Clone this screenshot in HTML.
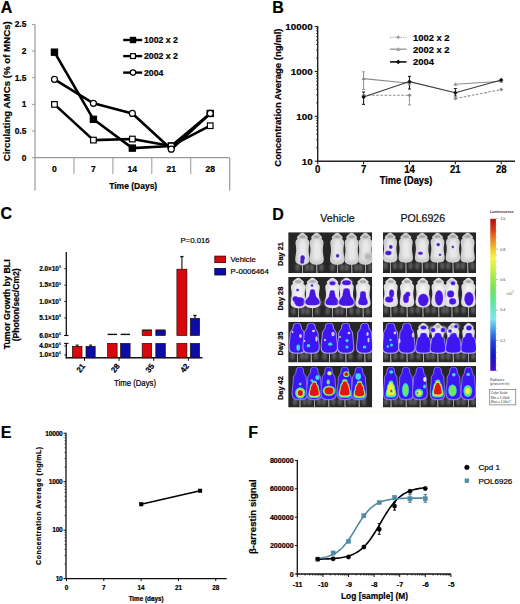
<!DOCTYPE html>
<html><head><meta charset="utf-8"><title>Figure</title>
<style>html,body{margin:0;padding:0;background:#fff;} svg{display:block;} text{font-family:"Liberation Sans", sans-serif;}</style>
</head><body>
<svg width="520" height="604" viewBox="0 0 520 604">
<defs>
<filter id="bl05" x="-50%" y="-50%" width="200%" height="200%"><feGaussianBlur stdDeviation="0.5"/></filter>
<filter id="bl07" x="-50%" y="-50%" width="200%" height="200%"><feGaussianBlur stdDeviation="0.7"/></filter>
<filter id="bl1" x="-50%" y="-50%" width="200%" height="200%"><feGaussianBlur stdDeviation="1.0"/></filter>
<filter id="bl15" x="-50%" y="-50%" width="200%" height="200%"><feGaussianBlur stdDeviation="1.5"/></filter>
</defs>
<rect width="520" height="604" fill="#fff"/>
<text x="0.80" y="12.80" font-size="16" font-weight="700" text-anchor="start" fill="#000"  stroke="#000" stroke-width="0.2">A</text>
<line x1="35.00" y1="24.40" x2="35.00" y2="190.50" stroke="#9a9a9a" stroke-width="1.2" />
<line x1="35.00" y1="157.70" x2="229.70" y2="157.70" stroke="#9a9a9a" stroke-width="1.2" />
<line x1="32.00" y1="157.70" x2="35.00" y2="157.70" stroke="#9a9a9a" stroke-width="1" />
<text x="26.30" y="160.70" font-size="8.4" font-weight="700" text-anchor="end" fill="#000"  stroke="#000" stroke-width="0.2">0</text>
<line x1="32.00" y1="131.05" x2="35.00" y2="131.05" stroke="#9a9a9a" stroke-width="1" />
<text x="26.30" y="134.05" font-size="8.4" font-weight="700" text-anchor="end" fill="#000"  stroke="#000" stroke-width="0.2">0.5</text>
<line x1="32.00" y1="104.40" x2="35.00" y2="104.40" stroke="#9a9a9a" stroke-width="1" />
<text x="26.30" y="107.40" font-size="8.4" font-weight="700" text-anchor="end" fill="#000"  stroke="#000" stroke-width="0.2">1</text>
<line x1="32.00" y1="77.75" x2="35.00" y2="77.75" stroke="#9a9a9a" stroke-width="1" />
<text x="26.30" y="80.75" font-size="8.4" font-weight="700" text-anchor="end" fill="#000"  stroke="#000" stroke-width="0.2">1.5</text>
<line x1="32.00" y1="51.10" x2="35.00" y2="51.10" stroke="#9a9a9a" stroke-width="1" />
<text x="26.30" y="54.10" font-size="8.4" font-weight="700" text-anchor="end" fill="#000"  stroke="#000" stroke-width="0.2">2</text>
<line x1="32.00" y1="24.45" x2="35.00" y2="24.45" stroke="#9a9a9a" stroke-width="1" />
<text x="26.30" y="27.45" font-size="8.4" font-weight="700" text-anchor="end" fill="#000"  stroke="#000" stroke-width="0.2">2.5</text>
<line x1="73.94" y1="157.70" x2="73.94" y2="174.00" stroke="#9a9a9a" stroke-width="1" />
<line x1="112.88" y1="157.70" x2="112.88" y2="174.00" stroke="#9a9a9a" stroke-width="1" />
<line x1="151.82" y1="157.70" x2="151.82" y2="174.00" stroke="#9a9a9a" stroke-width="1" />
<line x1="190.76" y1="157.70" x2="190.76" y2="174.00" stroke="#9a9a9a" stroke-width="1" />
<line x1="229.70" y1="157.70" x2="229.70" y2="190.50" stroke="#9a9a9a" stroke-width="1.2" />
<text x="54.47" y="172.30" font-size="8.6" font-weight="700" text-anchor="middle" fill="#000"  stroke="#000" stroke-width="0.2">0</text>
<text x="93.41" y="172.30" font-size="8.6" font-weight="700" text-anchor="middle" fill="#000"  stroke="#000" stroke-width="0.2">7</text>
<text x="132.35" y="172.30" font-size="8.6" font-weight="700" text-anchor="middle" fill="#000"  stroke="#000" stroke-width="0.2">14</text>
<text x="171.29" y="172.30" font-size="8.6" font-weight="700" text-anchor="middle" fill="#000"  stroke="#000" stroke-width="0.2">21</text>
<text x="210.23" y="172.30" font-size="8.6" font-weight="700" text-anchor="middle" fill="#000"  stroke="#000" stroke-width="0.2">28</text>
<text x="133.20" y="189.20" font-size="8.5" font-weight="700" text-anchor="middle" fill="#000"  stroke="#000" stroke-width="0.2">Time (Days)</text>
<text transform="translate(7.00,91.30) rotate(-90)" x="0" y="3.39" font-size="9.7" font-weight="700" text-anchor="middle" fill="#000"  stroke="#000" stroke-width="0.2">Circulating AMCs (% of MNCs)</text>
<polyline points="54.47,104.40 93.41,140.11 132.35,139.04 171.29,145.97 210.23,125.72" fill="none" stroke="#000" stroke-width="2.6" stroke-linejoin="round" />
<polyline points="54.47,52.17 93.41,119.32 132.35,148.11 171.29,145.97 210.23,113.46" fill="none" stroke="#000" stroke-width="2.6" stroke-linejoin="round" />
<polyline points="54.47,79.35 93.41,103.33 132.35,113.46 171.29,149.17 210.23,113.46" fill="none" stroke="#000" stroke-width="2.6" stroke-linejoin="round" />
<rect x="51.37" y="49.07" width="6.2" height="6.2" fill="#000" stroke="#000" stroke-width="1.2"/>
<rect x="90.31" y="116.22" width="6.2" height="6.2" fill="#000" stroke="#000" stroke-width="1.2"/>
<rect x="129.25" y="145.01" width="6.2" height="6.2" fill="#000" stroke="#000" stroke-width="1.2"/>
<rect x="168.19" y="142.87" width="6.2" height="6.2" fill="#000" stroke="#000" stroke-width="1.2"/>
<rect x="207.13" y="110.36" width="6.2" height="6.2" fill="#000" stroke="#000" stroke-width="1.2"/>
<rect x="51.67" y="101.60" width="5.6" height="5.6" fill="#fff" stroke="#000" stroke-width="1.2"/>
<rect x="90.61" y="137.31" width="5.6" height="5.6" fill="#fff" stroke="#000" stroke-width="1.2"/>
<rect x="129.55" y="136.24" width="5.6" height="5.6" fill="#fff" stroke="#000" stroke-width="1.2"/>
<rect x="168.49" y="143.17" width="5.6" height="5.6" fill="#fff" stroke="#000" stroke-width="1.2"/>
<rect x="207.43" y="122.92" width="5.6" height="5.6" fill="#fff" stroke="#000" stroke-width="1.2"/>
<circle cx="54.47" cy="79.35" r="3.0" fill="#fff" stroke="#000" stroke-width="1.2"/>
<circle cx="93.41" cy="103.33" r="3.0" fill="#fff" stroke="#000" stroke-width="1.2"/>
<circle cx="132.35" cy="113.46" r="3.0" fill="#fff" stroke="#000" stroke-width="1.2"/>
<circle cx="171.29" cy="149.17" r="3.0" fill="#fff" stroke="#000" stroke-width="1.2"/>
<circle cx="210.23" cy="113.46" r="3.0" fill="#fff" stroke="#000" stroke-width="1.2"/>
<line x1="123.20" y1="40.00" x2="142.20" y2="40.00" stroke="#000" stroke-width="2.4" />
<rect x="130.40" y="37.40" width="5.2" height="5.2" fill="#000" stroke="#000" stroke-width="1.2"/>
<text x="144.00" y="43.00" font-size="8.7" font-weight="700" text-anchor="start" fill="#000"  stroke="#000" stroke-width="0.2">1002 x 2</text>
<line x1="123.20" y1="56.10" x2="142.20" y2="56.10" stroke="#000" stroke-width="2.4" />
<rect x="130.60" y="53.70" width="4.8" height="4.8" fill="#fff" stroke="#000" stroke-width="1.2"/>
<text x="144.00" y="59.10" font-size="8.7" font-weight="700" text-anchor="start" fill="#000"  stroke="#000" stroke-width="0.2">2002 x 2</text>
<line x1="123.20" y1="72.60" x2="142.20" y2="72.60" stroke="#000" stroke-width="2.4" />
<circle cx="133.00" cy="72.60" r="2.7" fill="#fff" stroke="#000" stroke-width="1.2"/>
<text x="144.00" y="75.60" font-size="8.7" font-weight="700" text-anchor="start" fill="#000"  stroke="#000" stroke-width="0.2">2004</text>
<text x="272.30" y="12.80" font-size="16" font-weight="700" text-anchor="start" fill="#000"  stroke="#000" stroke-width="0.2">B</text>
<line x1="317.70" y1="26.09" x2="317.70" y2="162.00" stroke="#222" stroke-width="1.4" />
<line x1="317.00" y1="161.20" x2="515.00" y2="161.20" stroke="#222" stroke-width="1.6" />
<line x1="314.70" y1="161.20" x2="317.70" y2="161.20" stroke="#222" stroke-width="1.1" />
<text x="312.60" y="164.70" font-size="9.8" font-weight="700" text-anchor="end" fill="#000"  stroke="#000" stroke-width="0.2">10</text>
<line x1="316.00" y1="147.69" x2="317.70" y2="147.69" stroke="#222" stroke-width="0.8" />
<line x1="316.00" y1="139.79" x2="317.70" y2="139.79" stroke="#222" stroke-width="0.8" />
<line x1="316.00" y1="134.19" x2="317.70" y2="134.19" stroke="#222" stroke-width="0.8" />
<line x1="316.00" y1="129.84" x2="317.70" y2="129.84" stroke="#222" stroke-width="0.8" />
<line x1="316.00" y1="126.28" x2="317.70" y2="126.28" stroke="#222" stroke-width="0.8" />
<line x1="316.00" y1="123.28" x2="317.70" y2="123.28" stroke="#222" stroke-width="0.8" />
<line x1="316.00" y1="120.68" x2="317.70" y2="120.68" stroke="#222" stroke-width="0.8" />
<line x1="316.00" y1="118.38" x2="317.70" y2="118.38" stroke="#222" stroke-width="0.8" />
<line x1="314.70" y1="116.33" x2="317.70" y2="116.33" stroke="#222" stroke-width="1.1" />
<text x="312.60" y="119.83" font-size="9.8" font-weight="700" text-anchor="end" fill="#000"  stroke="#000" stroke-width="0.2">100</text>
<line x1="316.00" y1="102.82" x2="317.70" y2="102.82" stroke="#222" stroke-width="0.8" />
<line x1="316.00" y1="94.92" x2="317.70" y2="94.92" stroke="#222" stroke-width="0.8" />
<line x1="316.00" y1="89.32" x2="317.70" y2="89.32" stroke="#222" stroke-width="0.8" />
<line x1="316.00" y1="84.97" x2="317.70" y2="84.97" stroke="#222" stroke-width="0.8" />
<line x1="316.00" y1="81.41" x2="317.70" y2="81.41" stroke="#222" stroke-width="0.8" />
<line x1="316.00" y1="78.41" x2="317.70" y2="78.41" stroke="#222" stroke-width="0.8" />
<line x1="316.00" y1="75.81" x2="317.70" y2="75.81" stroke="#222" stroke-width="0.8" />
<line x1="316.00" y1="73.51" x2="317.70" y2="73.51" stroke="#222" stroke-width="0.8" />
<line x1="314.70" y1="71.46" x2="317.70" y2="71.46" stroke="#222" stroke-width="1.1" />
<text x="312.60" y="74.96" font-size="9.8" font-weight="700" text-anchor="end" fill="#000"  stroke="#000" stroke-width="0.2">1000</text>
<line x1="316.00" y1="57.95" x2="317.70" y2="57.95" stroke="#222" stroke-width="0.8" />
<line x1="316.00" y1="50.05" x2="317.70" y2="50.05" stroke="#222" stroke-width="0.8" />
<line x1="316.00" y1="44.45" x2="317.70" y2="44.45" stroke="#222" stroke-width="0.8" />
<line x1="316.00" y1="40.10" x2="317.70" y2="40.10" stroke="#222" stroke-width="0.8" />
<line x1="316.00" y1="36.54" x2="317.70" y2="36.54" stroke="#222" stroke-width="0.8" />
<line x1="316.00" y1="33.54" x2="317.70" y2="33.54" stroke="#222" stroke-width="0.8" />
<line x1="316.00" y1="30.94" x2="317.70" y2="30.94" stroke="#222" stroke-width="0.8" />
<line x1="316.00" y1="28.64" x2="317.70" y2="28.64" stroke="#222" stroke-width="0.8" />
<line x1="314.70" y1="26.59" x2="317.70" y2="26.59" stroke="#222" stroke-width="1.1" />
<text x="312.60" y="30.09" font-size="9.8" font-weight="700" text-anchor="end" fill="#000"  stroke="#000" stroke-width="0.2">10000</text>
<line x1="317.70" y1="161.20" x2="317.70" y2="164.20" stroke="#222" stroke-width="1.1" />
<text transform="translate(317.70,173.00) scale(1,1.15)" x="0" y="0" font-size="9.6" font-weight="700" text-anchor="middle" fill="#000"  stroke="#000" stroke-width="0.2">0</text>
<line x1="363.58" y1="161.20" x2="363.58" y2="164.20" stroke="#222" stroke-width="1.1" />
<text transform="translate(363.58,173.00) scale(1,1.15)" x="0" y="0" font-size="9.6" font-weight="700" text-anchor="middle" fill="#000"  stroke="#000" stroke-width="0.2">7</text>
<line x1="409.47" y1="161.20" x2="409.47" y2="164.20" stroke="#222" stroke-width="1.1" />
<text transform="translate(409.47,173.00) scale(1,1.15)" x="0" y="0" font-size="9.6" font-weight="700" text-anchor="middle" fill="#000"  stroke="#000" stroke-width="0.2">14</text>
<line x1="455.36" y1="161.20" x2="455.36" y2="164.20" stroke="#222" stroke-width="1.1" />
<text transform="translate(455.36,173.00) scale(1,1.15)" x="0" y="0" font-size="9.6" font-weight="700" text-anchor="middle" fill="#000"  stroke="#000" stroke-width="0.2">21</text>
<line x1="501.24" y1="161.20" x2="501.24" y2="164.20" stroke="#222" stroke-width="1.1" />
<text transform="translate(501.24,173.00) scale(1,1.15)" x="0" y="0" font-size="9.6" font-weight="700" text-anchor="middle" fill="#000"  stroke="#000" stroke-width="0.2">28</text>
<text transform="translate(406.00,184.30) scale(1,1.12)" x="0" y="0" font-size="9.3" font-weight="700" text-anchor="middle" fill="#000"  stroke="#000" stroke-width="0.2">Time (Days)</text>
<text transform="translate(278.00,97.60) rotate(-90)" x="0" y="3.32" font-size="9.5" font-weight="700" text-anchor="middle" fill="#000"  stroke="#000" stroke-width="0.2">Concentration Average (ng/ml)</text>
<line x1="363.58" y1="71.80" x2="363.58" y2="89.50" stroke="#9a9a9a" stroke-width="1.1" />
<line x1="362.08" y1="71.80" x2="365.08" y2="71.80" stroke="#9a9a9a" stroke-width="1.1" />
<line x1="362.08" y1="89.50" x2="365.08" y2="89.50" stroke="#9a9a9a" stroke-width="1.1" />
<line x1="409.47" y1="95.30" x2="409.47" y2="104.80" stroke="#9a9a9a" stroke-width="1.1" />
<line x1="407.97" y1="95.30" x2="410.97" y2="95.30" stroke="#9a9a9a" stroke-width="1.1" />
<line x1="407.97" y1="104.80" x2="410.97" y2="104.80" stroke="#9a9a9a" stroke-width="1.1" />
<line x1="363.58" y1="92.00" x2="363.58" y2="104.40" stroke="#222" stroke-width="1.1" />
<line x1="362.08" y1="92.00" x2="365.08" y2="92.00" stroke="#222" stroke-width="1.1" />
<line x1="362.08" y1="104.40" x2="365.08" y2="104.40" stroke="#222" stroke-width="1.1" />
<line x1="409.47" y1="76.40" x2="409.47" y2="89.00" stroke="#222" stroke-width="1.1" />
<line x1="407.97" y1="76.40" x2="410.97" y2="76.40" stroke="#222" stroke-width="1.1" />
<line x1="407.97" y1="89.00" x2="410.97" y2="89.00" stroke="#222" stroke-width="1.1" />
<line x1="455.36" y1="88.50" x2="455.36" y2="96.00" stroke="#222" stroke-width="1.0" />
<line x1="453.86" y1="88.50" x2="456.86" y2="88.50" stroke="#222" stroke-width="1.0" />
<line x1="453.86" y1="96.00" x2="456.86" y2="96.00" stroke="#222" stroke-width="1.0" />
<polyline points="363.58,95.30 409.47,95.30" fill="none" stroke="#8c8c8c" stroke-width="1.1" stroke-linejoin="round" stroke-dasharray="2.6,1.6"/>
<polyline points="455.36,98.60 501.24,89.50" fill="none" stroke="#8c8c8c" stroke-width="1.1" stroke-linejoin="round" stroke-dasharray="2.6,1.6"/>
<polyline points="363.58,78.60 409.47,83.30" fill="none" stroke="#8c8c8c" stroke-width="1.1" stroke-linejoin="round" />
<polyline points="455.36,84.30 501.24,81.20" fill="none" stroke="#8c8c8c" stroke-width="1.1" stroke-linejoin="round" />
<polyline points="363.58,97.00 409.47,81.60 455.36,92.70 501.24,80.00" fill="none" stroke="#3a3a3a" stroke-width="1.1" stroke-linejoin="round" />
<path d="M363.58,93.30 L365.58,95.30 L363.58,97.30 L361.58,95.30Z" fill="#8c8c8c"/>
<path d="M409.47,93.30 L411.47,95.30 L409.47,97.30 L407.47,95.30Z" fill="#8c8c8c"/>
<path d="M455.36,96.60 L457.36,98.60 L455.36,100.60 L453.36,98.60Z" fill="#8c8c8c"/>
<path d="M501.24,87.50 L503.24,89.50 L501.24,91.50 L499.24,89.50Z" fill="#8c8c8c"/>
<path d="M363.58,76.60 L365.58,80.10 L361.58,80.10Z" fill="#8c8c8c"/>
<path d="M409.47,81.30 L411.47,84.80 L407.47,84.80Z" fill="#8c8c8c"/>
<path d="M455.36,82.30 L457.36,85.80 L453.36,85.80Z" fill="#8c8c8c"/>
<path d="M501.24,79.20 L503.24,82.70 L499.24,82.70Z" fill="#8c8c8c"/>
<path d="M363.58,94.80 L365.78,97.00 L363.58,99.20 L361.38,97.00Z" fill="#111"/>
<path d="M409.47,79.40 L411.67,81.60 L409.47,83.80 L407.27,81.60Z" fill="#111"/>
<path d="M455.36,90.50 L457.56,92.70 L455.36,94.90 L453.16,92.70Z" fill="#111"/>
<path d="M501.24,77.80 L503.44,80.00 L501.24,82.20 L499.04,80.00Z" fill="#111"/>
<line x1="390.00" y1="37.30" x2="406.50" y2="37.30" stroke="#aaaaaa" stroke-width="1.2" stroke-dasharray="1.3,1.3"/>
<path d="M398.20,35.30 L400.20,37.30 L398.20,39.30 L396.20,37.30Z" fill="#9a9a9a"/>
<line x1="390.00" y1="49.20" x2="406.50" y2="49.20" stroke="#9a9a9a" stroke-width="1.4" />
<path d="M398.20,47.10 L400.30,50.78 L396.10,50.78Z" fill="#9a9a9a"/>
<line x1="390.00" y1="61.90" x2="406.50" y2="61.90" stroke="#111" stroke-width="1.6" />
<path d="M398.20,59.60 L400.50,61.90 L398.20,64.20 L395.90,61.90Z" fill="#111"/>
<text x="413.00" y="40.60" font-size="9.4" font-weight="700" text-anchor="start" fill="#000"  stroke="#000" stroke-width="0.2">1002 x 2</text>
<text x="413.00" y="52.50" font-size="9.4" font-weight="700" text-anchor="start" fill="#000"  stroke="#000" stroke-width="0.2">2002 x 2</text>
<text x="413.00" y="65.20" font-size="9.4" font-weight="700" text-anchor="start" fill="#000"  stroke="#000" stroke-width="0.2">2004</text>
<text x="0.50" y="219.00" font-size="16" font-weight="700" text-anchor="start" fill="#000"  stroke="#000" stroke-width="0.2">C</text>
<line x1="66.30" y1="252.00" x2="66.30" y2="335.50" stroke="#111" stroke-width="1.3" />
<line x1="64.10" y1="335.50" x2="68.50" y2="335.50" stroke="#111" stroke-width="1.1" />
<line x1="64.10" y1="343.40" x2="68.50" y2="343.40" stroke="#111" stroke-width="1.1" />
<line x1="66.30" y1="343.40" x2="66.30" y2="358.40" stroke="#111" stroke-width="1.3" />
<line x1="65.70" y1="357.80" x2="202.50" y2="357.80" stroke="#111" stroke-width="1.4" />
<line x1="64.30" y1="268.70" x2="66.30" y2="268.70" stroke="#111" stroke-width="0.9" />
<text x="58.9" y="270.90" font-size="6.4" font-weight="700" text-anchor="end" stroke="#000" stroke-width="0.2">2.0×10</text>
<text x="59.0" y="268.10" font-size="3.6" font-weight="700">9</text>
<line x1="64.30" y1="285.10" x2="66.30" y2="285.10" stroke="#111" stroke-width="0.9" />
<text x="58.9" y="287.30" font-size="6.4" font-weight="700" text-anchor="end" stroke="#000" stroke-width="0.2">1.5×10</text>
<text x="59.0" y="284.50" font-size="3.6" font-weight="700">9</text>
<line x1="64.30" y1="301.50" x2="66.30" y2="301.50" stroke="#111" stroke-width="0.9" />
<text x="58.9" y="303.70" font-size="6.4" font-weight="700" text-anchor="end" stroke="#000" stroke-width="0.2">1.0×10</text>
<text x="59.0" y="300.90" font-size="3.6" font-weight="700">9</text>
<line x1="64.30" y1="317.90" x2="66.30" y2="317.90" stroke="#111" stroke-width="0.9" />
<text x="58.9" y="320.10" font-size="6.4" font-weight="700" text-anchor="end" stroke="#000" stroke-width="0.2">5.1×10</text>
<text x="59.0" y="317.30" font-size="3.6" font-weight="700">8</text>
<line x1="64.30" y1="335.50" x2="66.30" y2="335.50" stroke="#111" stroke-width="0.9" />
<text x="58.9" y="337.70" font-size="6.4" font-weight="700" text-anchor="end" stroke="#000" stroke-width="0.2">6.0×10</text>
<text x="59.0" y="334.90" font-size="3.6" font-weight="700">6</text>
<line x1="64.30" y1="346.00" x2="66.30" y2="346.00" stroke="#111" stroke-width="0.9" />
<text x="58.9" y="348.20" font-size="6.4" font-weight="700" text-anchor="end" stroke="#000" stroke-width="0.2">4.0×10</text>
<text x="59.0" y="345.40" font-size="3.6" font-weight="700">6</text>
<line x1="64.30" y1="355.00" x2="66.30" y2="355.00" stroke="#111" stroke-width="0.9" />
<text x="58.9" y="357.20" font-size="6.4" font-weight="700" text-anchor="end" stroke="#000" stroke-width="0.2">1.0×10</text>
<text x="59.0" y="354.40" font-size="3.6" font-weight="700">6</text>
<rect x="72.40" y="346.30" width="9.60" height="11.50" fill="#d9070b" stroke="#2a0a0a" stroke-width="0.7"/>
<rect x="86.00" y="346.30" width="9.20" height="11.50" fill="#0c0ca6" stroke="#2a0a0a" stroke-width="0.7"/>
<line x1="77.20" y1="345.00" x2="77.20" y2="346.30" stroke="#111" stroke-width="0.9" />
<line x1="75.70" y1="345.00" x2="78.70" y2="345.00" stroke="#111" stroke-width="0.9" />
<line x1="75.70" y1="346.30" x2="78.70" y2="346.30" stroke="#111" stroke-width="0.9" />
<line x1="90.60" y1="345.00" x2="90.60" y2="346.30" stroke="#111" stroke-width="0.9" />
<line x1="89.10" y1="345.00" x2="92.10" y2="345.00" stroke="#111" stroke-width="0.9" />
<line x1="89.10" y1="346.30" x2="92.10" y2="346.30" stroke="#111" stroke-width="0.9" />
<rect x="107.60" y="343.40" width="9.50" height="14.40" fill="#d9070b" stroke="#2a0a0a" stroke-width="0.7"/>
<rect x="120.60" y="343.40" width="9.50" height="14.40" fill="#0c0ca6" stroke="#2a0a0a" stroke-width="0.7"/>
<rect x="142.20" y="343.40" width="9.50" height="14.40" fill="#d9070b" stroke="#2a0a0a" stroke-width="0.7"/>
<rect x="155.80" y="343.40" width="9.50" height="14.40" fill="#0c0ca6" stroke="#2a0a0a" stroke-width="0.7"/>
<rect x="176.90" y="343.40" width="10.00" height="14.40" fill="#d9070b" stroke="#2a0a0a" stroke-width="0.7"/>
<rect x="190.30" y="343.40" width="9.30" height="14.40" fill="#0c0ca6" stroke="#2a0a0a" stroke-width="0.7"/>
<line x1="107.60" y1="334.40" x2="117.10" y2="334.40" stroke="#111" stroke-width="1.4" />
<line x1="120.60" y1="334.40" x2="130.10" y2="334.40" stroke="#111" stroke-width="1.4" />
<rect x="142.20" y="330.30" width="9.50" height="5.20" fill="#d9070b" stroke="#2a0a0a" stroke-width="0.7"/>
<rect x="155.80" y="330.30" width="9.50" height="5.20" fill="#0c0ca6" stroke="#2a0a0a" stroke-width="0.7"/>
<line x1="142.20" y1="330.00" x2="151.70" y2="330.00" stroke="#111" stroke-width="1.0" />
<line x1="155.80" y1="330.00" x2="165.30" y2="330.00" stroke="#111" stroke-width="1.0" />
<line x1="181.90" y1="256.60" x2="181.90" y2="269.20" stroke="#222" stroke-width="1.2" />
<line x1="180.30" y1="256.60" x2="183.50" y2="256.60" stroke="#111" stroke-width="1.4" />
<rect x="176.90" y="269.20" width="10.00" height="66.30" fill="#d9070b" stroke="#2a0a0a" stroke-width="0.7"/>
<line x1="194.90" y1="315.50" x2="194.90" y2="318.30" stroke="#222" stroke-width="1.2" />
<line x1="193.30" y1="315.50" x2="196.50" y2="315.50" stroke="#111" stroke-width="1.4" />
<rect x="190.30" y="318.30" width="9.30" height="17.20" fill="#0c0ca6" stroke="#2a0a0a" stroke-width="0.7"/>
<line x1="84.50" y1="357.80" x2="84.50" y2="360.80" stroke="#111" stroke-width="1.0" />
<text transform="translate(83.40,364.40) rotate(-52)" x="0" y="2.8" font-size="8" font-weight="700" text-anchor="end" stroke="#000" stroke-width="0.2">21</text>
<line x1="119.10" y1="357.80" x2="119.10" y2="360.80" stroke="#111" stroke-width="1.0" />
<text transform="translate(118.00,364.40) rotate(-52)" x="0" y="2.8" font-size="8" font-weight="700" text-anchor="end" stroke="#000" stroke-width="0.2">28</text>
<line x1="153.70" y1="357.80" x2="153.70" y2="360.80" stroke="#111" stroke-width="1.0" />
<text transform="translate(152.60,364.40) rotate(-52)" x="0" y="2.8" font-size="8" font-weight="700" text-anchor="end" stroke="#000" stroke-width="0.2">35</text>
<line x1="188.40" y1="357.80" x2="188.40" y2="360.80" stroke="#111" stroke-width="1.0" />
<text transform="translate(187.30,364.40) rotate(-52)" x="0" y="2.8" font-size="8" font-weight="700" text-anchor="end" stroke="#000" stroke-width="0.2">42</text>
<text transform="translate(135.00,386.40) scale(1,1.12)" x="0" y="0" font-size="7.8" font-weight="400" text-anchor="middle" fill="#000"  stroke="#000" stroke-width="0.2">Time (Days)</text>
<text x="180.40" y="242.70" font-size="7.8" font-weight="400" text-anchor="start" fill="#000"  stroke="#000" stroke-width="0.2">P=0.016</text>
<rect x="214.8" y="256.1" width="10.8" height="6.5" fill="#d9070b" stroke="#300" stroke-width="0.8"/>
<rect x="214.8" y="268.5" width="10.8" height="6.5" fill="#0c0ca6" stroke="#003" stroke-width="0.8"/>
<text x="230.60" y="262.30" font-size="7.8" font-weight="400" text-anchor="start" fill="#000"  stroke="#000" stroke-width="0.2">Vehicle</text>
<text x="230.60" y="274.40" font-size="7.8" font-weight="400" text-anchor="start" fill="#000"  stroke="#000" stroke-width="0.2">P-0006464</text>
<text transform="translate(7.00,304.30) rotate(-90)" x="0" y="3.11" font-size="8.9" font-weight="700" text-anchor="middle" fill="#000"  stroke="#000" stroke-width="0.2">Tumor Growth by BLI</text>
<text transform="translate(15.60,304.80) rotate(-90)" x="0" y="3.01" font-size="8.6" font-weight="700" text-anchor="middle" fill="#000"  stroke="#000" stroke-width="0.2">(Photon/sec/Cm2)</text>
<text x="0.80" y="438.00" font-size="16" font-weight="700" text-anchor="start" fill="#000"  stroke="#000" stroke-width="0.2">E</text>
<line x1="66.00" y1="432.75" x2="66.00" y2="579.30" stroke="#111" stroke-width="1.3" />
<line x1="65.40" y1="578.60" x2="226.80" y2="578.60" stroke="#111" stroke-width="1.4" />
<line x1="63.50" y1="578.60" x2="66.00" y2="578.60" stroke="#111" stroke-width="1.0" />
<text x="62.6" y="580.90" font-size="6.6" font-weight="700" text-anchor="end" letter-spacing="-0.2" stroke="#000" stroke-width="0.2">10</text>
<line x1="64.50" y1="564.02" x2="66.00" y2="564.02" stroke="#111" stroke-width="0.7" />
<line x1="64.50" y1="555.48" x2="66.00" y2="555.48" stroke="#111" stroke-width="0.7" />
<line x1="64.50" y1="549.43" x2="66.00" y2="549.43" stroke="#111" stroke-width="0.7" />
<line x1="64.50" y1="544.73" x2="66.00" y2="544.73" stroke="#111" stroke-width="0.7" />
<line x1="64.50" y1="540.90" x2="66.00" y2="540.90" stroke="#111" stroke-width="0.7" />
<line x1="64.50" y1="537.65" x2="66.00" y2="537.65" stroke="#111" stroke-width="0.7" />
<line x1="64.50" y1="534.85" x2="66.00" y2="534.85" stroke="#111" stroke-width="0.7" />
<line x1="64.50" y1="532.37" x2="66.00" y2="532.37" stroke="#111" stroke-width="0.7" />
<line x1="63.50" y1="530.15" x2="66.00" y2="530.15" stroke="#111" stroke-width="1.0" />
<text x="62.6" y="532.45" font-size="6.6" font-weight="700" text-anchor="end" letter-spacing="-0.2" stroke="#000" stroke-width="0.2">100</text>
<line x1="64.50" y1="515.57" x2="66.00" y2="515.57" stroke="#111" stroke-width="0.7" />
<line x1="64.50" y1="507.03" x2="66.00" y2="507.03" stroke="#111" stroke-width="0.7" />
<line x1="64.50" y1="500.98" x2="66.00" y2="500.98" stroke="#111" stroke-width="0.7" />
<line x1="64.50" y1="496.28" x2="66.00" y2="496.28" stroke="#111" stroke-width="0.7" />
<line x1="64.50" y1="492.45" x2="66.00" y2="492.45" stroke="#111" stroke-width="0.7" />
<line x1="64.50" y1="489.20" x2="66.00" y2="489.20" stroke="#111" stroke-width="0.7" />
<line x1="64.50" y1="486.40" x2="66.00" y2="486.40" stroke="#111" stroke-width="0.7" />
<line x1="64.50" y1="483.92" x2="66.00" y2="483.92" stroke="#111" stroke-width="0.7" />
<line x1="63.50" y1="481.70" x2="66.00" y2="481.70" stroke="#111" stroke-width="1.0" />
<text x="62.6" y="484.00" font-size="6.6" font-weight="700" text-anchor="end" letter-spacing="-0.2" stroke="#000" stroke-width="0.2">1000</text>
<line x1="64.50" y1="467.12" x2="66.00" y2="467.12" stroke="#111" stroke-width="0.7" />
<line x1="64.50" y1="458.58" x2="66.00" y2="458.58" stroke="#111" stroke-width="0.7" />
<line x1="64.50" y1="452.53" x2="66.00" y2="452.53" stroke="#111" stroke-width="0.7" />
<line x1="64.50" y1="447.83" x2="66.00" y2="447.83" stroke="#111" stroke-width="0.7" />
<line x1="64.50" y1="444.00" x2="66.00" y2="444.00" stroke="#111" stroke-width="0.7" />
<line x1="64.50" y1="440.75" x2="66.00" y2="440.75" stroke="#111" stroke-width="0.7" />
<line x1="64.50" y1="437.95" x2="66.00" y2="437.95" stroke="#111" stroke-width="0.7" />
<line x1="64.50" y1="435.47" x2="66.00" y2="435.47" stroke="#111" stroke-width="0.7" />
<line x1="63.50" y1="433.25" x2="66.00" y2="433.25" stroke="#111" stroke-width="1.0" />
<text x="62.6" y="435.55" font-size="6.6" font-weight="700" text-anchor="end" letter-spacing="-0.2" stroke="#000" stroke-width="0.2">10000</text>
<line x1="66.50" y1="578.60" x2="66.50" y2="581.10" stroke="#111" stroke-width="1.0" />
<text x="66.50" y="589.60" font-size="6.4" font-weight="700" text-anchor="middle" fill="#000"  stroke="#000" stroke-width="0.2">0</text>
<line x1="103.81" y1="578.60" x2="103.81" y2="581.10" stroke="#111" stroke-width="1.0" />
<text x="103.81" y="589.60" font-size="6.4" font-weight="700" text-anchor="middle" fill="#000"  stroke="#000" stroke-width="0.2">7</text>
<line x1="141.12" y1="578.60" x2="141.12" y2="581.10" stroke="#111" stroke-width="1.0" />
<text x="141.12" y="589.60" font-size="6.4" font-weight="700" text-anchor="middle" fill="#000"  stroke="#000" stroke-width="0.2">14</text>
<line x1="178.43" y1="578.60" x2="178.43" y2="581.10" stroke="#111" stroke-width="1.0" />
<text x="178.43" y="589.60" font-size="6.4" font-weight="700" text-anchor="middle" fill="#000"  stroke="#000" stroke-width="0.2">21</text>
<line x1="215.74" y1="578.60" x2="215.74" y2="581.10" stroke="#111" stroke-width="1.0" />
<text x="215.74" y="589.60" font-size="6.4" font-weight="700" text-anchor="middle" fill="#000"  stroke="#000" stroke-width="0.2">28</text>
<text x="146.10" y="600.50" font-size="6.3" font-weight="700" text-anchor="middle" fill="#000"  stroke="#000" stroke-width="0.2">Time (days)</text>
<text transform="translate(38.80,505.60) rotate(-90)" x="0" y="2.45" font-size="7" font-weight="700" text-anchor="middle" fill="#000" letter-spacing="0.5" stroke="#000" stroke-width="0.2">Concentration Average (ng/mL)</text>
<polyline points="141.20,504.20 200.10,490.80" fill="none" stroke="#000" stroke-width="1.6" stroke-linejoin="round" />
<rect x="139.40" y="502.40" width="3.6" height="3.6" fill="#000" stroke="#000" stroke-width="0.5"/>
<rect x="198.30" y="489.00" width="3.6" height="3.6" fill="#000" stroke="#000" stroke-width="0.5"/>
<text x="248.20" y="438.00" font-size="16" font-weight="700" text-anchor="start" fill="#000"  stroke="#000" stroke-width="0.2">F</text>
<line x1="297.30" y1="459.90" x2="297.30" y2="574.70" stroke="#111" stroke-width="1.3" />
<line x1="296.70" y1="574.00" x2="450.90" y2="574.00" stroke="#111" stroke-width="1.4" />
<line x1="294.80" y1="574.00" x2="297.30" y2="574.00" stroke="#111" stroke-width="1.0" />
<text x="293.60" y="576.50" font-size="7.1" font-weight="700" text-anchor="end" fill="#000"  stroke="#000" stroke-width="0.2">0</text>
<line x1="294.80" y1="545.60" x2="297.30" y2="545.60" stroke="#111" stroke-width="1.0" />
<text x="293.60" y="548.10" font-size="7.1" font-weight="700" text-anchor="end" fill="#000"  stroke="#000" stroke-width="0.2">200000</text>
<line x1="294.80" y1="517.20" x2="297.30" y2="517.20" stroke="#111" stroke-width="1.0" />
<text x="293.60" y="519.70" font-size="7.1" font-weight="700" text-anchor="end" fill="#000"  stroke="#000" stroke-width="0.2">400000</text>
<line x1="294.80" y1="488.80" x2="297.30" y2="488.80" stroke="#111" stroke-width="1.0" />
<text x="293.60" y="491.30" font-size="7.1" font-weight="700" text-anchor="end" fill="#000"  stroke="#000" stroke-width="0.2">600000</text>
<line x1="294.80" y1="460.40" x2="297.30" y2="460.40" stroke="#111" stroke-width="1.0" />
<text x="293.60" y="462.90" font-size="7.1" font-weight="700" text-anchor="end" fill="#000"  stroke="#000" stroke-width="0.2">800000</text>
<line x1="297.30" y1="574.00" x2="297.30" y2="577.00" stroke="#111" stroke-width="1.0" />
<text x="297.60" y="586.60" font-size="7.1" font-weight="700" text-anchor="middle" fill="#000"  stroke="#000" stroke-width="0.2">-11</text>
<line x1="305.01" y1="574.00" x2="305.01" y2="575.60" stroke="#111" stroke-width="0.7" />
<line x1="309.51" y1="574.00" x2="309.51" y2="575.60" stroke="#111" stroke-width="0.7" />
<line x1="312.71" y1="574.00" x2="312.71" y2="575.60" stroke="#111" stroke-width="0.7" />
<line x1="315.19" y1="574.00" x2="315.19" y2="575.60" stroke="#111" stroke-width="0.7" />
<line x1="317.22" y1="574.00" x2="317.22" y2="575.60" stroke="#111" stroke-width="0.7" />
<line x1="318.93" y1="574.00" x2="318.93" y2="575.60" stroke="#111" stroke-width="0.7" />
<line x1="320.42" y1="574.00" x2="320.42" y2="575.60" stroke="#111" stroke-width="0.7" />
<line x1="321.73" y1="574.00" x2="321.73" y2="575.60" stroke="#111" stroke-width="0.7" />
<line x1="322.90" y1="574.00" x2="322.90" y2="577.00" stroke="#111" stroke-width="1.0" />
<text x="323.20" y="586.60" font-size="7.1" font-weight="700" text-anchor="middle" fill="#000"  stroke="#000" stroke-width="0.2">-10</text>
<line x1="330.61" y1="574.00" x2="330.61" y2="575.60" stroke="#111" stroke-width="0.7" />
<line x1="335.11" y1="574.00" x2="335.11" y2="575.60" stroke="#111" stroke-width="0.7" />
<line x1="338.31" y1="574.00" x2="338.31" y2="575.60" stroke="#111" stroke-width="0.7" />
<line x1="340.79" y1="574.00" x2="340.79" y2="575.60" stroke="#111" stroke-width="0.7" />
<line x1="342.82" y1="574.00" x2="342.82" y2="575.60" stroke="#111" stroke-width="0.7" />
<line x1="344.53" y1="574.00" x2="344.53" y2="575.60" stroke="#111" stroke-width="0.7" />
<line x1="346.02" y1="574.00" x2="346.02" y2="575.60" stroke="#111" stroke-width="0.7" />
<line x1="347.33" y1="574.00" x2="347.33" y2="575.60" stroke="#111" stroke-width="0.7" />
<line x1="348.50" y1="574.00" x2="348.50" y2="577.00" stroke="#111" stroke-width="1.0" />
<text x="348.80" y="586.60" font-size="7.1" font-weight="700" text-anchor="middle" fill="#000"  stroke="#000" stroke-width="0.2">-9</text>
<line x1="356.21" y1="574.00" x2="356.21" y2="575.60" stroke="#111" stroke-width="0.7" />
<line x1="360.71" y1="574.00" x2="360.71" y2="575.60" stroke="#111" stroke-width="0.7" />
<line x1="363.91" y1="574.00" x2="363.91" y2="575.60" stroke="#111" stroke-width="0.7" />
<line x1="366.39" y1="574.00" x2="366.39" y2="575.60" stroke="#111" stroke-width="0.7" />
<line x1="368.42" y1="574.00" x2="368.42" y2="575.60" stroke="#111" stroke-width="0.7" />
<line x1="370.13" y1="574.00" x2="370.13" y2="575.60" stroke="#111" stroke-width="0.7" />
<line x1="371.62" y1="574.00" x2="371.62" y2="575.60" stroke="#111" stroke-width="0.7" />
<line x1="372.93" y1="574.00" x2="372.93" y2="575.60" stroke="#111" stroke-width="0.7" />
<line x1="374.10" y1="574.00" x2="374.10" y2="577.00" stroke="#111" stroke-width="1.0" />
<text x="374.40" y="586.60" font-size="7.1" font-weight="700" text-anchor="middle" fill="#000"  stroke="#000" stroke-width="0.2">-8</text>
<line x1="381.81" y1="574.00" x2="381.81" y2="575.60" stroke="#111" stroke-width="0.7" />
<line x1="386.31" y1="574.00" x2="386.31" y2="575.60" stroke="#111" stroke-width="0.7" />
<line x1="389.51" y1="574.00" x2="389.51" y2="575.60" stroke="#111" stroke-width="0.7" />
<line x1="391.99" y1="574.00" x2="391.99" y2="575.60" stroke="#111" stroke-width="0.7" />
<line x1="394.02" y1="574.00" x2="394.02" y2="575.60" stroke="#111" stroke-width="0.7" />
<line x1="395.73" y1="574.00" x2="395.73" y2="575.60" stroke="#111" stroke-width="0.7" />
<line x1="397.22" y1="574.00" x2="397.22" y2="575.60" stroke="#111" stroke-width="0.7" />
<line x1="398.53" y1="574.00" x2="398.53" y2="575.60" stroke="#111" stroke-width="0.7" />
<line x1="399.70" y1="574.00" x2="399.70" y2="577.00" stroke="#111" stroke-width="1.0" />
<text x="400.00" y="586.60" font-size="7.1" font-weight="700" text-anchor="middle" fill="#000"  stroke="#000" stroke-width="0.2">-7</text>
<line x1="407.41" y1="574.00" x2="407.41" y2="575.60" stroke="#111" stroke-width="0.7" />
<line x1="411.91" y1="574.00" x2="411.91" y2="575.60" stroke="#111" stroke-width="0.7" />
<line x1="415.11" y1="574.00" x2="415.11" y2="575.60" stroke="#111" stroke-width="0.7" />
<line x1="417.59" y1="574.00" x2="417.59" y2="575.60" stroke="#111" stroke-width="0.7" />
<line x1="419.62" y1="574.00" x2="419.62" y2="575.60" stroke="#111" stroke-width="0.7" />
<line x1="421.33" y1="574.00" x2="421.33" y2="575.60" stroke="#111" stroke-width="0.7" />
<line x1="422.82" y1="574.00" x2="422.82" y2="575.60" stroke="#111" stroke-width="0.7" />
<line x1="424.13" y1="574.00" x2="424.13" y2="575.60" stroke="#111" stroke-width="0.7" />
<line x1="425.30" y1="574.00" x2="425.30" y2="577.00" stroke="#111" stroke-width="1.0" />
<text x="425.60" y="586.60" font-size="7.1" font-weight="700" text-anchor="middle" fill="#000"  stroke="#000" stroke-width="0.2">-6</text>
<line x1="433.01" y1="574.00" x2="433.01" y2="575.60" stroke="#111" stroke-width="0.7" />
<line x1="437.51" y1="574.00" x2="437.51" y2="575.60" stroke="#111" stroke-width="0.7" />
<line x1="440.71" y1="574.00" x2="440.71" y2="575.60" stroke="#111" stroke-width="0.7" />
<line x1="443.19" y1="574.00" x2="443.19" y2="575.60" stroke="#111" stroke-width="0.7" />
<line x1="445.22" y1="574.00" x2="445.22" y2="575.60" stroke="#111" stroke-width="0.7" />
<line x1="446.93" y1="574.00" x2="446.93" y2="575.60" stroke="#111" stroke-width="0.7" />
<line x1="448.42" y1="574.00" x2="448.42" y2="575.60" stroke="#111" stroke-width="0.7" />
<line x1="449.73" y1="574.00" x2="449.73" y2="575.60" stroke="#111" stroke-width="0.7" />
<line x1="450.90" y1="574.00" x2="450.90" y2="577.00" stroke="#111" stroke-width="1.0" />
<text x="451.20" y="586.60" font-size="7.1" font-weight="700" text-anchor="middle" fill="#000"  stroke="#000" stroke-width="0.2">-5</text>
<text x="374.50" y="599.30" font-size="8.4" font-weight="700" text-anchor="middle" fill="#000"  stroke="#000" stroke-width="0.2">Log [sample] (M)</text>
<text transform="translate(252.30,516.70) rotate(-90)" x="0" y="3.36" font-size="9.6" font-weight="700" text-anchor="middle" fill="#000"  stroke="#000" stroke-width="0.2">β-arrestin signal</text>
<polyline points="317.78,559.18 319.12,559.15 320.47,559.12 321.81,559.09 323.16,559.05 324.50,559.01 325.84,558.96 327.19,558.90 328.53,558.84 329.88,558.77 331.22,558.69 332.56,558.60 333.91,558.49 335.25,558.37 336.60,558.24 337.94,558.09 339.28,557.92 340.63,557.73 341.97,557.51 343.32,557.27 344.66,556.99 346.00,556.68 347.35,556.33 348.69,555.94 350.04,555.50 351.38,555.01 352.72,554.45 354.07,553.84 355.41,553.15 356.76,552.39 358.10,551.55 359.44,550.62 360.79,549.59 362.13,548.47 363.48,547.24 364.82,545.90 366.16,544.45 367.51,542.89 368.85,541.22 370.20,539.43 371.54,537.55 372.88,535.56 374.23,533.48 375.57,531.33 376.92,529.12 378.26,526.85 379.60,524.56 380.95,522.25 382.29,519.95 383.64,517.68 384.98,515.44 386.32,513.27 387.67,511.17 389.01,509.15 390.36,507.23 391.70,505.41 393.04,503.70 394.39,502.10 395.73,500.61 397.08,499.24 398.42,497.97 399.76,496.81 401.11,495.76 402.45,494.79 403.80,493.92 405.14,493.13 406.48,492.42 407.83,491.79 409.17,491.21 410.52,490.70 411.86,490.25 413.20,489.84 414.55,489.48 415.89,489.15 417.24,488.87 418.58,488.61 419.92,488.38 421.27,488.18 422.61,488.01 423.96,487.85 425.30,487.71" fill="none" stroke="#000" stroke-width="1.6" stroke-linejoin="round" />
<polyline points="317.78,558.36 319.12,558.21 320.47,558.03 321.81,557.83 323.16,557.59 324.50,557.32 325.84,557.01 327.19,556.66 328.53,556.26 329.88,555.80 331.22,555.28 332.56,554.69 333.91,554.03 335.25,553.27 336.60,552.43 337.94,551.49 339.28,550.43 340.63,549.27 341.97,547.98 343.32,546.58 344.66,545.04 346.00,543.39 347.35,541.62 348.69,539.73 350.04,537.75 351.38,535.68 352.72,533.53 354.07,531.34 355.41,529.13 356.76,526.90 358.10,524.70 359.44,522.54 360.79,520.44 362.13,518.42 363.48,516.49 364.82,514.68 366.16,512.98 367.51,511.40 368.85,509.94 370.20,508.61 371.54,507.40 372.88,506.31 374.23,505.32 375.57,504.44 376.92,503.65 378.26,502.96 379.60,502.34 380.95,501.79 382.29,501.31 383.64,500.89 384.98,500.52 386.32,500.19 387.67,499.91 389.01,499.66 390.36,499.45 391.70,499.26 393.04,499.10 394.39,498.96 395.73,498.83 397.08,498.72 398.42,498.63 399.76,498.55 401.11,498.48 402.45,498.42 403.80,498.37 405.14,498.32 406.48,498.28 407.83,498.25 409.17,498.22 410.52,498.19 411.86,498.17 413.20,498.15 414.55,498.14 415.89,498.12 417.24,498.11 418.58,498.10 419.92,498.09 421.27,498.08 422.61,498.07 423.96,498.07 425.30,498.06" fill="none" stroke="#4f8aa6" stroke-width="1.6" stroke-linejoin="round" />
<rect x="315.68" y="557.13" width="4.2" height="4.2" fill="#4f8aa6" stroke="#4f8aa6" stroke-width="0.4"/>
<rect x="331.04" y="550.88" width="4.2" height="4.2" fill="#4f8aa6" stroke="#4f8aa6" stroke-width="0.4"/>
<rect x="346.40" y="539.24" width="4.2" height="4.2" fill="#4f8aa6" stroke="#4f8aa6" stroke-width="0.4"/>
<rect x="361.76" y="513.68" width="4.2" height="4.2" fill="#4f8aa6" stroke="#4f8aa6" stroke-width="0.4"/>
<rect x="377.12" y="500.47" width="4.2" height="4.2" fill="#4f8aa6" stroke="#4f8aa6" stroke-width="0.4"/>
<rect x="392.48" y="495.22" width="4.2" height="4.2" fill="#4f8aa6" stroke="#4f8aa6" stroke-width="0.4"/>
<rect x="407.84" y="496.64" width="4.2" height="4.2" fill="#4f8aa6" stroke="#4f8aa6" stroke-width="0.4"/>
<rect x="423.20" y="496.64" width="4.2" height="4.2" fill="#4f8aa6" stroke="#4f8aa6" stroke-width="0.4"/>
<line x1="409.94" y1="494.48" x2="409.94" y2="502.29" stroke="#4f8aa6" stroke-width="1.2" />
<line x1="408.24" y1="494.48" x2="411.64" y2="494.48" stroke="#4f8aa6" stroke-width="1.2" />
<line x1="408.24" y1="502.29" x2="411.64" y2="502.29" stroke="#4f8aa6" stroke-width="1.2" />
<line x1="425.30" y1="494.48" x2="425.30" y2="502.29" stroke="#4f8aa6" stroke-width="1.2" />
<line x1="423.60" y1="494.48" x2="427.00" y2="494.48" stroke="#4f8aa6" stroke-width="1.2" />
<line x1="423.60" y1="502.29" x2="427.00" y2="502.29" stroke="#4f8aa6" stroke-width="1.2" />
<circle cx="317.78" cy="559.09" r="2.2" fill="#000" stroke="#000" stroke-width="0.3"/>
<circle cx="333.14" cy="558.81" r="2.2" fill="#000" stroke="#000" stroke-width="0.3"/>
<circle cx="348.50" cy="556.96" r="2.2" fill="#000" stroke="#000" stroke-width="0.3"/>
<circle cx="363.86" cy="547.02" r="2.2" fill="#000" stroke="#000" stroke-width="0.3"/>
<circle cx="379.22" cy="529.27" r="2.2" fill="#000" stroke="#000" stroke-width="0.3"/>
<circle cx="394.58" cy="506.12" r="2.2" fill="#000" stroke="#000" stroke-width="0.3"/>
<circle cx="409.94" cy="491.21" r="2.2" fill="#000" stroke="#000" stroke-width="0.3"/>
<circle cx="425.30" cy="488.52" r="2.2" fill="#000" stroke="#000" stroke-width="0.3"/>
<line x1="379.22" y1="523.59" x2="379.22" y2="534.24" stroke="#000" stroke-width="1.0" />
<line x1="377.72" y1="523.59" x2="380.72" y2="523.59" stroke="#000" stroke-width="1.0" />
<line x1="377.72" y1="534.24" x2="380.72" y2="534.24" stroke="#000" stroke-width="1.0" />
<line x1="394.58" y1="502.29" x2="394.58" y2="510.10" stroke="#000" stroke-width="1.0" />
<line x1="393.08" y1="502.29" x2="396.08" y2="502.29" stroke="#000" stroke-width="1.0" />
<line x1="393.08" y1="510.10" x2="396.08" y2="510.10" stroke="#000" stroke-width="1.0" />
<circle cx="466.90" cy="467.40" r="2.4" fill="#000" stroke="#000" stroke-width="0.3"/>
<rect x="464.90" y="478.80" width="4.0" height="4.0" fill="#4f8aa6" stroke="#4f8aa6" stroke-width="0.3"/>
<text x="478.50" y="470.20" font-size="8" font-weight="400" text-anchor="start" fill="#000"  stroke="#000" stroke-width="0.2">Cpd 1</text>
<text x="478.50" y="483.60" font-size="8" font-weight="400" text-anchor="start" fill="#000"  stroke="#000" stroke-width="0.2">POL6926</text>
<text x="272.30" y="219.80" font-size="16" font-weight="700" text-anchor="start" fill="#000"  stroke="#000" stroke-width="0.2">D</text>
<text x="320.30" y="221.60" font-size="10.7" font-weight="400" text-anchor="start" fill="#111"  stroke="#111" stroke-width="0.2">Vehicle</text>
<text x="400.40" y="221.60" font-size="10.6" font-weight="400" text-anchor="start" fill="#111"  stroke="#111" stroke-width="0.2">POL6926</text>
<text transform="translate(280.60,254.00) rotate(-90)" x="0" y="2.59" font-size="7.4" font-weight="700" text-anchor="middle" fill="#000"  stroke="#000" stroke-width="0.2">Day 21</text>
<text transform="translate(280.60,298.65) rotate(-90)" x="0" y="2.59" font-size="7.4" font-weight="700" text-anchor="middle" fill="#000"  stroke="#000" stroke-width="0.2">Day 28</text>
<text transform="translate(280.60,343.50) rotate(-90)" x="0" y="2.59" font-size="7.4" font-weight="700" text-anchor="middle" fill="#000"  stroke="#000" stroke-width="0.2">Day 35</text>
<text transform="translate(280.60,388.15) rotate(-90)" x="0" y="2.59" font-size="7.4" font-weight="700" text-anchor="middle" fill="#000"  stroke="#000" stroke-width="0.2">Day 42</text>
<clipPath id="c288_232"><rect x="288.2" y="232.2" width="84.00" height="40.80"/></clipPath>
<g clip-path="url(#c288_232)">
<rect x="288.2" y="232.2" width="84.00" height="40.80" fill="#262626"/>
<ellipse cx="297.60" cy="267.50" rx="2.20" ry="3.80" fill="#5c5c5c" filter="url(#bl1)" opacity="1.0"/>
<ellipse cx="307.20" cy="267.50" rx="2.20" ry="3.80" fill="#5c5c5c" filter="url(#bl1)" opacity="1.0"/>
<line x1="302.40" y1="262.50" x2="302.70" y2="273.00" stroke="#b0b0b0" stroke-width="1.1" filter="url(#bl05)"/>
<ellipse cx="311.80" cy="267.50" rx="2.20" ry="3.80" fill="#5c5c5c" filter="url(#bl1)" opacity="1.0"/>
<ellipse cx="321.40" cy="267.50" rx="2.20" ry="3.80" fill="#5c5c5c" filter="url(#bl1)" opacity="1.0"/>
<line x1="316.60" y1="262.50" x2="316.90" y2="273.00" stroke="#b0b0b0" stroke-width="1.1" filter="url(#bl05)"/>
<ellipse cx="332.40" cy="267.50" rx="2.20" ry="3.80" fill="#5c5c5c" filter="url(#bl1)" opacity="1.0"/>
<ellipse cx="342.00" cy="267.50" rx="2.20" ry="3.80" fill="#5c5c5c" filter="url(#bl1)" opacity="1.0"/>
<line x1="337.20" y1="262.50" x2="337.50" y2="273.00" stroke="#b0b0b0" stroke-width="1.1" filter="url(#bl05)"/>
<ellipse cx="346.80" cy="267.50" rx="2.20" ry="3.80" fill="#5c5c5c" filter="url(#bl1)" opacity="1.0"/>
<ellipse cx="356.40" cy="267.50" rx="2.20" ry="3.80" fill="#5c5c5c" filter="url(#bl1)" opacity="1.0"/>
<line x1="351.60" y1="262.50" x2="351.90" y2="273.00" stroke="#b0b0b0" stroke-width="1.1" filter="url(#bl05)"/>
<ellipse cx="360.60" cy="267.50" rx="2.20" ry="3.80" fill="#5c5c5c" filter="url(#bl1)" opacity="1.0"/>
<ellipse cx="370.20" cy="267.50" rx="2.20" ry="3.80" fill="#5c5c5c" filter="url(#bl1)" opacity="1.0"/>
<line x1="365.40" y1="262.50" x2="365.70" y2="273.00" stroke="#b0b0b0" stroke-width="1.1" filter="url(#bl05)"/>
<path d="M302.40,232.60 C302.95,232.60 303.50,232.87 304.06,233.24 C304.61,233.62 305.16,234.32 305.71,234.85 C306.26,235.39 307.00,236.03 307.37,236.46 C307.74,236.89 307.92,237.05 307.92,237.43 C307.92,237.81 307.21,238.18 307.37,238.72 C307.53,239.25 308.56,239.90 308.89,240.65 C309.21,241.40 309.32,242.15 309.30,243.23 C309.28,244.30 308.86,245.75 308.75,247.09 C308.63,248.43 308.54,249.83 308.61,251.28 C308.68,252.73 309.00,254.39 309.16,255.78 C309.32,257.18 309.64,258.52 309.58,259.65 C309.51,260.78 309.37,261.77 308.75,262.55 C308.13,263.32 306.91,263.94 305.85,264.32 C304.79,264.69 303.55,264.80 302.40,264.80 C301.25,264.80 300.01,264.69 298.95,264.32 C297.89,263.94 296.67,263.32 296.05,262.55 C295.43,261.77 295.29,260.78 295.22,259.65 C295.15,258.52 295.48,257.18 295.64,255.78 C295.80,254.39 296.12,252.73 296.19,251.28 C296.26,249.83 296.17,248.43 296.05,247.09 C295.94,245.75 295.52,244.30 295.50,243.23 C295.48,242.15 295.59,241.40 295.91,240.65 C296.24,239.90 297.27,239.25 297.43,238.72 C297.59,238.18 296.88,237.81 296.88,237.43 C296.88,237.05 297.06,236.89 297.43,236.46 C297.80,236.03 298.54,235.39 299.09,234.85 C299.64,234.32 300.19,233.62 300.74,233.24 C301.30,232.87 301.85,232.60 302.40,232.60 Z" fill="#cdcdcd" filter="url(#bl07)"/>
<path d="M302.70,238.60 C303.04,238.60 303.38,238.78 303.73,239.04 C304.07,239.30 304.41,239.78 304.75,240.15 C305.10,240.52 305.55,240.97 305.78,241.26 C306.01,241.56 306.12,241.67 306.12,241.93 C306.12,242.19 305.68,242.45 305.78,242.82 C305.88,243.19 306.52,243.63 306.72,244.15 C306.92,244.67 306.99,245.19 306.98,245.93 C306.96,246.67 306.71,247.66 306.64,248.59 C306.56,249.52 306.51,250.48 306.55,251.48 C306.59,252.47 306.79,253.62 306.89,254.58 C306.99,255.55 307.19,256.47 307.15,257.25 C307.11,258.02 307.02,258.71 306.64,259.25 C306.25,259.78 305.49,260.21 304.84,260.47 C304.18,260.73 303.41,260.80 302.70,260.80 C301.99,260.80 301.22,260.73 300.56,260.47 C299.91,260.21 299.15,259.78 298.76,259.25 C298.38,258.71 298.29,258.02 298.25,257.25 C298.21,256.47 298.41,255.55 298.51,254.58 C298.61,253.62 298.81,252.47 298.85,251.48 C298.89,250.48 298.84,249.52 298.76,248.59 C298.69,247.66 298.44,246.67 298.42,245.93 C298.41,245.19 298.48,244.67 298.68,244.15 C298.88,243.63 299.52,243.19 299.62,242.82 C299.72,242.45 299.28,242.19 299.28,241.93 C299.28,241.67 299.39,241.56 299.62,241.26 C299.85,240.97 300.30,240.52 300.65,240.15 C300.99,239.78 301.33,239.30 301.67,239.04 C302.02,238.78 302.36,238.60 302.70,238.60 Z" fill="#ececec" filter="url(#bl15)" opacity="0.9"/>
<ellipse cx="302.40" cy="236.79" rx="3.04" ry="1.60" fill="#8a8a8a" filter="url(#bl07)" opacity="0.55"/>
<path d="M316.60,232.60 C317.15,232.60 317.70,232.87 318.26,233.24 C318.81,233.62 319.36,234.32 319.91,234.85 C320.46,235.39 321.20,236.03 321.57,236.46 C321.94,236.89 322.12,237.05 322.12,237.43 C322.12,237.81 321.41,238.18 321.57,238.72 C321.73,239.25 322.76,239.90 323.09,240.65 C323.41,241.40 323.52,242.15 323.50,243.23 C323.48,244.30 323.06,245.75 322.95,247.09 C322.83,248.43 322.74,249.83 322.81,251.28 C322.88,252.73 323.20,254.39 323.36,255.78 C323.52,257.18 323.85,258.52 323.78,259.65 C323.71,260.78 323.57,261.77 322.95,262.55 C322.33,263.32 321.11,263.94 320.05,264.32 C318.99,264.69 317.75,264.80 316.60,264.80 C315.45,264.80 314.21,264.69 313.15,264.32 C312.09,263.94 310.87,263.32 310.25,262.55 C309.63,261.77 309.49,260.78 309.42,259.65 C309.36,258.52 309.68,257.18 309.84,255.78 C310.00,254.39 310.32,252.73 310.39,251.28 C310.46,249.83 310.37,248.43 310.25,247.09 C310.14,245.75 309.72,244.30 309.70,243.23 C309.68,242.15 309.79,241.40 310.11,240.65 C310.44,239.90 311.47,239.25 311.63,238.72 C311.79,238.18 311.08,237.81 311.08,237.43 C311.08,237.05 311.26,236.89 311.63,236.46 C312.00,236.03 312.74,235.39 313.29,234.85 C313.84,234.32 314.39,233.62 314.94,233.24 C315.50,232.87 316.05,232.60 316.60,232.60 Z" fill="#cdcdcd" filter="url(#bl07)"/>
<path d="M316.90,238.60 C317.24,238.60 317.58,238.78 317.93,239.04 C318.27,239.30 318.61,239.78 318.95,240.15 C319.30,240.52 319.75,240.97 319.98,241.26 C320.21,241.56 320.32,241.67 320.32,241.93 C320.32,242.19 319.88,242.45 319.98,242.82 C320.08,243.19 320.72,243.63 320.92,244.15 C321.12,244.67 321.19,245.19 321.18,245.93 C321.16,246.67 320.91,247.66 320.84,248.59 C320.76,249.52 320.71,250.48 320.75,251.48 C320.79,252.47 320.99,253.62 321.09,254.58 C321.19,255.55 321.39,256.47 321.35,257.25 C321.31,258.02 321.22,258.71 320.84,259.25 C320.45,259.78 319.69,260.21 319.04,260.47 C318.38,260.73 317.61,260.80 316.90,260.80 C316.19,260.80 315.42,260.73 314.76,260.47 C314.11,260.21 313.35,259.78 312.96,259.25 C312.58,258.71 312.49,258.02 312.45,257.25 C312.41,256.47 312.61,255.55 312.71,254.58 C312.81,253.62 313.01,252.47 313.05,251.48 C313.09,250.48 313.04,249.52 312.96,248.59 C312.89,247.66 312.64,246.67 312.62,245.93 C312.61,245.19 312.68,244.67 312.88,244.15 C313.08,243.63 313.72,243.19 313.82,242.82 C313.92,242.45 313.48,242.19 313.48,241.93 C313.48,241.67 313.59,241.56 313.82,241.26 C314.05,240.97 314.50,240.52 314.85,240.15 C315.19,239.78 315.53,239.30 315.87,239.04 C316.22,238.78 316.56,238.60 316.90,238.60 Z" fill="#ececec" filter="url(#bl15)" opacity="0.9"/>
<ellipse cx="316.60" cy="236.79" rx="3.04" ry="1.60" fill="#8a8a8a" filter="url(#bl07)" opacity="0.55"/>
<path d="M337.20,232.60 C337.75,232.60 338.30,232.87 338.86,233.24 C339.41,233.62 339.96,234.32 340.51,234.85 C341.06,235.39 341.80,236.03 342.17,236.46 C342.54,236.89 342.72,237.05 342.72,237.43 C342.72,237.81 342.01,238.18 342.17,238.72 C342.33,239.25 343.36,239.90 343.69,240.65 C344.01,241.40 344.12,242.15 344.10,243.23 C344.08,244.30 343.66,245.75 343.55,247.09 C343.43,248.43 343.34,249.83 343.41,251.28 C343.48,252.73 343.80,254.39 343.96,255.78 C344.12,257.18 344.44,258.52 344.38,259.65 C344.31,260.78 344.17,261.77 343.55,262.55 C342.93,263.32 341.71,263.94 340.65,264.32 C339.59,264.69 338.35,264.80 337.20,264.80 C336.05,264.80 334.81,264.69 333.75,264.32 C332.69,263.94 331.47,263.32 330.85,262.55 C330.23,261.77 330.09,260.78 330.02,259.65 C329.95,258.52 330.28,257.18 330.44,255.78 C330.60,254.39 330.92,252.73 330.99,251.28 C331.06,249.83 330.97,248.43 330.85,247.09 C330.74,245.75 330.32,244.30 330.30,243.23 C330.28,242.15 330.39,241.40 330.71,240.65 C331.04,239.90 332.07,239.25 332.23,238.72 C332.39,238.18 331.68,237.81 331.68,237.43 C331.68,237.05 331.86,236.89 332.23,236.46 C332.60,236.03 333.34,235.39 333.89,234.85 C334.44,234.32 334.99,233.62 335.54,233.24 C336.10,232.87 336.65,232.60 337.20,232.60 Z" fill="#cdcdcd" filter="url(#bl07)"/>
<path d="M337.50,238.60 C337.84,238.60 338.18,238.78 338.53,239.04 C338.87,239.30 339.21,239.78 339.55,240.15 C339.90,240.52 340.35,240.97 340.58,241.26 C340.81,241.56 340.92,241.67 340.92,241.93 C340.92,242.19 340.48,242.45 340.58,242.82 C340.68,243.19 341.32,243.63 341.52,244.15 C341.72,244.67 341.79,245.19 341.78,245.93 C341.76,246.67 341.51,247.66 341.44,248.59 C341.36,249.52 341.31,250.48 341.35,251.48 C341.39,252.47 341.59,253.62 341.69,254.58 C341.79,255.55 341.99,256.47 341.95,257.25 C341.91,258.02 341.82,258.71 341.44,259.25 C341.05,259.78 340.29,260.21 339.64,260.47 C338.98,260.73 338.21,260.80 337.50,260.80 C336.79,260.80 336.02,260.73 335.36,260.47 C334.71,260.21 333.95,259.78 333.56,259.25 C333.18,258.71 333.09,258.02 333.05,257.25 C333.01,256.47 333.21,255.55 333.31,254.58 C333.41,253.62 333.61,252.47 333.65,251.48 C333.69,250.48 333.64,249.52 333.56,248.59 C333.49,247.66 333.24,246.67 333.22,245.93 C333.21,245.19 333.28,244.67 333.48,244.15 C333.68,243.63 334.32,243.19 334.42,242.82 C334.52,242.45 334.08,242.19 334.08,241.93 C334.08,241.67 334.19,241.56 334.42,241.26 C334.65,240.97 335.10,240.52 335.45,240.15 C335.79,239.78 336.13,239.30 336.47,239.04 C336.82,238.78 337.16,238.60 337.50,238.60 Z" fill="#ececec" filter="url(#bl15)" opacity="0.9"/>
<ellipse cx="337.20" cy="236.79" rx="3.04" ry="1.60" fill="#8a8a8a" filter="url(#bl07)" opacity="0.55"/>
<path d="M351.60,232.60 C352.15,232.60 352.70,232.87 353.26,233.24 C353.81,233.62 354.36,234.32 354.91,234.85 C355.46,235.39 356.20,236.03 356.57,236.46 C356.94,236.89 357.12,237.05 357.12,237.43 C357.12,237.81 356.41,238.18 356.57,238.72 C356.73,239.25 357.76,239.90 358.09,240.65 C358.41,241.40 358.52,242.15 358.50,243.23 C358.48,244.30 358.06,245.75 357.95,247.09 C357.83,248.43 357.74,249.83 357.81,251.28 C357.88,252.73 358.20,254.39 358.36,255.78 C358.52,257.18 358.85,258.52 358.78,259.65 C358.71,260.78 358.57,261.77 357.95,262.55 C357.33,263.32 356.11,263.94 355.05,264.32 C353.99,264.69 352.75,264.80 351.60,264.80 C350.45,264.80 349.21,264.69 348.15,264.32 C347.09,263.94 345.87,263.32 345.25,262.55 C344.63,261.77 344.49,260.78 344.42,259.65 C344.36,258.52 344.68,257.18 344.84,255.78 C345.00,254.39 345.32,252.73 345.39,251.28 C345.46,249.83 345.37,248.43 345.25,247.09 C345.14,245.75 344.72,244.30 344.70,243.23 C344.68,242.15 344.79,241.40 345.11,240.65 C345.44,239.90 346.47,239.25 346.63,238.72 C346.79,238.18 346.08,237.81 346.08,237.43 C346.08,237.05 346.26,236.89 346.63,236.46 C347.00,236.03 347.74,235.39 348.29,234.85 C348.84,234.32 349.39,233.62 349.94,233.24 C350.50,232.87 351.05,232.60 351.60,232.60 Z" fill="#cdcdcd" filter="url(#bl07)"/>
<path d="M351.90,238.60 C352.24,238.60 352.58,238.78 352.93,239.04 C353.27,239.30 353.61,239.78 353.95,240.15 C354.30,240.52 354.75,240.97 354.98,241.26 C355.21,241.56 355.32,241.67 355.32,241.93 C355.32,242.19 354.88,242.45 354.98,242.82 C355.08,243.19 355.72,243.63 355.92,244.15 C356.12,244.67 356.19,245.19 356.18,245.93 C356.16,246.67 355.91,247.66 355.84,248.59 C355.76,249.52 355.71,250.48 355.75,251.48 C355.79,252.47 355.99,253.62 356.09,254.58 C356.19,255.55 356.39,256.47 356.35,257.25 C356.31,258.02 356.22,258.71 355.84,259.25 C355.45,259.78 354.69,260.21 354.04,260.47 C353.38,260.73 352.61,260.80 351.90,260.80 C351.19,260.80 350.42,260.73 349.76,260.47 C349.11,260.21 348.35,259.78 347.96,259.25 C347.58,258.71 347.49,258.02 347.45,257.25 C347.41,256.47 347.61,255.55 347.71,254.58 C347.81,253.62 348.01,252.47 348.05,251.48 C348.09,250.48 348.04,249.52 347.96,248.59 C347.89,247.66 347.64,246.67 347.62,245.93 C347.61,245.19 347.68,244.67 347.88,244.15 C348.08,243.63 348.72,243.19 348.82,242.82 C348.92,242.45 348.48,242.19 348.48,241.93 C348.48,241.67 348.59,241.56 348.82,241.26 C349.05,240.97 349.50,240.52 349.85,240.15 C350.19,239.78 350.53,239.30 350.87,239.04 C351.22,238.78 351.56,238.60 351.90,238.60 Z" fill="#ececec" filter="url(#bl15)" opacity="0.9"/>
<ellipse cx="351.60" cy="236.79" rx="3.04" ry="1.60" fill="#8a8a8a" filter="url(#bl07)" opacity="0.55"/>
<path d="M365.40,232.60 C365.95,232.60 366.50,232.87 367.06,233.24 C367.61,233.62 368.16,234.32 368.71,234.85 C369.26,235.39 370.00,236.03 370.37,236.46 C370.74,236.89 370.92,237.05 370.92,237.43 C370.92,237.81 370.21,238.18 370.37,238.72 C370.53,239.25 371.56,239.90 371.89,240.65 C372.21,241.40 372.32,242.15 372.30,243.23 C372.28,244.30 371.86,245.75 371.75,247.09 C371.63,248.43 371.54,249.83 371.61,251.28 C371.68,252.73 372.00,254.39 372.16,255.78 C372.32,257.18 372.64,258.52 372.58,259.65 C372.51,260.78 372.37,261.77 371.75,262.55 C371.13,263.32 369.91,263.94 368.85,264.32 C367.79,264.69 366.55,264.80 365.40,264.80 C364.25,264.80 363.01,264.69 361.95,264.32 C360.89,263.94 359.67,263.32 359.05,262.55 C358.43,261.77 358.29,260.78 358.22,259.65 C358.15,258.52 358.48,257.18 358.64,255.78 C358.80,254.39 359.12,252.73 359.19,251.28 C359.26,249.83 359.17,248.43 359.05,247.09 C358.94,245.75 358.52,244.30 358.50,243.23 C358.48,242.15 358.59,241.40 358.91,240.65 C359.24,239.90 360.27,239.25 360.43,238.72 C360.59,238.18 359.88,237.81 359.88,237.43 C359.88,237.05 360.06,236.89 360.43,236.46 C360.80,236.03 361.54,235.39 362.09,234.85 C362.64,234.32 363.19,233.62 363.74,233.24 C364.30,232.87 364.85,232.60 365.40,232.60 Z" fill="#cdcdcd" filter="url(#bl07)"/>
<path d="M365.70,238.60 C366.04,238.60 366.38,238.78 366.73,239.04 C367.07,239.30 367.41,239.78 367.75,240.15 C368.10,240.52 368.55,240.97 368.78,241.26 C369.01,241.56 369.12,241.67 369.12,241.93 C369.12,242.19 368.68,242.45 368.78,242.82 C368.88,243.19 369.52,243.63 369.72,244.15 C369.92,244.67 369.99,245.19 369.98,245.93 C369.96,246.67 369.71,247.66 369.64,248.59 C369.56,249.52 369.51,250.48 369.55,251.48 C369.59,252.47 369.79,253.62 369.89,254.58 C369.99,255.55 370.19,256.47 370.15,257.25 C370.11,258.02 370.02,258.71 369.64,259.25 C369.25,259.78 368.49,260.21 367.84,260.47 C367.18,260.73 366.41,260.80 365.70,260.80 C364.99,260.80 364.22,260.73 363.56,260.47 C362.91,260.21 362.15,259.78 361.76,259.25 C361.38,258.71 361.29,258.02 361.25,257.25 C361.21,256.47 361.41,255.55 361.51,254.58 C361.61,253.62 361.81,252.47 361.85,251.48 C361.89,250.48 361.84,249.52 361.76,248.59 C361.69,247.66 361.44,246.67 361.42,245.93 C361.41,245.19 361.48,244.67 361.68,244.15 C361.88,243.63 362.52,243.19 362.62,242.82 C362.72,242.45 362.28,242.19 362.28,241.93 C362.28,241.67 362.39,241.56 362.62,241.26 C362.85,240.97 363.30,240.52 363.65,240.15 C363.99,239.78 364.33,239.30 364.67,239.04 C365.02,238.78 365.36,238.60 365.70,238.60 Z" fill="#ececec" filter="url(#bl15)" opacity="0.9"/>
<ellipse cx="365.40" cy="236.79" rx="3.04" ry="1.60" fill="#8a8a8a" filter="url(#bl07)" opacity="0.55"/>
<ellipse cx="302.60" cy="258.00" rx="3.40" ry="4.00" fill="#ece4ff" filter="url(#bl1)" opacity="0.95"/>
<ellipse cx="302.20" cy="261.40" rx="3.20" ry="3.40" fill="#ece4ff" filter="url(#bl1)" opacity="0.95"/>
<ellipse cx="302.60" cy="258.00" rx="2.50" ry="3.10" fill="#8a70e0" filter="url(#bl07)" opacity="0.9"/>
<ellipse cx="302.20" cy="261.40" rx="2.30" ry="2.50" fill="#8a70e0" filter="url(#bl07)" opacity="0.9"/>
<ellipse cx="302.60" cy="258.00" rx="2.00" ry="2.60" fill="#4c1ec4" filter="url(#bl05)" opacity="1.0"/>
<ellipse cx="302.20" cy="261.40" rx="1.80" ry="2.00" fill="#4c1ec4" filter="url(#bl05)" opacity="1.0"/>
<ellipse cx="337.60" cy="255.70" rx="2.80" ry="2.90" fill="#ece4ff" filter="url(#bl1)" opacity="0.95"/>
<ellipse cx="337.60" cy="255.70" rx="1.90" ry="2.00" fill="#8a70e0" filter="url(#bl07)" opacity="0.9"/>
<ellipse cx="337.60" cy="255.70" rx="1.40" ry="1.50" fill="#4c1ec4" filter="url(#bl05)" opacity="1.0"/>
<ellipse cx="368.00" cy="256.50" rx="3.50" ry="3.50" fill="#a8a8a8" filter="url(#bl1)" opacity="0.8"/>
</g>
<clipPath id="c383_232"><rect x="383.0" y="232.2" width="93.00" height="40.80"/></clipPath>
<g clip-path="url(#c383_232)">
<rect x="383.0" y="232.2" width="93.00" height="40.80" fill="#262626"/>
<ellipse cx="385.40" cy="265.80" rx="2.20" ry="3.80" fill="#5c5c5c" filter="url(#bl1)" opacity="1.0"/>
<ellipse cx="395.00" cy="265.80" rx="2.20" ry="3.80" fill="#5c5c5c" filter="url(#bl1)" opacity="1.0"/>
<line x1="390.20" y1="260.80" x2="390.50" y2="273.00" stroke="#b0b0b0" stroke-width="1.1" filter="url(#bl05)"/>
<ellipse cx="401.00" cy="265.80" rx="2.20" ry="3.80" fill="#5c5c5c" filter="url(#bl1)" opacity="1.0"/>
<ellipse cx="410.60" cy="265.80" rx="2.20" ry="3.80" fill="#5c5c5c" filter="url(#bl1)" opacity="1.0"/>
<line x1="405.80" y1="260.80" x2="406.10" y2="273.00" stroke="#b0b0b0" stroke-width="1.1" filter="url(#bl05)"/>
<ellipse cx="417.30" cy="265.80" rx="2.20" ry="3.80" fill="#5c5c5c" filter="url(#bl1)" opacity="1.0"/>
<ellipse cx="426.90" cy="265.80" rx="2.20" ry="3.80" fill="#5c5c5c" filter="url(#bl1)" opacity="1.0"/>
<line x1="422.10" y1="260.80" x2="422.40" y2="273.00" stroke="#b0b0b0" stroke-width="1.1" filter="url(#bl05)"/>
<ellipse cx="432.70" cy="265.80" rx="2.20" ry="3.80" fill="#5c5c5c" filter="url(#bl1)" opacity="1.0"/>
<ellipse cx="442.30" cy="265.80" rx="2.20" ry="3.80" fill="#5c5c5c" filter="url(#bl1)" opacity="1.0"/>
<line x1="437.50" y1="260.80" x2="437.80" y2="273.00" stroke="#b0b0b0" stroke-width="1.1" filter="url(#bl05)"/>
<ellipse cx="448.10" cy="265.80" rx="2.20" ry="3.80" fill="#5c5c5c" filter="url(#bl1)" opacity="1.0"/>
<ellipse cx="457.70" cy="265.80" rx="2.20" ry="3.80" fill="#5c5c5c" filter="url(#bl1)" opacity="1.0"/>
<line x1="452.90" y1="260.80" x2="453.20" y2="273.00" stroke="#b0b0b0" stroke-width="1.1" filter="url(#bl05)"/>
<ellipse cx="462.80" cy="265.80" rx="2.20" ry="3.80" fill="#5c5c5c" filter="url(#bl1)" opacity="1.0"/>
<ellipse cx="472.40" cy="265.80" rx="2.20" ry="3.80" fill="#5c5c5c" filter="url(#bl1)" opacity="1.0"/>
<line x1="467.60" y1="260.80" x2="467.90" y2="273.00" stroke="#b0b0b0" stroke-width="1.1" filter="url(#bl05)"/>
<path d="M390.20,232.60 C390.75,232.60 391.30,232.85 391.86,233.20 C392.41,233.56 392.96,234.21 393.51,234.71 C394.06,235.22 394.80,235.82 395.17,236.22 C395.54,236.63 395.72,236.78 395.72,237.13 C395.72,237.48 395.01,237.83 395.17,238.34 C395.33,238.84 396.36,239.45 396.69,240.15 C397.01,240.85 397.12,241.56 397.10,242.57 C397.08,243.57 396.66,244.93 396.55,246.19 C396.43,247.45 396.34,248.76 396.41,250.12 C396.48,251.48 396.80,253.04 396.96,254.34 C397.12,255.65 397.44,256.91 397.38,257.97 C397.31,259.03 397.17,259.96 396.55,260.69 C395.93,261.42 394.71,261.99 393.65,262.35 C392.59,262.70 391.35,262.80 390.20,262.80 C389.05,262.80 387.81,262.70 386.75,262.35 C385.69,261.99 384.47,261.42 383.85,260.69 C383.23,259.96 383.09,259.03 383.02,257.97 C382.95,256.91 383.28,255.65 383.44,254.34 C383.60,253.04 383.92,251.48 383.99,250.12 C384.06,248.76 383.97,247.45 383.85,246.19 C383.74,244.93 383.32,243.57 383.30,242.57 C383.28,241.56 383.39,240.85 383.71,240.15 C384.04,239.45 385.07,238.84 385.23,238.34 C385.39,237.83 384.68,237.48 384.68,237.13 C384.68,236.78 384.86,236.63 385.23,236.22 C385.60,235.82 386.34,235.22 386.89,234.71 C387.44,234.21 387.99,233.56 388.54,233.20 C389.10,232.85 389.65,232.60 390.20,232.60 Z" fill="#cdcdcd" filter="url(#bl07)"/>
<path d="M390.50,238.60 C390.84,238.60 391.18,238.77 391.53,239.00 C391.87,239.24 392.21,239.68 392.55,240.01 C392.90,240.35 393.35,240.75 393.58,241.02 C393.81,241.29 393.92,241.39 393.92,241.63 C393.92,241.87 393.48,242.10 393.58,242.44 C393.68,242.77 394.32,243.18 394.52,243.65 C394.72,244.12 394.79,244.59 394.78,245.27 C394.76,245.94 394.51,246.85 394.44,247.69 C394.36,248.53 394.31,249.41 394.35,250.32 C394.39,251.22 394.59,252.27 394.69,253.14 C394.79,254.02 394.99,254.86 394.95,255.57 C394.91,256.28 394.82,256.90 394.44,257.39 C394.05,257.87 393.29,258.26 392.64,258.50 C391.98,258.73 391.21,258.80 390.50,258.80 C389.79,258.80 389.02,258.73 388.36,258.50 C387.71,258.26 386.95,257.87 386.56,257.39 C386.18,256.90 386.09,256.28 386.05,255.57 C386.01,254.86 386.21,254.02 386.31,253.14 C386.41,252.27 386.61,251.22 386.65,250.32 C386.69,249.41 386.64,248.53 386.56,247.69 C386.49,246.85 386.24,245.94 386.22,245.27 C386.21,244.59 386.28,244.12 386.48,243.65 C386.68,243.18 387.32,242.77 387.42,242.44 C387.52,242.10 387.08,241.87 387.08,241.63 C387.08,241.39 387.19,241.29 387.42,241.02 C387.65,240.75 388.10,240.35 388.45,240.01 C388.79,239.68 389.13,239.24 389.47,239.00 C389.82,238.77 390.16,238.60 390.50,238.60 Z" fill="#ececec" filter="url(#bl15)" opacity="0.9"/>
<ellipse cx="390.20" cy="236.53" rx="3.04" ry="1.60" fill="#8a8a8a" filter="url(#bl07)" opacity="0.55"/>
<path d="M405.80,232.60 C406.35,232.60 406.90,232.85 407.46,233.20 C408.01,233.56 408.56,234.21 409.11,234.71 C409.66,235.22 410.40,235.82 410.77,236.22 C411.14,236.63 411.32,236.78 411.32,237.13 C411.32,237.48 410.61,237.83 410.77,238.34 C410.93,238.84 411.96,239.45 412.29,240.15 C412.61,240.85 412.72,241.56 412.70,242.57 C412.68,243.57 412.26,244.93 412.15,246.19 C412.03,247.45 411.94,248.76 412.01,250.12 C412.08,251.48 412.40,253.04 412.56,254.34 C412.72,255.65 413.05,256.91 412.98,257.97 C412.91,259.03 412.77,259.96 412.15,260.69 C411.53,261.42 410.31,261.99 409.25,262.35 C408.19,262.70 406.95,262.80 405.80,262.80 C404.65,262.80 403.41,262.70 402.35,262.35 C401.29,261.99 400.07,261.42 399.45,260.69 C398.83,259.96 398.69,259.03 398.62,257.97 C398.56,256.91 398.88,255.65 399.04,254.34 C399.20,253.04 399.52,251.48 399.59,250.12 C399.66,248.76 399.57,247.45 399.45,246.19 C399.34,244.93 398.92,243.57 398.90,242.57 C398.88,241.56 398.99,240.85 399.31,240.15 C399.64,239.45 400.67,238.84 400.83,238.34 C400.99,237.83 400.28,237.48 400.28,237.13 C400.28,236.78 400.46,236.63 400.83,236.22 C401.20,235.82 401.94,235.22 402.49,234.71 C403.04,234.21 403.59,233.56 404.14,233.20 C404.70,232.85 405.25,232.60 405.80,232.60 Z" fill="#cdcdcd" filter="url(#bl07)"/>
<path d="M406.10,238.60 C406.44,238.60 406.78,238.77 407.13,239.00 C407.47,239.24 407.81,239.68 408.15,240.01 C408.50,240.35 408.95,240.75 409.18,241.02 C409.41,241.29 409.52,241.39 409.52,241.63 C409.52,241.87 409.08,242.10 409.18,242.44 C409.28,242.77 409.92,243.18 410.12,243.65 C410.32,244.12 410.39,244.59 410.38,245.27 C410.36,245.94 410.11,246.85 410.04,247.69 C409.96,248.53 409.91,249.41 409.95,250.32 C409.99,251.22 410.19,252.27 410.29,253.14 C410.39,254.02 410.59,254.86 410.55,255.57 C410.51,256.28 410.42,256.90 410.04,257.39 C409.65,257.87 408.89,258.26 408.24,258.50 C407.58,258.73 406.81,258.80 406.10,258.80 C405.39,258.80 404.62,258.73 403.96,258.50 C403.31,258.26 402.55,257.87 402.16,257.39 C401.78,256.90 401.69,256.28 401.65,255.57 C401.61,254.86 401.81,254.02 401.91,253.14 C402.01,252.27 402.21,251.22 402.25,250.32 C402.29,249.41 402.24,248.53 402.16,247.69 C402.09,246.85 401.84,245.94 401.82,245.27 C401.81,244.59 401.88,244.12 402.08,243.65 C402.28,243.18 402.92,242.77 403.02,242.44 C403.12,242.10 402.68,241.87 402.68,241.63 C402.68,241.39 402.79,241.29 403.02,241.02 C403.25,240.75 403.70,240.35 404.05,240.01 C404.39,239.68 404.73,239.24 405.07,239.00 C405.42,238.77 405.76,238.60 406.10,238.60 Z" fill="#ececec" filter="url(#bl15)" opacity="0.9"/>
<ellipse cx="405.80" cy="236.53" rx="3.04" ry="1.60" fill="#8a8a8a" filter="url(#bl07)" opacity="0.55"/>
<path d="M422.10,232.60 C422.65,232.60 423.20,232.85 423.76,233.20 C424.31,233.56 424.86,234.21 425.41,234.71 C425.96,235.22 426.70,235.82 427.07,236.22 C427.44,236.63 427.62,236.78 427.62,237.13 C427.62,237.48 426.91,237.83 427.07,238.34 C427.23,238.84 428.26,239.45 428.59,240.15 C428.91,240.85 429.02,241.56 429.00,242.57 C428.98,243.57 428.56,244.93 428.45,246.19 C428.33,247.45 428.24,248.76 428.31,250.12 C428.38,251.48 428.70,253.04 428.86,254.34 C429.02,255.65 429.35,256.91 429.28,257.97 C429.21,259.03 429.07,259.96 428.45,260.69 C427.83,261.42 426.61,261.99 425.55,262.35 C424.49,262.70 423.25,262.80 422.10,262.80 C420.95,262.80 419.71,262.70 418.65,262.35 C417.59,261.99 416.37,261.42 415.75,260.69 C415.13,259.96 414.99,259.03 414.92,257.97 C414.86,256.91 415.18,255.65 415.34,254.34 C415.50,253.04 415.82,251.48 415.89,250.12 C415.96,248.76 415.87,247.45 415.75,246.19 C415.64,244.93 415.22,243.57 415.20,242.57 C415.18,241.56 415.29,240.85 415.61,240.15 C415.94,239.45 416.97,238.84 417.13,238.34 C417.29,237.83 416.58,237.48 416.58,237.13 C416.58,236.78 416.76,236.63 417.13,236.22 C417.50,235.82 418.24,235.22 418.79,234.71 C419.34,234.21 419.89,233.56 420.44,233.20 C421.00,232.85 421.55,232.60 422.10,232.60 Z" fill="#cdcdcd" filter="url(#bl07)"/>
<path d="M422.40,238.60 C422.74,238.60 423.08,238.77 423.43,239.00 C423.77,239.24 424.11,239.68 424.45,240.01 C424.80,240.35 425.25,240.75 425.48,241.02 C425.71,241.29 425.82,241.39 425.82,241.63 C425.82,241.87 425.38,242.10 425.48,242.44 C425.58,242.77 426.22,243.18 426.42,243.65 C426.62,244.12 426.69,244.59 426.68,245.27 C426.66,245.94 426.41,246.85 426.34,247.69 C426.26,248.53 426.21,249.41 426.25,250.32 C426.29,251.22 426.49,252.27 426.59,253.14 C426.69,254.02 426.89,254.86 426.85,255.57 C426.81,256.28 426.72,256.90 426.34,257.39 C425.95,257.87 425.19,258.26 424.54,258.50 C423.88,258.73 423.11,258.80 422.40,258.80 C421.69,258.80 420.92,258.73 420.26,258.50 C419.61,258.26 418.85,257.87 418.46,257.39 C418.08,256.90 417.99,256.28 417.95,255.57 C417.91,254.86 418.11,254.02 418.21,253.14 C418.31,252.27 418.51,251.22 418.55,250.32 C418.59,249.41 418.54,248.53 418.46,247.69 C418.39,246.85 418.14,245.94 418.12,245.27 C418.11,244.59 418.18,244.12 418.38,243.65 C418.58,243.18 419.22,242.77 419.32,242.44 C419.42,242.10 418.98,241.87 418.98,241.63 C418.98,241.39 419.09,241.29 419.32,241.02 C419.55,240.75 420.00,240.35 420.35,240.01 C420.69,239.68 421.03,239.24 421.37,239.00 C421.72,238.77 422.06,238.60 422.40,238.60 Z" fill="#ececec" filter="url(#bl15)" opacity="0.9"/>
<ellipse cx="422.10" cy="236.53" rx="3.04" ry="1.60" fill="#8a8a8a" filter="url(#bl07)" opacity="0.55"/>
<path d="M437.50,232.60 C438.05,232.60 438.60,232.85 439.16,233.20 C439.71,233.56 440.26,234.21 440.81,234.71 C441.36,235.22 442.10,235.82 442.47,236.22 C442.84,236.63 443.02,236.78 443.02,237.13 C443.02,237.48 442.31,237.83 442.47,238.34 C442.63,238.84 443.66,239.45 443.99,240.15 C444.31,240.85 444.42,241.56 444.40,242.57 C444.38,243.57 443.96,244.93 443.85,246.19 C443.73,247.45 443.64,248.76 443.71,250.12 C443.78,251.48 444.10,253.04 444.26,254.34 C444.42,255.65 444.75,256.91 444.68,257.97 C444.61,259.03 444.47,259.96 443.85,260.69 C443.23,261.42 442.01,261.99 440.95,262.35 C439.89,262.70 438.65,262.80 437.50,262.80 C436.35,262.80 435.11,262.70 434.05,262.35 C432.99,261.99 431.77,261.42 431.15,260.69 C430.53,259.96 430.39,259.03 430.32,257.97 C430.25,256.91 430.58,255.65 430.74,254.34 C430.90,253.04 431.22,251.48 431.29,250.12 C431.36,248.76 431.27,247.45 431.15,246.19 C431.04,244.93 430.62,243.57 430.60,242.57 C430.58,241.56 430.69,240.85 431.01,240.15 C431.34,239.45 432.37,238.84 432.53,238.34 C432.69,237.83 431.98,237.48 431.98,237.13 C431.98,236.78 432.16,236.63 432.53,236.22 C432.90,235.82 433.64,235.22 434.19,234.71 C434.74,234.21 435.29,233.56 435.84,233.20 C436.40,232.85 436.95,232.60 437.50,232.60 Z" fill="#cdcdcd" filter="url(#bl07)"/>
<path d="M437.80,238.60 C438.14,238.60 438.48,238.77 438.83,239.00 C439.17,239.24 439.51,239.68 439.85,240.01 C440.20,240.35 440.65,240.75 440.88,241.02 C441.11,241.29 441.22,241.39 441.22,241.63 C441.22,241.87 440.78,242.10 440.88,242.44 C440.98,242.77 441.62,243.18 441.82,243.65 C442.02,244.12 442.09,244.59 442.08,245.27 C442.06,245.94 441.81,246.85 441.74,247.69 C441.66,248.53 441.61,249.41 441.65,250.32 C441.69,251.22 441.89,252.27 441.99,253.14 C442.09,254.02 442.29,254.86 442.25,255.57 C442.21,256.28 442.12,256.90 441.74,257.39 C441.35,257.87 440.59,258.26 439.94,258.50 C439.28,258.73 438.51,258.80 437.80,258.80 C437.09,258.80 436.32,258.73 435.66,258.50 C435.01,258.26 434.25,257.87 433.86,257.39 C433.48,256.90 433.39,256.28 433.35,255.57 C433.31,254.86 433.51,254.02 433.61,253.14 C433.71,252.27 433.91,251.22 433.95,250.32 C433.99,249.41 433.94,248.53 433.86,247.69 C433.79,246.85 433.54,245.94 433.52,245.27 C433.51,244.59 433.58,244.12 433.78,243.65 C433.98,243.18 434.62,242.77 434.72,242.44 C434.82,242.10 434.38,241.87 434.38,241.63 C434.38,241.39 434.49,241.29 434.72,241.02 C434.95,240.75 435.40,240.35 435.75,240.01 C436.09,239.68 436.43,239.24 436.77,239.00 C437.12,238.77 437.46,238.60 437.80,238.60 Z" fill="#ececec" filter="url(#bl15)" opacity="0.9"/>
<ellipse cx="437.50" cy="236.53" rx="3.04" ry="1.60" fill="#8a8a8a" filter="url(#bl07)" opacity="0.55"/>
<path d="M452.90,232.60 C453.45,232.60 454.00,232.85 454.56,233.20 C455.11,233.56 455.66,234.21 456.21,234.71 C456.76,235.22 457.50,235.82 457.87,236.22 C458.24,236.63 458.42,236.78 458.42,237.13 C458.42,237.48 457.71,237.83 457.87,238.34 C458.03,238.84 459.06,239.45 459.39,240.15 C459.71,240.85 459.82,241.56 459.80,242.57 C459.78,243.57 459.36,244.93 459.25,246.19 C459.13,247.45 459.04,248.76 459.11,250.12 C459.18,251.48 459.50,253.04 459.66,254.34 C459.82,255.65 460.14,256.91 460.08,257.97 C460.01,259.03 459.87,259.96 459.25,260.69 C458.63,261.42 457.41,261.99 456.35,262.35 C455.29,262.70 454.05,262.80 452.90,262.80 C451.75,262.80 450.51,262.70 449.45,262.35 C448.39,261.99 447.17,261.42 446.55,260.69 C445.93,259.96 445.79,259.03 445.72,257.97 C445.65,256.91 445.98,255.65 446.14,254.34 C446.30,253.04 446.62,251.48 446.69,250.12 C446.76,248.76 446.67,247.45 446.55,246.19 C446.44,244.93 446.02,243.57 446.00,242.57 C445.98,241.56 446.09,240.85 446.41,240.15 C446.74,239.45 447.77,238.84 447.93,238.34 C448.09,237.83 447.38,237.48 447.38,237.13 C447.38,236.78 447.56,236.63 447.93,236.22 C448.30,235.82 449.04,235.22 449.59,234.71 C450.14,234.21 450.69,233.56 451.24,233.20 C451.80,232.85 452.35,232.60 452.90,232.60 Z" fill="#cdcdcd" filter="url(#bl07)"/>
<path d="M453.20,238.60 C453.54,238.60 453.88,238.77 454.23,239.00 C454.57,239.24 454.91,239.68 455.25,240.01 C455.60,240.35 456.05,240.75 456.28,241.02 C456.51,241.29 456.62,241.39 456.62,241.63 C456.62,241.87 456.18,242.10 456.28,242.44 C456.38,242.77 457.02,243.18 457.22,243.65 C457.42,244.12 457.49,244.59 457.48,245.27 C457.46,245.94 457.21,246.85 457.14,247.69 C457.06,248.53 457.01,249.41 457.05,250.32 C457.09,251.22 457.29,252.27 457.39,253.14 C457.49,254.02 457.69,254.86 457.65,255.57 C457.61,256.28 457.52,256.90 457.14,257.39 C456.75,257.87 455.99,258.26 455.34,258.50 C454.68,258.73 453.91,258.80 453.20,258.80 C452.49,258.80 451.72,258.73 451.06,258.50 C450.41,258.26 449.65,257.87 449.26,257.39 C448.88,256.90 448.79,256.28 448.75,255.57 C448.71,254.86 448.91,254.02 449.01,253.14 C449.11,252.27 449.31,251.22 449.35,250.32 C449.39,249.41 449.34,248.53 449.26,247.69 C449.19,246.85 448.94,245.94 448.92,245.27 C448.91,244.59 448.98,244.12 449.18,243.65 C449.38,243.18 450.02,242.77 450.12,242.44 C450.22,242.10 449.78,241.87 449.78,241.63 C449.78,241.39 449.89,241.29 450.12,241.02 C450.35,240.75 450.80,240.35 451.15,240.01 C451.49,239.68 451.83,239.24 452.17,239.00 C452.52,238.77 452.86,238.60 453.20,238.60 Z" fill="#ececec" filter="url(#bl15)" opacity="0.9"/>
<ellipse cx="452.90" cy="236.53" rx="3.04" ry="1.60" fill="#8a8a8a" filter="url(#bl07)" opacity="0.55"/>
<path d="M467.60,232.60 C468.15,232.60 468.70,232.85 469.26,233.20 C469.81,233.56 470.36,234.21 470.91,234.71 C471.46,235.22 472.20,235.82 472.57,236.22 C472.94,236.63 473.12,236.78 473.12,237.13 C473.12,237.48 472.41,237.83 472.57,238.34 C472.73,238.84 473.76,239.45 474.09,240.15 C474.41,240.85 474.52,241.56 474.50,242.57 C474.48,243.57 474.06,244.93 473.95,246.19 C473.83,247.45 473.74,248.76 473.81,250.12 C473.88,251.48 474.20,253.04 474.36,254.34 C474.52,255.65 474.85,256.91 474.78,257.97 C474.71,259.03 474.57,259.96 473.95,260.69 C473.33,261.42 472.11,261.99 471.05,262.35 C469.99,262.70 468.75,262.80 467.60,262.80 C466.45,262.80 465.21,262.70 464.15,262.35 C463.09,261.99 461.87,261.42 461.25,260.69 C460.63,259.96 460.49,259.03 460.42,257.97 C460.36,256.91 460.68,255.65 460.84,254.34 C461.00,253.04 461.32,251.48 461.39,250.12 C461.46,248.76 461.37,247.45 461.25,246.19 C461.14,244.93 460.72,243.57 460.70,242.57 C460.68,241.56 460.79,240.85 461.11,240.15 C461.44,239.45 462.47,238.84 462.63,238.34 C462.79,237.83 462.08,237.48 462.08,237.13 C462.08,236.78 462.26,236.63 462.63,236.22 C463.00,235.82 463.74,235.22 464.29,234.71 C464.84,234.21 465.39,233.56 465.94,233.20 C466.50,232.85 467.05,232.60 467.60,232.60 Z" fill="#cdcdcd" filter="url(#bl07)"/>
<path d="M467.90,238.60 C468.24,238.60 468.58,238.77 468.93,239.00 C469.27,239.24 469.61,239.68 469.95,240.01 C470.30,240.35 470.75,240.75 470.98,241.02 C471.21,241.29 471.32,241.39 471.32,241.63 C471.32,241.87 470.88,242.10 470.98,242.44 C471.08,242.77 471.72,243.18 471.92,243.65 C472.12,244.12 472.19,244.59 472.18,245.27 C472.16,245.94 471.91,246.85 471.84,247.69 C471.76,248.53 471.71,249.41 471.75,250.32 C471.79,251.22 471.99,252.27 472.09,253.14 C472.19,254.02 472.39,254.86 472.35,255.57 C472.31,256.28 472.22,256.90 471.84,257.39 C471.45,257.87 470.69,258.26 470.04,258.50 C469.38,258.73 468.61,258.80 467.90,258.80 C467.19,258.80 466.42,258.73 465.76,258.50 C465.11,258.26 464.35,257.87 463.96,257.39 C463.58,256.90 463.49,256.28 463.45,255.57 C463.41,254.86 463.61,254.02 463.71,253.14 C463.81,252.27 464.01,251.22 464.05,250.32 C464.09,249.41 464.04,248.53 463.96,247.69 C463.89,246.85 463.64,245.94 463.62,245.27 C463.61,244.59 463.68,244.12 463.88,243.65 C464.08,243.18 464.72,242.77 464.82,242.44 C464.92,242.10 464.48,241.87 464.48,241.63 C464.48,241.39 464.59,241.29 464.82,241.02 C465.05,240.75 465.50,240.35 465.85,240.01 C466.19,239.68 466.53,239.24 466.87,239.00 C467.22,238.77 467.56,238.60 467.90,238.60 Z" fill="#ececec" filter="url(#bl15)" opacity="0.9"/>
<ellipse cx="467.60" cy="236.53" rx="3.04" ry="1.60" fill="#8a8a8a" filter="url(#bl07)" opacity="0.55"/>
<ellipse cx="390.80" cy="246.90" rx="2.90" ry="3.00" fill="#ece4ff" filter="url(#bl1)" opacity="0.95"/>
<ellipse cx="388.40" cy="253.00" rx="4.20" ry="3.30" fill="#ece4ff" filter="url(#bl1)" opacity="0.95"/>
<ellipse cx="390.80" cy="246.90" rx="2.00" ry="2.10" fill="#8a70e0" filter="url(#bl07)" opacity="0.9"/>
<ellipse cx="388.40" cy="253.00" rx="3.30" ry="2.40" fill="#8a70e0" filter="url(#bl07)" opacity="0.9"/>
<ellipse cx="390.80" cy="246.90" rx="1.50" ry="1.60" fill="#4c1ec4" filter="url(#bl05)" opacity="1.0"/>
<ellipse cx="388.40" cy="253.00" rx="2.80" ry="1.90" fill="#4c1ec4" filter="url(#bl05)" opacity="1.0"/>
<ellipse cx="420.40" cy="253.30" rx="3.60" ry="2.60" fill="#ece4ff" filter="url(#bl1)" opacity="0.95"/>
<ellipse cx="420.40" cy="253.30" rx="2.70" ry="1.70" fill="#8a70e0" filter="url(#bl07)" opacity="0.9"/>
<ellipse cx="420.40" cy="253.30" rx="2.20" ry="1.20" fill="#4c1ec4" filter="url(#bl05)" opacity="1.0"/>
<ellipse cx="438.20" cy="244.60" rx="2.80" ry="2.80" fill="#ece4ff" filter="url(#bl1)" opacity="0.95"/>
<ellipse cx="438.20" cy="244.60" rx="1.90" ry="1.90" fill="#8a70e0" filter="url(#bl07)" opacity="0.9"/>
<ellipse cx="438.20" cy="244.60" rx="1.40" ry="1.40" fill="#4c1ec4" filter="url(#bl05)" opacity="1.0"/>
<ellipse cx="440.00" cy="254.80" rx="2.40" ry="2.30" fill="#ece4ff" filter="url(#bl1)" opacity="0.95"/>
<ellipse cx="440.00" cy="254.80" rx="1.50" ry="1.40" fill="#8a70e0" filter="url(#bl07)" opacity="0.9"/>
<ellipse cx="440.00" cy="254.80" rx="1.00" ry="0.90" fill="#4c1ec4" filter="url(#bl05)" opacity="1.0"/>
<ellipse cx="452.80" cy="247.00" rx="2.30" ry="2.30" fill="#ece4ff" filter="url(#bl1)" opacity="0.95"/>
<ellipse cx="452.80" cy="247.00" rx="1.40" ry="1.40" fill="#8a70e0" filter="url(#bl07)" opacity="0.9"/>
<ellipse cx="452.80" cy="247.00" rx="0.90" ry="0.90" fill="#4c1ec4" filter="url(#bl05)" opacity="1.0"/>
</g>
<clipPath id="c288_276"><rect x="288.2" y="276.9" width="84.00" height="40.70"/></clipPath>
<g clip-path="url(#c288_276)">
<rect x="288.2" y="276.9" width="84.00" height="40.70" fill="#262626"/>
<ellipse cx="293.40" cy="311.00" rx="2.20" ry="3.80" fill="#5c5c5c" filter="url(#bl1)" opacity="1.0"/>
<ellipse cx="303.00" cy="311.00" rx="2.20" ry="3.80" fill="#5c5c5c" filter="url(#bl1)" opacity="1.0"/>
<line x1="298.20" y1="306.00" x2="298.50" y2="317.60" stroke="#b0b0b0" stroke-width="1.1" filter="url(#bl05)"/>
<ellipse cx="307.70" cy="311.00" rx="2.20" ry="3.80" fill="#5c5c5c" filter="url(#bl1)" opacity="1.0"/>
<ellipse cx="317.30" cy="311.00" rx="2.20" ry="3.80" fill="#5c5c5c" filter="url(#bl1)" opacity="1.0"/>
<line x1="312.50" y1="306.00" x2="312.80" y2="317.60" stroke="#b0b0b0" stroke-width="1.1" filter="url(#bl05)"/>
<ellipse cx="327.70" cy="311.00" rx="2.20" ry="3.80" fill="#5c5c5c" filter="url(#bl1)" opacity="1.0"/>
<ellipse cx="337.30" cy="311.00" rx="2.20" ry="3.80" fill="#5c5c5c" filter="url(#bl1)" opacity="1.0"/>
<line x1="332.50" y1="306.00" x2="332.80" y2="317.60" stroke="#b0b0b0" stroke-width="1.1" filter="url(#bl05)"/>
<ellipse cx="341.70" cy="311.00" rx="2.20" ry="3.80" fill="#5c5c5c" filter="url(#bl1)" opacity="1.0"/>
<ellipse cx="351.30" cy="311.00" rx="2.20" ry="3.80" fill="#5c5c5c" filter="url(#bl1)" opacity="1.0"/>
<line x1="346.50" y1="306.00" x2="346.80" y2="317.60" stroke="#b0b0b0" stroke-width="1.1" filter="url(#bl05)"/>
<ellipse cx="358.20" cy="311.00" rx="2.20" ry="3.80" fill="#5c5c5c" filter="url(#bl1)" opacity="1.0"/>
<ellipse cx="367.80" cy="311.00" rx="2.20" ry="3.80" fill="#5c5c5c" filter="url(#bl1)" opacity="1.0"/>
<line x1="363.00" y1="306.00" x2="363.30" y2="317.60" stroke="#b0b0b0" stroke-width="1.1" filter="url(#bl05)"/>
<path d="M298.20,277.70 C298.78,277.70 299.36,277.95 299.94,278.31 C300.52,278.67 301.10,279.33 301.68,279.83 C302.26,280.34 303.03,280.95 303.42,281.36 C303.81,281.77 304.00,281.92 304.00,282.27 C304.00,282.63 303.25,282.99 303.42,283.50 C303.59,284.00 304.68,284.61 305.01,285.32 C305.35,286.04 305.47,286.75 305.45,287.76 C305.43,288.78 304.99,290.15 304.87,291.43 C304.75,292.70 304.65,294.02 304.72,295.39 C304.80,296.76 305.14,298.34 305.31,299.66 C305.47,300.98 305.81,302.25 305.74,303.32 C305.67,304.39 305.52,305.33 304.87,306.06 C304.22,306.80 302.94,307.39 301.82,307.74 C300.71,308.10 299.41,308.20 298.20,308.20 C296.99,308.20 295.69,308.10 294.57,307.74 C293.46,307.39 292.18,306.80 291.53,306.06 C290.88,305.33 290.73,304.39 290.66,303.32 C290.59,302.25 290.93,300.98 291.09,299.66 C291.26,298.34 291.60,296.76 291.68,295.39 C291.75,294.02 291.65,292.70 291.53,291.43 C291.41,290.15 290.97,288.78 290.95,287.76 C290.93,286.75 291.05,286.04 291.38,285.32 C291.72,284.61 292.81,284.00 292.98,283.50 C293.15,282.99 292.40,282.63 292.40,282.27 C292.40,281.92 292.59,281.77 292.98,281.36 C293.37,280.95 294.14,280.34 294.72,279.83 C295.30,279.33 295.88,278.67 296.46,278.31 C297.04,277.95 297.62,277.70 298.20,277.70 Z" fill="#dcdcdc" filter="url(#bl07)"/>
<path d="M298.50,283.70 C298.86,283.70 299.22,283.87 299.58,284.11 C299.94,284.35 300.30,284.79 300.66,285.13 C301.02,285.48 301.50,285.89 301.74,286.16 C301.98,286.43 302.10,286.54 302.10,286.77 C302.10,287.01 301.63,287.25 301.74,287.59 C301.84,287.94 302.52,288.35 302.73,288.82 C302.94,289.30 303.01,289.78 303.00,290.46 C302.98,291.15 302.71,292.07 302.64,292.93 C302.56,293.78 302.50,294.67 302.55,295.59 C302.59,296.51 302.80,297.57 302.91,298.46 C303.01,299.35 303.22,300.20 303.17,300.92 C303.13,301.64 303.04,302.27 302.64,302.76 C302.23,303.26 301.44,303.65 300.75,303.89 C300.06,304.13 299.25,304.20 298.50,304.20 C297.75,304.20 296.94,304.13 296.25,303.89 C295.56,303.65 294.77,303.26 294.36,302.76 C293.96,302.27 293.87,301.64 293.83,300.92 C293.78,300.20 293.99,299.35 294.09,298.46 C294.20,297.57 294.41,296.51 294.45,295.59 C294.50,294.67 294.44,293.78 294.36,292.93 C294.29,292.07 294.02,291.15 294.00,290.46 C293.99,289.78 294.06,289.30 294.27,288.82 C294.48,288.35 295.16,287.94 295.26,287.59 C295.37,287.25 294.90,287.01 294.90,286.77 C294.90,286.54 295.02,286.43 295.26,286.16 C295.50,285.89 295.98,285.48 296.34,285.13 C296.70,284.79 297.06,284.35 297.42,284.11 C297.78,283.87 298.14,283.70 298.50,283.70 Z" fill="#f6f6f6" filter="url(#bl15)" opacity="0.9"/>
<ellipse cx="298.20" cy="281.66" rx="3.19" ry="1.60" fill="#8a8a8a" filter="url(#bl07)" opacity="0.55"/>
<path d="M312.50,277.70 C313.08,277.70 313.66,277.95 314.24,278.31 C314.82,278.67 315.40,279.33 315.98,279.83 C316.56,280.34 317.33,280.95 317.72,281.36 C318.11,281.77 318.30,281.92 318.30,282.27 C318.30,282.63 317.55,282.99 317.72,283.50 C317.89,284.00 318.98,284.61 319.31,285.32 C319.65,286.04 319.77,286.75 319.75,287.76 C319.73,288.78 319.29,290.15 319.17,291.43 C319.05,292.70 318.95,294.02 319.02,295.39 C319.10,296.76 319.44,298.34 319.61,299.66 C319.77,300.98 320.11,302.25 320.04,303.32 C319.97,304.39 319.82,305.33 319.17,306.06 C318.52,306.80 317.24,307.39 316.12,307.74 C315.01,308.10 313.71,308.20 312.50,308.20 C311.29,308.20 309.99,308.10 308.88,307.74 C307.76,307.39 306.48,306.80 305.83,306.06 C305.18,305.33 305.03,304.39 304.96,303.32 C304.89,302.25 305.23,300.98 305.39,299.66 C305.56,298.34 305.90,296.76 305.98,295.39 C306.05,294.02 305.95,292.70 305.83,291.43 C305.71,290.15 305.27,288.78 305.25,287.76 C305.23,286.75 305.35,286.04 305.69,285.32 C306.02,284.61 307.11,284.00 307.28,283.50 C307.45,282.99 306.70,282.63 306.70,282.27 C306.70,281.92 306.89,281.77 307.28,281.36 C307.67,280.95 308.44,280.34 309.02,279.83 C309.60,279.33 310.18,278.67 310.76,278.31 C311.34,277.95 311.92,277.70 312.50,277.70 Z" fill="#dcdcdc" filter="url(#bl07)"/>
<path d="M312.80,283.70 C313.16,283.70 313.52,283.87 313.88,284.11 C314.24,284.35 314.60,284.79 314.96,285.13 C315.32,285.48 315.80,285.89 316.04,286.16 C316.28,286.43 316.40,286.54 316.40,286.77 C316.40,287.01 315.93,287.25 316.04,287.59 C316.14,287.94 316.82,288.35 317.03,288.82 C317.24,289.30 317.31,289.78 317.30,290.46 C317.28,291.15 317.01,292.07 316.94,292.93 C316.86,293.78 316.80,294.67 316.85,295.59 C316.89,296.51 317.10,297.57 317.21,298.46 C317.31,299.35 317.52,300.20 317.47,300.92 C317.43,301.64 317.34,302.27 316.94,302.76 C316.53,303.26 315.74,303.65 315.05,303.89 C314.36,304.13 313.55,304.20 312.80,304.20 C312.05,304.20 311.24,304.13 310.55,303.89 C309.86,303.65 309.07,303.26 308.66,302.76 C308.26,302.27 308.17,301.64 308.13,300.92 C308.08,300.20 308.29,299.35 308.39,298.46 C308.50,297.57 308.71,296.51 308.75,295.59 C308.80,294.67 308.74,293.78 308.66,292.93 C308.59,292.07 308.32,291.15 308.31,290.46 C308.29,289.78 308.36,289.30 308.57,288.82 C308.78,288.35 309.46,287.94 309.56,287.59 C309.67,287.25 309.20,287.01 309.20,286.77 C309.20,286.54 309.32,286.43 309.56,286.16 C309.80,285.89 310.28,285.48 310.64,285.13 C311.00,284.79 311.36,284.35 311.72,284.11 C312.08,283.87 312.44,283.70 312.80,283.70 Z" fill="#f6f6f6" filter="url(#bl15)" opacity="0.9"/>
<ellipse cx="312.50" cy="281.66" rx="3.19" ry="1.60" fill="#8a8a8a" filter="url(#bl07)" opacity="0.55"/>
<path d="M332.50,277.70 C333.08,277.70 333.66,277.95 334.24,278.31 C334.82,278.67 335.40,279.33 335.98,279.83 C336.56,280.34 337.33,280.95 337.72,281.36 C338.11,281.77 338.30,281.92 338.30,282.27 C338.30,282.63 337.55,282.99 337.72,283.50 C337.89,284.00 338.98,284.61 339.31,285.32 C339.65,286.04 339.77,286.75 339.75,287.76 C339.73,288.78 339.29,290.15 339.17,291.43 C339.05,292.70 338.95,294.02 339.02,295.39 C339.10,296.76 339.44,298.34 339.61,299.66 C339.77,300.98 340.11,302.25 340.04,303.32 C339.97,304.39 339.82,305.33 339.17,306.06 C338.52,306.80 337.24,307.39 336.12,307.74 C335.01,308.10 333.71,308.20 332.50,308.20 C331.29,308.20 329.99,308.10 328.88,307.74 C327.76,307.39 326.48,306.80 325.83,306.06 C325.18,305.33 325.03,304.39 324.96,303.32 C324.89,302.25 325.23,300.98 325.39,299.66 C325.56,298.34 325.90,296.76 325.98,295.39 C326.05,294.02 325.95,292.70 325.83,291.43 C325.71,290.15 325.27,288.78 325.25,287.76 C325.23,286.75 325.35,286.04 325.69,285.32 C326.02,284.61 327.11,284.00 327.28,283.50 C327.45,282.99 326.70,282.63 326.70,282.27 C326.70,281.92 326.89,281.77 327.28,281.36 C327.67,280.95 328.44,280.34 329.02,279.83 C329.60,279.33 330.18,278.67 330.76,278.31 C331.34,277.95 331.92,277.70 332.50,277.70 Z" fill="#dcdcdc" filter="url(#bl07)"/>
<path d="M332.80,283.70 C333.16,283.70 333.52,283.87 333.88,284.11 C334.24,284.35 334.60,284.79 334.96,285.13 C335.32,285.48 335.80,285.89 336.04,286.16 C336.28,286.43 336.40,286.54 336.40,286.77 C336.40,287.01 335.93,287.25 336.04,287.59 C336.14,287.94 336.82,288.35 337.03,288.82 C337.24,289.30 337.31,289.78 337.30,290.46 C337.28,291.15 337.01,292.07 336.94,292.93 C336.86,293.78 336.80,294.67 336.85,295.59 C336.89,296.51 337.10,297.57 337.21,298.46 C337.31,299.35 337.52,300.20 337.47,300.92 C337.43,301.64 337.34,302.27 336.94,302.76 C336.53,303.26 335.74,303.65 335.05,303.89 C334.36,304.13 333.55,304.20 332.80,304.20 C332.05,304.20 331.24,304.13 330.55,303.89 C329.86,303.65 329.07,303.26 328.66,302.76 C328.26,302.27 328.17,301.64 328.13,300.92 C328.08,300.20 328.29,299.35 328.39,298.46 C328.50,297.57 328.71,296.51 328.75,295.59 C328.80,294.67 328.74,293.78 328.66,292.93 C328.59,292.07 328.32,291.15 328.31,290.46 C328.29,289.78 328.36,289.30 328.57,288.82 C328.78,288.35 329.46,287.94 329.56,287.59 C329.67,287.25 329.20,287.01 329.20,286.77 C329.20,286.54 329.32,286.43 329.56,286.16 C329.80,285.89 330.28,285.48 330.64,285.13 C331.00,284.79 331.36,284.35 331.72,284.11 C332.08,283.87 332.44,283.70 332.80,283.70 Z" fill="#f6f6f6" filter="url(#bl15)" opacity="0.9"/>
<ellipse cx="332.50" cy="281.66" rx="3.19" ry="1.60" fill="#8a8a8a" filter="url(#bl07)" opacity="0.55"/>
<path d="M346.50,277.70 C347.08,277.70 347.66,277.95 348.24,278.31 C348.82,278.67 349.40,279.33 349.98,279.83 C350.56,280.34 351.33,280.95 351.72,281.36 C352.11,281.77 352.30,281.92 352.30,282.27 C352.30,282.63 351.55,282.99 351.72,283.50 C351.89,284.00 352.98,284.61 353.31,285.32 C353.65,286.04 353.77,286.75 353.75,287.76 C353.73,288.78 353.29,290.15 353.17,291.43 C353.05,292.70 352.95,294.02 353.02,295.39 C353.10,296.76 353.44,298.34 353.61,299.66 C353.77,300.98 354.11,302.25 354.04,303.32 C353.97,304.39 353.82,305.33 353.17,306.06 C352.52,306.80 351.24,307.39 350.12,307.74 C349.01,308.10 347.71,308.20 346.50,308.20 C345.29,308.20 343.99,308.10 342.88,307.74 C341.76,307.39 340.48,306.80 339.83,306.06 C339.18,305.33 339.03,304.39 338.96,303.32 C338.89,302.25 339.23,300.98 339.39,299.66 C339.56,298.34 339.90,296.76 339.98,295.39 C340.05,294.02 339.95,292.70 339.83,291.43 C339.71,290.15 339.27,288.78 339.25,287.76 C339.23,286.75 339.35,286.04 339.69,285.32 C340.02,284.61 341.11,284.00 341.28,283.50 C341.45,282.99 340.70,282.63 340.70,282.27 C340.70,281.92 340.89,281.77 341.28,281.36 C341.67,280.95 342.44,280.34 343.02,279.83 C343.60,279.33 344.18,278.67 344.76,278.31 C345.34,277.95 345.92,277.70 346.50,277.70 Z" fill="#dcdcdc" filter="url(#bl07)"/>
<path d="M346.80,283.70 C347.16,283.70 347.52,283.87 347.88,284.11 C348.24,284.35 348.60,284.79 348.96,285.13 C349.32,285.48 349.80,285.89 350.04,286.16 C350.28,286.43 350.40,286.54 350.40,286.77 C350.40,287.01 349.93,287.25 350.04,287.59 C350.14,287.94 350.82,288.35 351.03,288.82 C351.24,289.30 351.31,289.78 351.30,290.46 C351.28,291.15 351.01,292.07 350.94,292.93 C350.86,293.78 350.80,294.67 350.85,295.59 C350.89,296.51 351.10,297.57 351.21,298.46 C351.31,299.35 351.52,300.20 351.47,300.92 C351.43,301.64 351.34,302.27 350.94,302.76 C350.53,303.26 349.74,303.65 349.05,303.89 C348.36,304.13 347.55,304.20 346.80,304.20 C346.05,304.20 345.24,304.13 344.55,303.89 C343.86,303.65 343.07,303.26 342.66,302.76 C342.26,302.27 342.17,301.64 342.13,300.92 C342.08,300.20 342.29,299.35 342.39,298.46 C342.50,297.57 342.71,296.51 342.75,295.59 C342.80,294.67 342.74,293.78 342.66,292.93 C342.59,292.07 342.32,291.15 342.31,290.46 C342.29,289.78 342.36,289.30 342.57,288.82 C342.78,288.35 343.46,287.94 343.56,287.59 C343.67,287.25 343.20,287.01 343.20,286.77 C343.20,286.54 343.32,286.43 343.56,286.16 C343.80,285.89 344.28,285.48 344.64,285.13 C345.00,284.79 345.36,284.35 345.72,284.11 C346.08,283.87 346.44,283.70 346.80,283.70 Z" fill="#f6f6f6" filter="url(#bl15)" opacity="0.9"/>
<ellipse cx="346.50" cy="281.66" rx="3.19" ry="1.60" fill="#8a8a8a" filter="url(#bl07)" opacity="0.55"/>
<path d="M363.00,277.70 C363.58,277.70 364.16,277.95 364.74,278.31 C365.32,278.67 365.90,279.33 366.48,279.83 C367.06,280.34 367.83,280.95 368.22,281.36 C368.61,281.77 368.80,281.92 368.80,282.27 C368.80,282.63 368.05,282.99 368.22,283.50 C368.39,284.00 369.48,284.61 369.81,285.32 C370.15,286.04 370.27,286.75 370.25,287.76 C370.23,288.78 369.79,290.15 369.67,291.43 C369.55,292.70 369.45,294.02 369.52,295.39 C369.60,296.76 369.94,298.34 370.11,299.66 C370.27,300.98 370.61,302.25 370.54,303.32 C370.47,304.39 370.32,305.33 369.67,306.06 C369.02,306.80 367.74,307.39 366.62,307.74 C365.51,308.10 364.21,308.20 363.00,308.20 C361.79,308.20 360.49,308.10 359.38,307.74 C358.26,307.39 356.98,306.80 356.33,306.06 C355.68,305.33 355.53,304.39 355.46,303.32 C355.39,302.25 355.73,300.98 355.89,299.66 C356.06,298.34 356.40,296.76 356.48,295.39 C356.55,294.02 356.45,292.70 356.33,291.43 C356.21,290.15 355.77,288.78 355.75,287.76 C355.73,286.75 355.85,286.04 356.19,285.32 C356.52,284.61 357.61,284.00 357.78,283.50 C357.95,282.99 357.20,282.63 357.20,282.27 C357.20,281.92 357.39,281.77 357.78,281.36 C358.17,280.95 358.94,280.34 359.52,279.83 C360.10,279.33 360.68,278.67 361.26,278.31 C361.84,277.95 362.42,277.70 363.00,277.70 Z" fill="#dcdcdc" filter="url(#bl07)"/>
<path d="M363.30,283.70 C363.66,283.70 364.02,283.87 364.38,284.11 C364.74,284.35 365.10,284.79 365.46,285.13 C365.82,285.48 366.30,285.89 366.54,286.16 C366.78,286.43 366.90,286.54 366.90,286.77 C366.90,287.01 366.43,287.25 366.54,287.59 C366.64,287.94 367.32,288.35 367.53,288.82 C367.74,289.30 367.81,289.78 367.80,290.46 C367.78,291.15 367.51,292.07 367.44,292.93 C367.36,293.78 367.30,294.67 367.35,295.59 C367.39,296.51 367.60,297.57 367.71,298.46 C367.81,299.35 368.02,300.20 367.97,300.92 C367.93,301.64 367.84,302.27 367.44,302.76 C367.03,303.26 366.24,303.65 365.55,303.89 C364.86,304.13 364.05,304.20 363.30,304.20 C362.55,304.20 361.74,304.13 361.05,303.89 C360.36,303.65 359.57,303.26 359.16,302.76 C358.76,302.27 358.67,301.64 358.63,300.92 C358.58,300.20 358.79,299.35 358.89,298.46 C359.00,297.57 359.21,296.51 359.25,295.59 C359.30,294.67 359.24,293.78 359.16,292.93 C359.09,292.07 358.82,291.15 358.81,290.46 C358.79,289.78 358.86,289.30 359.07,288.82 C359.28,288.35 359.96,287.94 360.06,287.59 C360.17,287.25 359.70,287.01 359.70,286.77 C359.70,286.54 359.82,286.43 360.06,286.16 C360.30,285.89 360.78,285.48 361.14,285.13 C361.50,284.79 361.86,284.35 362.22,284.11 C362.58,283.87 362.94,283.70 363.30,283.70 Z" fill="#f6f6f6" filter="url(#bl15)" opacity="0.9"/>
<ellipse cx="363.00" cy="281.66" rx="3.19" ry="1.60" fill="#8a8a8a" filter="url(#bl07)" opacity="0.55"/>
<line x1="298.20" y1="276.90" x2="298.20" y2="280.90" stroke="#b8b8b8" stroke-width="1.0" filter="url(#bl05)"/>
<line x1="312.50" y1="276.90" x2="312.50" y2="280.90" stroke="#b8b8b8" stroke-width="1.0" filter="url(#bl05)"/>
<line x1="332.50" y1="276.90" x2="332.50" y2="280.90" stroke="#b8b8b8" stroke-width="1.0" filter="url(#bl05)"/>
<line x1="346.50" y1="276.90" x2="346.50" y2="280.90" stroke="#b8b8b8" stroke-width="1.0" filter="url(#bl05)"/>
<line x1="363.00" y1="276.90" x2="363.00" y2="280.90" stroke="#b8b8b8" stroke-width="1.0" filter="url(#bl05)"/>
<ellipse cx="299.60" cy="301.80" rx="6.40" ry="5.80" fill="#ece4ff" filter="url(#bl1)" opacity="0.95"/>
<ellipse cx="295.40" cy="299.00" rx="4.00" ry="4.00" fill="#ece4ff" filter="url(#bl1)" opacity="0.95"/>
<ellipse cx="297.60" cy="290.00" rx="2.50" ry="2.50" fill="#ece4ff" filter="url(#bl1)" opacity="0.95"/>
<ellipse cx="299.60" cy="301.80" rx="5.50" ry="4.90" fill="#9474f2" filter="url(#bl07)" opacity="0.9"/>
<ellipse cx="295.40" cy="299.00" rx="3.10" ry="3.10" fill="#9474f2" filter="url(#bl07)" opacity="0.9"/>
<ellipse cx="297.60" cy="290.00" rx="1.60" ry="1.60" fill="#9474f2" filter="url(#bl07)" opacity="0.9"/>
<ellipse cx="299.60" cy="301.80" rx="5.00" ry="4.40" fill="#4616e4" filter="url(#bl05)" opacity="1.0"/>
<ellipse cx="295.40" cy="299.00" rx="2.60" ry="2.60" fill="#4616e4" filter="url(#bl05)" opacity="1.0"/>
<ellipse cx="297.60" cy="290.00" rx="1.10" ry="1.10" fill="#4616e4" filter="url(#bl05)" opacity="1.0"/>
<path d="M312.50,288.30 C315.26,288.30 315.95,289.37 315.95,290.81 C315.95,292.24 316.66,292.60 316.66,294.74 C316.66,297.61 320.70,299.40 320.70,302.98 C320.70,306.20 315.78,306.20 312.50,306.20 C309.22,306.20 304.30,306.20 304.30,302.98 C304.30,299.40 308.34,297.61 308.34,294.74 C308.34,292.60 309.05,292.24 309.05,290.81 C309.05,289.37 309.74,288.30 312.50,288.30Z" fill="#ece4ff" filter="url(#bl1)" opacity="0.95"/>
<path d="M312.50,289.10 C314.62,289.10 315.15,290.08 315.15,291.38 C315.15,292.69 315.86,293.01 315.86,294.97 C315.86,297.58 319.90,299.21 319.90,302.47 C319.90,305.40 315.46,305.40 312.50,305.40 C309.54,305.40 305.10,305.40 305.10,302.47 C305.10,299.21 309.14,297.58 309.14,294.97 C309.14,293.01 309.85,292.69 309.85,291.38 C309.85,290.08 310.38,289.10 312.50,289.10Z" fill="#9474f2" filter="url(#bl07)" opacity="0.9"/>
<path d="M312.50,289.50 C314.30,289.50 314.75,290.43 314.75,291.67 C314.75,292.91 315.46,293.22 315.46,295.08 C315.46,297.56 319.50,299.11 319.50,302.21 C319.50,305.00 315.30,305.00 312.50,305.00 C309.70,305.00 305.50,305.00 305.50,302.21 C305.50,299.11 309.54,297.56 309.54,295.08 C309.54,293.22 310.25,292.91 310.25,291.67 C310.25,290.43 310.70,289.50 312.50,289.50Z" fill="#4616e4" filter="url(#bl05)" opacity="1.0"/>
<ellipse cx="312.00" cy="285.60" rx="2.40" ry="2.40" fill="#ece4ff" filter="url(#bl1)" opacity="0.95"/>
<ellipse cx="312.00" cy="285.60" rx="1.50" ry="1.50" fill="#9474f2" filter="url(#bl07)" opacity="0.9"/>
<ellipse cx="312.00" cy="285.60" rx="1.00" ry="1.00" fill="#4616e4" filter="url(#bl05)" opacity="1.0"/>
<path d="M332.20,289.30 C334.96,289.30 335.65,290.31 335.65,291.67 C335.65,293.02 336.29,293.36 336.29,295.38 C336.29,298.09 339.90,299.78 339.90,303.16 C339.90,306.20 335.28,306.20 332.20,306.20 C329.12,306.20 324.50,306.20 324.50,303.16 C324.50,299.78 328.11,298.09 328.11,295.38 C328.11,293.36 328.75,293.02 328.75,291.67 C328.75,290.31 329.44,289.30 332.20,289.30Z" fill="#ece4ff" filter="url(#bl1)" opacity="0.95"/>
<path d="M332.20,290.10 C334.32,290.10 334.85,291.02 334.85,292.24 C334.85,293.47 335.49,293.77 335.49,295.61 C335.49,298.06 339.10,299.59 339.10,302.65 C339.10,305.40 334.96,305.40 332.20,305.40 C329.44,305.40 325.30,305.40 325.30,302.65 C325.30,299.59 328.91,298.06 328.91,295.61 C328.91,293.77 329.55,293.47 329.55,292.24 C329.55,291.02 330.08,290.10 332.20,290.10Z" fill="#9474f2" filter="url(#bl07)" opacity="0.9"/>
<path d="M332.20,290.50 C334.00,290.50 334.45,291.37 334.45,292.53 C334.45,293.69 335.09,293.98 335.09,295.72 C335.09,298.04 338.70,299.49 338.70,302.39 C338.70,305.00 334.80,305.00 332.20,305.00 C329.60,305.00 325.70,305.00 325.70,302.39 C325.70,299.49 329.31,298.04 329.31,295.72 C329.31,293.98 329.95,293.69 329.95,292.53 C329.95,291.37 330.40,290.50 332.20,290.50Z" fill="#4616e4" filter="url(#bl05)" opacity="1.0"/>
<ellipse cx="332.50" cy="283.20" rx="4.20" ry="3.20" fill="#ece4ff" filter="url(#bl1)" opacity="0.95"/>
<ellipse cx="332.50" cy="283.20" rx="3.30" ry="2.30" fill="#9474f2" filter="url(#bl07)" opacity="0.9"/>
<ellipse cx="332.50" cy="283.20" rx="2.80" ry="1.80" fill="#4616e4" filter="url(#bl05)" opacity="1.0"/>
<path d="M346.50,287.30 C349.86,287.30 350.70,288.46 350.70,290.02 C350.70,291.57 351.34,291.96 351.34,294.28 C351.34,297.39 354.95,299.33 354.95,303.21 C354.95,306.70 349.88,306.70 346.50,306.70 C343.12,306.70 338.05,306.70 338.05,303.21 C338.05,299.33 341.66,297.39 341.66,294.28 C341.66,291.96 342.30,291.57 342.30,290.02 C342.30,288.46 343.14,287.30 346.50,287.30Z" fill="#ece4ff" filter="url(#bl1)" opacity="0.95"/>
<path d="M346.50,288.10 C349.22,288.10 349.90,289.17 349.90,290.59 C349.90,292.02 350.54,292.37 350.54,294.51 C350.54,297.36 354.15,299.14 354.15,302.70 C354.15,305.90 349.56,305.90 346.50,305.90 C343.44,305.90 338.85,305.90 338.85,302.70 C338.85,299.14 342.46,297.36 342.46,294.51 C342.46,292.37 343.10,292.02 343.10,290.59 C343.10,289.17 343.78,288.10 346.50,288.10Z" fill="#9474f2" filter="url(#bl07)" opacity="0.9"/>
<path d="M346.50,288.50 C348.90,288.50 349.50,289.52 349.50,290.88 C349.50,292.24 350.14,292.58 350.14,294.62 C350.14,297.34 353.75,299.04 353.75,302.44 C353.75,305.50 349.40,305.50 346.50,305.50 C343.60,305.50 339.25,305.50 339.25,302.44 C339.25,299.04 342.86,297.34 342.86,294.62 C342.86,292.58 343.50,292.24 343.50,290.88 C343.50,289.52 344.10,288.50 346.50,288.50Z" fill="#4616e4" filter="url(#bl05)" opacity="1.0"/>
<ellipse cx="346.50" cy="282.80" rx="5.60" ry="3.60" fill="#ece4ff" filter="url(#bl1)" opacity="0.95"/>
<ellipse cx="346.50" cy="282.80" rx="4.70" ry="2.70" fill="#9474f2" filter="url(#bl07)" opacity="0.9"/>
<ellipse cx="346.50" cy="282.80" rx="4.20" ry="2.20" fill="#4616e4" filter="url(#bl05)" opacity="1.0"/>
<path d="M363.00,290.30 C365.96,290.30 366.70,291.25 366.70,292.53 C366.70,293.80 367.00,294.12 367.00,296.02 C367.00,298.57 368.70,300.16 368.70,303.34 C368.70,306.20 365.28,306.20 363.00,306.20 C360.72,306.20 357.30,306.20 357.30,303.34 C357.30,300.16 359.00,298.57 359.00,296.02 C359.00,294.12 359.30,293.80 359.30,292.53 C359.30,291.25 360.04,290.30 363.00,290.30Z" fill="#ece4ff" filter="url(#bl1)" opacity="0.95"/>
<path d="M363.00,291.10 C365.32,291.10 365.90,291.96 365.90,293.10 C365.90,294.25 366.20,294.53 366.20,296.25 C366.20,298.54 367.90,299.97 367.90,302.83 C367.90,305.40 364.96,305.40 363.00,305.40 C361.04,305.40 358.10,305.40 358.10,302.83 C358.10,299.97 359.80,298.54 359.80,296.25 C359.80,294.53 360.10,294.25 360.10,293.10 C360.10,291.96 360.68,291.10 363.00,291.10Z" fill="#9474f2" filter="url(#bl07)" opacity="0.9"/>
<path d="M363.00,291.50 C365.00,291.50 365.50,292.31 365.50,293.39 C365.50,294.47 365.80,294.74 365.80,296.36 C365.80,298.52 367.50,299.87 367.50,302.57 C367.50,305.00 364.80,305.00 363.00,305.00 C361.20,305.00 358.50,305.00 358.50,302.57 C358.50,299.87 360.20,298.52 360.20,296.36 C360.20,294.74 360.50,294.47 360.50,293.39 C360.50,292.31 361.00,291.50 363.00,291.50Z" fill="#4616e4" filter="url(#bl05)" opacity="1.0"/>
</g>
<clipPath id="c383_276"><rect x="383.0" y="276.9" width="93.00" height="40.70"/></clipPath>
<g clip-path="url(#c383_276)">
<rect x="383.0" y="276.9" width="93.00" height="40.70" fill="#262626"/>
<ellipse cx="385.90" cy="310.00" rx="2.20" ry="3.80" fill="#5c5c5c" filter="url(#bl1)" opacity="1.0"/>
<ellipse cx="395.50" cy="310.00" rx="2.20" ry="3.80" fill="#5c5c5c" filter="url(#bl1)" opacity="1.0"/>
<line x1="390.70" y1="305.00" x2="391.00" y2="317.60" stroke="#b0b0b0" stroke-width="1.1" filter="url(#bl05)"/>
<ellipse cx="402.20" cy="310.00" rx="2.20" ry="3.80" fill="#5c5c5c" filter="url(#bl1)" opacity="1.0"/>
<ellipse cx="411.80" cy="310.00" rx="2.20" ry="3.80" fill="#5c5c5c" filter="url(#bl1)" opacity="1.0"/>
<line x1="407.00" y1="305.00" x2="407.30" y2="317.60" stroke="#b0b0b0" stroke-width="1.1" filter="url(#bl05)"/>
<ellipse cx="418.00" cy="310.00" rx="2.20" ry="3.80" fill="#5c5c5c" filter="url(#bl1)" opacity="1.0"/>
<ellipse cx="427.60" cy="310.00" rx="2.20" ry="3.80" fill="#5c5c5c" filter="url(#bl1)" opacity="1.0"/>
<line x1="422.80" y1="305.00" x2="423.10" y2="317.60" stroke="#b0b0b0" stroke-width="1.1" filter="url(#bl05)"/>
<ellipse cx="433.80" cy="310.00" rx="2.20" ry="3.80" fill="#5c5c5c" filter="url(#bl1)" opacity="1.0"/>
<ellipse cx="443.40" cy="310.00" rx="2.20" ry="3.80" fill="#5c5c5c" filter="url(#bl1)" opacity="1.0"/>
<line x1="438.60" y1="305.00" x2="438.90" y2="317.60" stroke="#b0b0b0" stroke-width="1.1" filter="url(#bl05)"/>
<ellipse cx="447.00" cy="310.00" rx="2.20" ry="3.80" fill="#5c5c5c" filter="url(#bl1)" opacity="1.0"/>
<ellipse cx="456.60" cy="310.00" rx="2.20" ry="3.80" fill="#5c5c5c" filter="url(#bl1)" opacity="1.0"/>
<line x1="451.80" y1="305.00" x2="452.10" y2="317.60" stroke="#b0b0b0" stroke-width="1.1" filter="url(#bl05)"/>
<ellipse cx="463.60" cy="310.00" rx="2.20" ry="3.80" fill="#5c5c5c" filter="url(#bl1)" opacity="1.0"/>
<ellipse cx="473.20" cy="310.00" rx="2.20" ry="3.80" fill="#5c5c5c" filter="url(#bl1)" opacity="1.0"/>
<line x1="468.40" y1="305.00" x2="468.70" y2="317.60" stroke="#b0b0b0" stroke-width="1.1" filter="url(#bl05)"/>
<path d="M390.70,277.70 C391.26,277.70 391.82,277.95 392.38,278.29 C392.94,278.63 393.50,279.27 394.06,279.76 C394.62,280.26 395.37,280.85 395.74,281.24 C396.11,281.63 396.30,281.78 396.30,282.12 C396.30,282.47 395.58,282.81 395.74,283.31 C395.90,283.80 396.95,284.39 397.28,285.07 C397.61,285.76 397.72,286.45 397.70,287.44 C397.68,288.42 397.26,289.75 397.14,290.97 C397.02,292.20 396.93,293.48 397.00,294.81 C397.07,296.14 397.40,297.66 397.56,298.94 C397.72,300.22 398.05,301.45 397.98,302.48 C397.91,303.51 397.77,304.42 397.14,305.13 C396.51,305.85 395.27,306.41 394.20,306.76 C393.13,307.10 391.87,307.20 390.70,307.20 C389.53,307.20 388.27,307.10 387.20,306.76 C386.13,306.41 384.89,305.85 384.26,305.13 C383.63,304.42 383.49,303.51 383.42,302.48 C383.35,301.45 383.68,300.22 383.84,298.94 C384.00,297.66 384.33,296.14 384.40,294.81 C384.47,293.48 384.38,292.20 384.26,290.97 C384.14,289.75 383.72,288.42 383.70,287.44 C383.68,286.45 383.79,285.76 384.12,285.07 C384.45,284.39 385.50,283.80 385.66,283.31 C385.82,282.81 385.10,282.47 385.10,282.12 C385.10,281.78 385.29,281.63 385.66,281.24 C386.03,280.85 386.78,280.26 387.34,279.76 C387.90,279.27 388.46,278.63 389.02,278.29 C389.58,277.95 390.14,277.70 390.70,277.70 Z" fill="#dcdcdc" filter="url(#bl07)"/>
<path d="M391.00,283.70 C391.35,283.70 391.69,283.86 392.04,284.09 C392.39,284.32 392.74,284.74 393.08,285.06 C393.43,285.39 393.89,285.78 394.12,286.04 C394.36,286.30 394.47,286.40 394.47,286.62 C394.47,286.85 394.02,287.08 394.12,287.40 C394.23,287.73 394.88,288.12 395.08,288.57 C395.28,289.03 395.35,289.49 395.34,290.13 C395.33,290.78 395.07,291.66 394.99,292.47 C394.92,293.29 394.86,294.13 394.91,295.01 C394.95,295.89 395.15,296.89 395.25,297.74 C395.35,298.59 395.56,299.40 395.51,300.08 C395.47,300.76 395.38,301.36 394.99,301.83 C394.60,302.31 393.84,302.68 393.17,302.91 C392.50,303.13 391.72,303.20 391.00,303.20 C390.28,303.20 389.50,303.13 388.83,302.91 C388.16,302.68 387.40,302.31 387.01,301.83 C386.62,301.36 386.53,300.76 386.49,300.08 C386.44,299.40 386.65,298.59 386.75,297.74 C386.85,296.89 387.05,295.89 387.09,295.01 C387.14,294.13 387.08,293.29 387.01,292.47 C386.93,291.66 386.67,290.78 386.66,290.13 C386.65,289.49 386.72,289.03 386.92,288.57 C387.12,288.12 387.77,287.73 387.88,287.40 C387.98,287.08 387.53,286.85 387.53,286.62 C387.53,286.40 387.64,286.30 387.88,286.04 C388.11,285.78 388.57,285.39 388.92,285.06 C389.26,284.74 389.61,284.32 389.96,284.09 C390.31,283.86 390.65,283.70 391.00,283.70 Z" fill="#f6f6f6" filter="url(#bl15)" opacity="0.9"/>
<ellipse cx="390.70" cy="281.53" rx="3.08" ry="1.60" fill="#8a8a8a" filter="url(#bl07)" opacity="0.55"/>
<path d="M407.00,277.70 C407.56,277.70 408.12,277.95 408.68,278.29 C409.24,278.63 409.80,279.27 410.36,279.76 C410.92,280.26 411.67,280.85 412.04,281.24 C412.41,281.63 412.60,281.78 412.60,282.12 C412.60,282.47 411.88,282.81 412.04,283.31 C412.20,283.80 413.25,284.39 413.58,285.07 C413.91,285.76 414.02,286.45 414.00,287.44 C413.98,288.42 413.56,289.75 413.44,290.97 C413.32,292.20 413.23,293.48 413.30,294.81 C413.37,296.14 413.70,297.66 413.86,298.94 C414.02,300.22 414.35,301.45 414.28,302.48 C414.21,303.51 414.07,304.42 413.44,305.13 C412.81,305.85 411.57,306.41 410.50,306.76 C409.43,307.10 408.17,307.20 407.00,307.20 C405.83,307.20 404.57,307.10 403.50,306.76 C402.43,306.41 401.19,305.85 400.56,305.13 C399.93,304.42 399.79,303.51 399.72,302.48 C399.65,301.45 399.98,300.22 400.14,298.94 C400.30,297.66 400.63,296.14 400.70,294.81 C400.77,293.48 400.68,292.20 400.56,290.97 C400.44,289.75 400.02,288.42 400.00,287.44 C399.98,286.45 400.09,285.76 400.42,285.07 C400.75,284.39 401.80,283.80 401.96,283.31 C402.12,282.81 401.40,282.47 401.40,282.12 C401.40,281.78 401.59,281.63 401.96,281.24 C402.33,280.85 403.08,280.26 403.64,279.76 C404.20,279.27 404.76,278.63 405.32,278.29 C405.88,277.95 406.44,277.70 407.00,277.70 Z" fill="#dcdcdc" filter="url(#bl07)"/>
<path d="M407.30,283.70 C407.65,283.70 407.99,283.86 408.34,284.09 C408.69,284.32 409.04,284.74 409.38,285.06 C409.73,285.39 410.19,285.78 410.42,286.04 C410.66,286.30 410.77,286.40 410.77,286.62 C410.77,286.85 410.32,287.08 410.42,287.40 C410.53,287.73 411.18,288.12 411.38,288.57 C411.58,289.03 411.65,289.49 411.64,290.13 C411.63,290.78 411.37,291.66 411.29,292.47 C411.22,293.29 411.16,294.13 411.21,295.01 C411.25,295.89 411.45,296.89 411.55,297.74 C411.65,298.59 411.86,299.40 411.81,300.08 C411.77,300.76 411.68,301.36 411.29,301.83 C410.90,302.31 410.14,302.68 409.47,302.91 C408.80,303.13 408.02,303.20 407.30,303.20 C406.58,303.20 405.80,303.13 405.13,302.91 C404.46,302.68 403.70,302.31 403.31,301.83 C402.92,301.36 402.83,300.76 402.79,300.08 C402.74,299.40 402.95,298.59 403.05,297.74 C403.15,296.89 403.35,295.89 403.39,295.01 C403.44,294.13 403.38,293.29 403.31,292.47 C403.23,291.66 402.97,290.78 402.96,290.13 C402.95,289.49 403.02,289.03 403.22,288.57 C403.42,288.12 404.07,287.73 404.18,287.40 C404.28,287.08 403.83,286.85 403.83,286.62 C403.83,286.40 403.94,286.30 404.18,286.04 C404.41,285.78 404.87,285.39 405.22,285.06 C405.56,284.74 405.91,284.32 406.26,284.09 C406.61,283.86 406.95,283.70 407.30,283.70 Z" fill="#f6f6f6" filter="url(#bl15)" opacity="0.9"/>
<ellipse cx="407.00" cy="281.53" rx="3.08" ry="1.60" fill="#8a8a8a" filter="url(#bl07)" opacity="0.55"/>
<path d="M422.80,277.70 C423.36,277.70 423.92,277.95 424.48,278.29 C425.04,278.63 425.60,279.27 426.16,279.76 C426.72,280.26 427.47,280.85 427.84,281.24 C428.21,281.63 428.40,281.78 428.40,282.12 C428.40,282.47 427.68,282.81 427.84,283.31 C428.00,283.80 429.05,284.39 429.38,285.07 C429.71,285.76 429.82,286.45 429.80,287.44 C429.78,288.42 429.36,289.75 429.24,290.97 C429.12,292.20 429.03,293.48 429.10,294.81 C429.17,296.14 429.50,297.66 429.66,298.94 C429.82,300.22 430.15,301.45 430.08,302.48 C430.01,303.51 429.87,304.42 429.24,305.13 C428.61,305.85 427.37,306.41 426.30,306.76 C425.23,307.10 423.97,307.20 422.80,307.20 C421.63,307.20 420.37,307.10 419.30,306.76 C418.23,306.41 416.99,305.85 416.36,305.13 C415.73,304.42 415.59,303.51 415.52,302.48 C415.45,301.45 415.78,300.22 415.94,298.94 C416.10,297.66 416.43,296.14 416.50,294.81 C416.57,293.48 416.48,292.20 416.36,290.97 C416.24,289.75 415.82,288.42 415.80,287.44 C415.78,286.45 415.89,285.76 416.22,285.07 C416.55,284.39 417.60,283.80 417.76,283.31 C417.92,282.81 417.20,282.47 417.20,282.12 C417.20,281.78 417.39,281.63 417.76,281.24 C418.13,280.85 418.88,280.26 419.44,279.76 C420.00,279.27 420.56,278.63 421.12,278.29 C421.68,277.95 422.24,277.70 422.80,277.70 Z" fill="#dcdcdc" filter="url(#bl07)"/>
<path d="M423.10,283.70 C423.45,283.70 423.79,283.86 424.14,284.09 C424.49,284.32 424.84,284.74 425.18,285.06 C425.53,285.39 425.99,285.78 426.22,286.04 C426.46,286.30 426.57,286.40 426.57,286.62 C426.57,286.85 426.12,287.08 426.22,287.40 C426.33,287.73 426.98,288.12 427.18,288.57 C427.38,289.03 427.45,289.49 427.44,290.13 C427.43,290.78 427.17,291.66 427.09,292.47 C427.02,293.29 426.96,294.13 427.01,295.01 C427.05,295.89 427.25,296.89 427.35,297.74 C427.45,298.59 427.66,299.40 427.61,300.08 C427.57,300.76 427.48,301.36 427.09,301.83 C426.70,302.31 425.94,302.68 425.27,302.91 C424.60,303.13 423.82,303.20 423.10,303.20 C422.38,303.20 421.60,303.13 420.93,302.91 C420.26,302.68 419.50,302.31 419.11,301.83 C418.72,301.36 418.63,300.76 418.59,300.08 C418.54,299.40 418.75,298.59 418.85,297.74 C418.95,296.89 419.15,295.89 419.19,295.01 C419.24,294.13 419.18,293.29 419.11,292.47 C419.03,291.66 418.77,290.78 418.76,290.13 C418.75,289.49 418.82,289.03 419.02,288.57 C419.22,288.12 419.87,287.73 419.98,287.40 C420.08,287.08 419.63,286.85 419.63,286.62 C419.63,286.40 419.74,286.30 419.98,286.04 C420.21,285.78 420.67,285.39 421.02,285.06 C421.36,284.74 421.71,284.32 422.06,284.09 C422.41,283.86 422.75,283.70 423.10,283.70 Z" fill="#f6f6f6" filter="url(#bl15)" opacity="0.9"/>
<ellipse cx="422.80" cy="281.53" rx="3.08" ry="1.60" fill="#8a8a8a" filter="url(#bl07)" opacity="0.55"/>
<path d="M438.60,277.70 C439.16,277.70 439.72,277.95 440.28,278.29 C440.84,278.63 441.40,279.27 441.96,279.76 C442.52,280.26 443.27,280.85 443.64,281.24 C444.01,281.63 444.20,281.78 444.20,282.12 C444.20,282.47 443.48,282.81 443.64,283.31 C443.80,283.80 444.85,284.39 445.18,285.07 C445.51,285.76 445.62,286.45 445.60,287.44 C445.58,288.42 445.16,289.75 445.04,290.97 C444.92,292.20 444.83,293.48 444.90,294.81 C444.97,296.14 445.30,297.66 445.46,298.94 C445.62,300.22 445.95,301.45 445.88,302.48 C445.81,303.51 445.67,304.42 445.04,305.13 C444.41,305.85 443.17,306.41 442.10,306.76 C441.03,307.10 439.77,307.20 438.60,307.20 C437.43,307.20 436.17,307.10 435.10,306.76 C434.03,306.41 432.79,305.85 432.16,305.13 C431.53,304.42 431.39,303.51 431.32,302.48 C431.25,301.45 431.58,300.22 431.74,298.94 C431.90,297.66 432.23,296.14 432.30,294.81 C432.37,293.48 432.28,292.20 432.16,290.97 C432.04,289.75 431.62,288.42 431.60,287.44 C431.58,286.45 431.69,285.76 432.02,285.07 C432.35,284.39 433.40,283.80 433.56,283.31 C433.72,282.81 433.00,282.47 433.00,282.12 C433.00,281.78 433.19,281.63 433.56,281.24 C433.93,280.85 434.68,280.26 435.24,279.76 C435.80,279.27 436.36,278.63 436.92,278.29 C437.48,277.95 438.04,277.70 438.60,277.70 Z" fill="#dcdcdc" filter="url(#bl07)"/>
<path d="M438.90,283.70 C439.25,283.70 439.59,283.86 439.94,284.09 C440.29,284.32 440.64,284.74 440.98,285.06 C441.33,285.39 441.79,285.78 442.02,286.04 C442.26,286.30 442.37,286.40 442.37,286.62 C442.37,286.85 441.92,287.08 442.02,287.40 C442.13,287.73 442.78,288.12 442.98,288.57 C443.18,289.03 443.25,289.49 443.24,290.13 C443.23,290.78 442.97,291.66 442.89,292.47 C442.82,293.29 442.76,294.13 442.81,295.01 C442.85,295.89 443.05,296.89 443.15,297.74 C443.25,298.59 443.46,299.40 443.41,300.08 C443.37,300.76 443.28,301.36 442.89,301.83 C442.50,302.31 441.74,302.68 441.07,302.91 C440.40,303.13 439.62,303.20 438.90,303.20 C438.18,303.20 437.40,303.13 436.73,302.91 C436.06,302.68 435.30,302.31 434.91,301.83 C434.52,301.36 434.43,300.76 434.39,300.08 C434.34,299.40 434.55,298.59 434.65,297.74 C434.75,296.89 434.95,295.89 434.99,295.01 C435.04,294.13 434.98,293.29 434.91,292.47 C434.83,291.66 434.57,290.78 434.56,290.13 C434.55,289.49 434.62,289.03 434.82,288.57 C435.02,288.12 435.67,287.73 435.78,287.40 C435.88,287.08 435.43,286.85 435.43,286.62 C435.43,286.40 435.54,286.30 435.78,286.04 C436.01,285.78 436.47,285.39 436.82,285.06 C437.16,284.74 437.51,284.32 437.86,284.09 C438.21,283.86 438.55,283.70 438.90,283.70 Z" fill="#f6f6f6" filter="url(#bl15)" opacity="0.9"/>
<ellipse cx="438.60" cy="281.53" rx="3.08" ry="1.60" fill="#8a8a8a" filter="url(#bl07)" opacity="0.55"/>
<path d="M451.80,277.70 C452.36,277.70 452.92,277.95 453.48,278.29 C454.04,278.63 454.60,279.27 455.16,279.76 C455.72,280.26 456.47,280.85 456.84,281.24 C457.21,281.63 457.40,281.78 457.40,282.12 C457.40,282.47 456.68,282.81 456.84,283.31 C457.00,283.80 458.05,284.39 458.38,285.07 C458.71,285.76 458.82,286.45 458.80,287.44 C458.78,288.42 458.36,289.75 458.24,290.97 C458.12,292.20 458.03,293.48 458.10,294.81 C458.17,296.14 458.50,297.66 458.66,298.94 C458.82,300.22 459.15,301.45 459.08,302.48 C459.01,303.51 458.87,304.42 458.24,305.13 C457.61,305.85 456.37,306.41 455.30,306.76 C454.23,307.10 452.97,307.20 451.80,307.20 C450.63,307.20 449.37,307.10 448.30,306.76 C447.23,306.41 445.99,305.85 445.36,305.13 C444.73,304.42 444.59,303.51 444.52,302.48 C444.45,301.45 444.78,300.22 444.94,298.94 C445.10,297.66 445.43,296.14 445.50,294.81 C445.57,293.48 445.48,292.20 445.36,290.97 C445.24,289.75 444.82,288.42 444.80,287.44 C444.78,286.45 444.89,285.76 445.22,285.07 C445.55,284.39 446.60,283.80 446.76,283.31 C446.92,282.81 446.20,282.47 446.20,282.12 C446.20,281.78 446.39,281.63 446.76,281.24 C447.13,280.85 447.88,280.26 448.44,279.76 C449.00,279.27 449.56,278.63 450.12,278.29 C450.68,277.95 451.24,277.70 451.80,277.70 Z" fill="#dcdcdc" filter="url(#bl07)"/>
<path d="M452.10,283.70 C452.45,283.70 452.79,283.86 453.14,284.09 C453.49,284.32 453.84,284.74 454.18,285.06 C454.53,285.39 454.99,285.78 455.22,286.04 C455.46,286.30 455.57,286.40 455.57,286.62 C455.57,286.85 455.12,287.08 455.22,287.40 C455.33,287.73 455.98,288.12 456.18,288.57 C456.38,289.03 456.45,289.49 456.44,290.13 C456.43,290.78 456.17,291.66 456.09,292.47 C456.02,293.29 455.96,294.13 456.01,295.01 C456.05,295.89 456.25,296.89 456.35,297.74 C456.45,298.59 456.66,299.40 456.61,300.08 C456.57,300.76 456.48,301.36 456.09,301.83 C455.70,302.31 454.94,302.68 454.27,302.91 C453.60,303.13 452.82,303.20 452.10,303.20 C451.38,303.20 450.60,303.13 449.93,302.91 C449.26,302.68 448.50,302.31 448.11,301.83 C447.72,301.36 447.63,300.76 447.59,300.08 C447.54,299.40 447.75,298.59 447.85,297.74 C447.95,296.89 448.15,295.89 448.19,295.01 C448.24,294.13 448.18,293.29 448.11,292.47 C448.03,291.66 447.77,290.78 447.76,290.13 C447.75,289.49 447.82,289.03 448.02,288.57 C448.22,288.12 448.87,287.73 448.98,287.40 C449.08,287.08 448.63,286.85 448.63,286.62 C448.63,286.40 448.74,286.30 448.98,286.04 C449.21,285.78 449.67,285.39 450.02,285.06 C450.36,284.74 450.71,284.32 451.06,284.09 C451.41,283.86 451.75,283.70 452.10,283.70 Z" fill="#f6f6f6" filter="url(#bl15)" opacity="0.9"/>
<ellipse cx="451.80" cy="281.53" rx="3.08" ry="1.60" fill="#8a8a8a" filter="url(#bl07)" opacity="0.55"/>
<path d="M468.40,277.70 C468.96,277.70 469.52,277.95 470.08,278.29 C470.64,278.63 471.20,279.27 471.76,279.76 C472.32,280.26 473.07,280.85 473.44,281.24 C473.81,281.63 474.00,281.78 474.00,282.12 C474.00,282.47 473.28,282.81 473.44,283.31 C473.60,283.80 474.65,284.39 474.98,285.07 C475.31,285.76 475.42,286.45 475.40,287.44 C475.38,288.42 474.96,289.75 474.84,290.97 C474.72,292.20 474.63,293.48 474.70,294.81 C474.77,296.14 475.10,297.66 475.26,298.94 C475.42,300.22 475.75,301.45 475.68,302.48 C475.61,303.51 475.47,304.42 474.84,305.13 C474.21,305.85 472.97,306.41 471.90,306.76 C470.83,307.10 469.57,307.20 468.40,307.20 C467.23,307.20 465.97,307.10 464.90,306.76 C463.83,306.41 462.59,305.85 461.96,305.13 C461.33,304.42 461.19,303.51 461.12,302.48 C461.05,301.45 461.38,300.22 461.54,298.94 C461.70,297.66 462.03,296.14 462.10,294.81 C462.17,293.48 462.08,292.20 461.96,290.97 C461.84,289.75 461.42,288.42 461.40,287.44 C461.38,286.45 461.49,285.76 461.82,285.07 C462.15,284.39 463.20,283.80 463.36,283.31 C463.52,282.81 462.80,282.47 462.80,282.12 C462.80,281.78 462.99,281.63 463.36,281.24 C463.73,280.85 464.48,280.26 465.04,279.76 C465.60,279.27 466.16,278.63 466.72,278.29 C467.28,277.95 467.84,277.70 468.40,277.70 Z" fill="#dcdcdc" filter="url(#bl07)"/>
<path d="M468.70,283.70 C469.05,283.70 469.39,283.86 469.74,284.09 C470.09,284.32 470.44,284.74 470.78,285.06 C471.13,285.39 471.59,285.78 471.82,286.04 C472.06,286.30 472.17,286.40 472.17,286.62 C472.17,286.85 471.72,287.08 471.82,287.40 C471.93,287.73 472.58,288.12 472.78,288.57 C472.98,289.03 473.05,289.49 473.04,290.13 C473.03,290.78 472.77,291.66 472.69,292.47 C472.62,293.29 472.56,294.13 472.61,295.01 C472.65,295.89 472.85,296.89 472.95,297.74 C473.05,298.59 473.26,299.40 473.21,300.08 C473.17,300.76 473.08,301.36 472.69,301.83 C472.30,302.31 471.54,302.68 470.87,302.91 C470.20,303.13 469.42,303.20 468.70,303.20 C467.98,303.20 467.20,303.13 466.53,302.91 C465.86,302.68 465.10,302.31 464.71,301.83 C464.32,301.36 464.23,300.76 464.19,300.08 C464.14,299.40 464.35,298.59 464.45,297.74 C464.55,296.89 464.75,295.89 464.79,295.01 C464.84,294.13 464.78,293.29 464.71,292.47 C464.63,291.66 464.37,290.78 464.36,290.13 C464.35,289.49 464.42,289.03 464.62,288.57 C464.82,288.12 465.47,287.73 465.58,287.40 C465.68,287.08 465.23,286.85 465.23,286.62 C465.23,286.40 465.34,286.30 465.58,286.04 C465.81,285.78 466.27,285.39 466.62,285.06 C466.96,284.74 467.31,284.32 467.66,284.09 C468.01,283.86 468.35,283.70 468.70,283.70 Z" fill="#f6f6f6" filter="url(#bl15)" opacity="0.9"/>
<ellipse cx="468.40" cy="281.53" rx="3.08" ry="1.60" fill="#8a8a8a" filter="url(#bl07)" opacity="0.55"/>
<line x1="390.70" y1="276.90" x2="390.70" y2="280.90" stroke="#b8b8b8" stroke-width="1.0" filter="url(#bl05)"/>
<line x1="407.00" y1="276.90" x2="407.00" y2="280.90" stroke="#b8b8b8" stroke-width="1.0" filter="url(#bl05)"/>
<line x1="422.80" y1="276.90" x2="422.80" y2="280.90" stroke="#b8b8b8" stroke-width="1.0" filter="url(#bl05)"/>
<line x1="438.60" y1="276.90" x2="438.60" y2="280.90" stroke="#b8b8b8" stroke-width="1.0" filter="url(#bl05)"/>
<line x1="451.80" y1="276.90" x2="451.80" y2="280.90" stroke="#b8b8b8" stroke-width="1.0" filter="url(#bl05)"/>
<line x1="468.40" y1="276.90" x2="468.40" y2="280.90" stroke="#b8b8b8" stroke-width="1.0" filter="url(#bl05)"/>
<ellipse cx="391.60" cy="293.40" rx="3.60" ry="5.00" fill="#ece4ff" filter="url(#bl1)" opacity="0.95"/>
<ellipse cx="389.20" cy="299.50" rx="5.20" ry="4.20" fill="#ece4ff" filter="url(#bl1)" opacity="0.95"/>
<ellipse cx="391.60" cy="293.40" rx="2.70" ry="4.10" fill="#9474f2" filter="url(#bl07)" opacity="0.9"/>
<ellipse cx="389.20" cy="299.50" rx="4.30" ry="3.30" fill="#9474f2" filter="url(#bl07)" opacity="0.9"/>
<ellipse cx="391.60" cy="293.40" rx="2.20" ry="3.60" fill="#4616e4" filter="url(#bl05)" opacity="1.0"/>
<ellipse cx="389.20" cy="299.50" rx="3.80" ry="2.80" fill="#4616e4" filter="url(#bl05)" opacity="1.0"/>
<ellipse cx="406.00" cy="298.40" rx="4.00" ry="5.80" fill="#ece4ff" filter="url(#bl1)" opacity="0.95"/>
<ellipse cx="407.80" cy="294.20" rx="3.60" ry="3.60" fill="#ece4ff" filter="url(#bl1)" opacity="0.95"/>
<ellipse cx="406.00" cy="298.40" rx="3.10" ry="4.90" fill="#9474f2" filter="url(#bl07)" opacity="0.9"/>
<ellipse cx="407.80" cy="294.20" rx="2.70" ry="2.70" fill="#9474f2" filter="url(#bl07)" opacity="0.9"/>
<ellipse cx="406.00" cy="298.40" rx="2.60" ry="4.40" fill="#4616e4" filter="url(#bl05)" opacity="1.0"/>
<ellipse cx="407.80" cy="294.20" rx="2.20" ry="2.20" fill="#4616e4" filter="url(#bl05)" opacity="1.0"/>
<ellipse cx="423.30" cy="300.00" rx="6.40" ry="7.40" fill="#ece4ff" filter="url(#bl1)" opacity="0.95"/>
<ellipse cx="423.30" cy="300.00" rx="5.50" ry="6.50" fill="#9474f2" filter="url(#bl07)" opacity="0.9"/>
<ellipse cx="423.30" cy="300.00" rx="5.00" ry="6.00" fill="#4616e4" filter="url(#bl05)" opacity="1.0"/>
<ellipse cx="439.00" cy="297.80" rx="5.20" ry="8.80" fill="#ece4ff" filter="url(#bl1)" opacity="0.95"/>
<ellipse cx="439.00" cy="297.80" rx="4.30" ry="7.90" fill="#9474f2" filter="url(#bl07)" opacity="0.9"/>
<ellipse cx="439.00" cy="297.80" rx="3.80" ry="7.40" fill="#4616e4" filter="url(#bl05)" opacity="1.0"/>
<ellipse cx="453.00" cy="283.20" rx="3.40" ry="3.20" fill="#ece4ff" filter="url(#bl1)" opacity="0.95"/>
<ellipse cx="450.60" cy="294.00" rx="4.60" ry="4.60" fill="#ece4ff" filter="url(#bl1)" opacity="0.95"/>
<ellipse cx="452.60" cy="301.40" rx="4.60" ry="4.20" fill="#ece4ff" filter="url(#bl1)" opacity="0.95"/>
<ellipse cx="453.00" cy="283.20" rx="2.50" ry="2.30" fill="#9474f2" filter="url(#bl07)" opacity="0.9"/>
<ellipse cx="450.60" cy="294.00" rx="3.70" ry="3.70" fill="#9474f2" filter="url(#bl07)" opacity="0.9"/>
<ellipse cx="452.60" cy="301.40" rx="3.70" ry="3.30" fill="#9474f2" filter="url(#bl07)" opacity="0.9"/>
<ellipse cx="453.00" cy="283.20" rx="2.00" ry="1.80" fill="#4616e4" filter="url(#bl05)" opacity="1.0"/>
<ellipse cx="450.60" cy="294.00" rx="3.20" ry="3.20" fill="#4616e4" filter="url(#bl05)" opacity="1.0"/>
<ellipse cx="452.60" cy="301.40" rx="3.20" ry="2.80" fill="#4616e4" filter="url(#bl05)" opacity="1.0"/>
<ellipse cx="469.00" cy="298.80" rx="5.80" ry="8.00" fill="#ece4ff" filter="url(#bl1)" opacity="0.95"/>
<ellipse cx="469.00" cy="298.80" rx="4.90" ry="7.10" fill="#9474f2" filter="url(#bl07)" opacity="0.9"/>
<ellipse cx="469.00" cy="298.80" rx="4.40" ry="6.60" fill="#4616e4" filter="url(#bl05)" opacity="1.0"/>
</g>
<clipPath id="c288_321"><rect x="288.2" y="321.7" width="84.00" height="40.80"/></clipPath>
<g clip-path="url(#c288_321)">
<rect x="288.2" y="321.7" width="84.00" height="40.80" fill="#262626"/>
<ellipse cx="292.40" cy="356.00" rx="2.20" ry="3.80" fill="#5c5c5c" filter="url(#bl1)" opacity="1.0"/>
<ellipse cx="302.00" cy="356.00" rx="2.20" ry="3.80" fill="#5c5c5c" filter="url(#bl1)" opacity="1.0"/>
<line x1="297.20" y1="351.00" x2="297.50" y2="362.50" stroke="#b0b0b0" stroke-width="1.1" filter="url(#bl05)"/>
<ellipse cx="306.30" cy="356.00" rx="2.20" ry="3.80" fill="#5c5c5c" filter="url(#bl1)" opacity="1.0"/>
<ellipse cx="315.90" cy="356.00" rx="2.20" ry="3.80" fill="#5c5c5c" filter="url(#bl1)" opacity="1.0"/>
<line x1="311.10" y1="351.00" x2="311.40" y2="362.50" stroke="#b0b0b0" stroke-width="1.1" filter="url(#bl05)"/>
<ellipse cx="324.50" cy="356.00" rx="2.20" ry="3.80" fill="#5c5c5c" filter="url(#bl1)" opacity="1.0"/>
<ellipse cx="334.10" cy="356.00" rx="2.20" ry="3.80" fill="#5c5c5c" filter="url(#bl1)" opacity="1.0"/>
<line x1="329.30" y1="351.00" x2="329.60" y2="362.50" stroke="#b0b0b0" stroke-width="1.1" filter="url(#bl05)"/>
<ellipse cx="340.90" cy="356.00" rx="2.20" ry="3.80" fill="#5c5c5c" filter="url(#bl1)" opacity="1.0"/>
<ellipse cx="350.50" cy="356.00" rx="2.20" ry="3.80" fill="#5c5c5c" filter="url(#bl1)" opacity="1.0"/>
<line x1="345.70" y1="351.00" x2="346.00" y2="362.50" stroke="#b0b0b0" stroke-width="1.1" filter="url(#bl05)"/>
<ellipse cx="359.90" cy="356.00" rx="2.20" ry="3.80" fill="#5c5c5c" filter="url(#bl1)" opacity="1.0"/>
<ellipse cx="369.50" cy="356.00" rx="2.20" ry="3.80" fill="#5c5c5c" filter="url(#bl1)" opacity="1.0"/>
<line x1="364.70" y1="351.00" x2="365.00" y2="362.50" stroke="#b0b0b0" stroke-width="1.1" filter="url(#bl05)"/>
<line x1="297.20" y1="321.70" x2="297.20" y2="326.70" stroke="#b8b8b8" stroke-width="1.0" filter="url(#bl05)"/>
<line x1="311.10" y1="321.70" x2="311.10" y2="326.70" stroke="#b8b8b8" stroke-width="1.0" filter="url(#bl05)"/>
<line x1="329.30" y1="321.70" x2="329.30" y2="326.70" stroke="#b8b8b8" stroke-width="1.0" filter="url(#bl05)"/>
<line x1="345.70" y1="321.70" x2="345.70" y2="326.70" stroke="#b8b8b8" stroke-width="1.0" filter="url(#bl05)"/>
<line x1="364.70" y1="321.70" x2="364.70" y2="326.70" stroke="#b8b8b8" stroke-width="1.0" filter="url(#bl05)"/>
<path d="M297.20,323.00 C300.80,323.00 301.70,324.84 301.70,327.30 C301.70,329.75 304.65,330.37 304.65,334.05 C304.65,338.96 305.80,342.03 305.80,348.17 C305.80,353.70 300.64,353.70 297.20,353.70 C293.76,353.70 288.60,353.70 288.60,348.17 C288.60,342.03 289.75,338.96 289.75,334.05 C289.75,330.37 292.70,329.75 292.70,327.30 C292.70,324.84 293.60,323.00 297.20,323.00Z" fill="#bcaeff" filter="url(#bl07)" opacity="0.9"/>
<path d="M297.20,323.50 C300.32,323.50 301.10,325.24 301.10,327.56 C301.10,329.88 303.98,330.46 303.98,333.94 C303.98,338.58 305.10,341.48 305.10,347.28 C305.10,352.50 300.36,352.50 297.20,352.50 C294.04,352.50 289.30,352.50 289.30,347.28 C289.30,341.48 290.42,338.58 290.42,333.94 C290.42,330.46 293.30,329.88 293.30,327.56 C293.30,325.24 294.08,323.50 297.20,323.50Z" fill="#7a60ff" filter="url(#bl07)" opacity="0.9"/>
<path d="M297.20,323.50 C300.00,323.50 300.70,325.24 300.70,327.56 C300.70,329.88 303.58,330.46 303.58,333.94 C303.58,338.58 304.70,341.48 304.70,347.28 C304.70,352.50 300.20,352.50 297.20,352.50 C294.20,352.50 289.70,352.50 289.70,347.28 C289.70,341.48 290.82,338.58 290.82,333.94 C290.82,330.46 293.70,329.88 293.70,327.56 C293.70,325.24 294.40,323.50 297.20,323.50Z" fill="#3c14f4" filter="url(#bl05)" opacity="1.0"/>
<path d="M311.10,323.00 C314.70,323.00 315.60,324.84 315.60,327.30 C315.60,329.75 318.55,330.37 318.55,334.05 C318.55,338.96 319.70,342.03 319.70,348.17 C319.70,353.70 314.54,353.70 311.10,353.70 C307.66,353.70 302.50,353.70 302.50,348.17 C302.50,342.03 303.65,338.96 303.65,334.05 C303.65,330.37 306.60,329.75 306.60,327.30 C306.60,324.84 307.50,323.00 311.10,323.00Z" fill="#bcaeff" filter="url(#bl07)" opacity="0.9"/>
<path d="M311.10,323.50 C314.22,323.50 315.00,325.24 315.00,327.56 C315.00,329.88 317.88,330.46 317.88,333.94 C317.88,338.58 319.00,341.48 319.00,347.28 C319.00,352.50 314.26,352.50 311.10,352.50 C307.94,352.50 303.20,352.50 303.20,347.28 C303.20,341.48 304.32,338.58 304.32,333.94 C304.32,330.46 307.20,329.88 307.20,327.56 C307.20,325.24 307.98,323.50 311.10,323.50Z" fill="#7a60ff" filter="url(#bl07)" opacity="0.9"/>
<path d="M311.10,323.50 C313.90,323.50 314.60,325.24 314.60,327.56 C314.60,329.88 317.48,330.46 317.48,333.94 C317.48,338.58 318.60,341.48 318.60,347.28 C318.60,352.50 314.10,352.50 311.10,352.50 C308.10,352.50 303.60,352.50 303.60,347.28 C303.60,341.48 304.72,338.58 304.72,333.94 C304.72,330.46 307.60,329.88 307.60,327.56 C307.60,325.24 308.30,323.50 311.10,323.50Z" fill="#3c14f4" filter="url(#bl05)" opacity="1.0"/>
<path d="M329.30,323.00 C332.90,323.00 333.80,324.84 333.80,327.30 C333.80,329.75 336.75,330.37 336.75,334.05 C336.75,338.96 337.90,342.03 337.90,348.17 C337.90,353.70 332.74,353.70 329.30,353.70 C325.86,353.70 320.70,353.70 320.70,348.17 C320.70,342.03 321.85,338.96 321.85,334.05 C321.85,330.37 324.80,329.75 324.80,327.30 C324.80,324.84 325.70,323.00 329.30,323.00Z" fill="#bcaeff" filter="url(#bl07)" opacity="0.9"/>
<path d="M329.30,323.50 C332.42,323.50 333.20,325.24 333.20,327.56 C333.20,329.88 336.08,330.46 336.08,333.94 C336.08,338.58 337.20,341.48 337.20,347.28 C337.20,352.50 332.46,352.50 329.30,352.50 C326.14,352.50 321.40,352.50 321.40,347.28 C321.40,341.48 322.52,338.58 322.52,333.94 C322.52,330.46 325.40,329.88 325.40,327.56 C325.40,325.24 326.18,323.50 329.30,323.50Z" fill="#7a60ff" filter="url(#bl07)" opacity="0.9"/>
<path d="M329.30,323.50 C332.10,323.50 332.80,325.24 332.80,327.56 C332.80,329.88 335.68,330.46 335.68,333.94 C335.68,338.58 336.80,341.48 336.80,347.28 C336.80,352.50 332.30,352.50 329.30,352.50 C326.30,352.50 321.80,352.50 321.80,347.28 C321.80,341.48 322.92,338.58 322.92,333.94 C322.92,330.46 325.80,329.88 325.80,327.56 C325.80,325.24 326.50,323.50 329.30,323.50Z" fill="#3c14f4" filter="url(#bl05)" opacity="1.0"/>
<path d="M345.70,323.00 C349.30,323.00 350.20,324.84 350.20,327.30 C350.20,329.75 353.15,330.37 353.15,334.05 C353.15,338.96 354.30,342.03 354.30,348.17 C354.30,353.70 349.14,353.70 345.70,353.70 C342.26,353.70 337.10,353.70 337.10,348.17 C337.10,342.03 338.25,338.96 338.25,334.05 C338.25,330.37 341.20,329.75 341.20,327.30 C341.20,324.84 342.10,323.00 345.70,323.00Z" fill="#bcaeff" filter="url(#bl07)" opacity="0.9"/>
<path d="M345.70,323.50 C348.82,323.50 349.60,325.24 349.60,327.56 C349.60,329.88 352.48,330.46 352.48,333.94 C352.48,338.58 353.60,341.48 353.60,347.28 C353.60,352.50 348.86,352.50 345.70,352.50 C342.54,352.50 337.80,352.50 337.80,347.28 C337.80,341.48 338.92,338.58 338.92,333.94 C338.92,330.46 341.80,329.88 341.80,327.56 C341.80,325.24 342.58,323.50 345.70,323.50Z" fill="#7a60ff" filter="url(#bl07)" opacity="0.9"/>
<path d="M345.70,323.50 C348.50,323.50 349.20,325.24 349.20,327.56 C349.20,329.88 352.08,330.46 352.08,333.94 C352.08,338.58 353.20,341.48 353.20,347.28 C353.20,352.50 348.70,352.50 345.70,352.50 C342.70,352.50 338.20,352.50 338.20,347.28 C338.20,341.48 339.32,338.58 339.32,333.94 C339.32,330.46 342.20,329.88 342.20,327.56 C342.20,325.24 342.90,323.50 345.70,323.50Z" fill="#3c14f4" filter="url(#bl05)" opacity="1.0"/>
<path d="M364.70,323.00 C368.30,323.00 369.20,324.84 369.20,327.30 C369.20,329.75 372.15,330.37 372.15,334.05 C372.15,338.96 373.30,342.03 373.30,348.17 C373.30,353.70 368.14,353.70 364.70,353.70 C361.26,353.70 356.10,353.70 356.10,348.17 C356.10,342.03 357.25,338.96 357.25,334.05 C357.25,330.37 360.20,329.75 360.20,327.30 C360.20,324.84 361.10,323.00 364.70,323.00Z" fill="#bcaeff" filter="url(#bl07)" opacity="0.9"/>
<path d="M364.70,323.50 C367.82,323.50 368.60,325.24 368.60,327.56 C368.60,329.88 371.48,330.46 371.48,333.94 C371.48,338.58 372.60,341.48 372.60,347.28 C372.60,352.50 367.86,352.50 364.70,352.50 C361.54,352.50 356.80,352.50 356.80,347.28 C356.80,341.48 357.92,338.58 357.92,333.94 C357.92,330.46 360.80,329.88 360.80,327.56 C360.80,325.24 361.58,323.50 364.70,323.50Z" fill="#7a60ff" filter="url(#bl07)" opacity="0.9"/>
<path d="M364.70,323.50 C367.50,323.50 368.20,325.24 368.20,327.56 C368.20,329.88 371.08,330.46 371.08,333.94 C371.08,338.58 372.20,341.48 372.20,347.28 C372.20,352.50 367.70,352.50 364.70,352.50 C361.70,352.50 357.20,352.50 357.20,347.28 C357.20,341.48 358.32,338.58 358.32,333.94 C358.32,330.46 361.20,329.88 361.20,327.56 C361.20,325.24 361.90,323.50 364.70,323.50Z" fill="#3c14f4" filter="url(#bl05)" opacity="1.0"/>
<ellipse cx="300.50" cy="336.00" rx="1.40" ry="2.00" fill="#e6d4ff" filter="url(#bl07)" opacity="0.92"/>
<ellipse cx="313.50" cy="331.00" rx="1.50" ry="1.30" fill="#e6d4ff" filter="url(#bl07)" opacity="0.92"/>
<ellipse cx="316.50" cy="339.00" rx="1.20" ry="2.80" fill="#e6d4ff" filter="url(#bl07)" opacity="0.92"/>
<ellipse cx="333.00" cy="334.00" rx="1.60" ry="2.20" fill="#e6d4ff" filter="url(#bl07)" opacity="0.92"/>
<ellipse cx="340.00" cy="337.00" rx="1.00" ry="1.00" fill="#e6d4ff" filter="url(#bl07)" opacity="0.92"/>
<ellipse cx="349.00" cy="333.00" rx="1.40" ry="1.20" fill="#e6d4ff" filter="url(#bl07)" opacity="0.92"/>
<ellipse cx="367.50" cy="334.00" rx="1.20" ry="2.00" fill="#e6d4ff" filter="url(#bl07)" opacity="0.92"/>
<ellipse cx="368.50" cy="340.00" rx="1.00" ry="2.50" fill="#e6d4ff" filter="url(#bl07)" opacity="0.92"/>
<ellipse cx="304.50" cy="341.00" rx="1.00" ry="1.00" fill="#e6d4ff" filter="url(#bl07)" opacity="0.92"/>
<ellipse cx="325.00" cy="340.00" rx="1.00" ry="1.20" fill="#e6d4ff" filter="url(#bl07)" opacity="0.92"/>
<ellipse cx="292.50" cy="332.00" rx="0.90" ry="1.20" fill="#e6d4ff" filter="url(#bl07)" opacity="0.92"/>
<ellipse cx="298.20" cy="347.60" rx="1.80" ry="3.20" fill="#38d8f0" filter="url(#bl07)" opacity="1.0"/>
<ellipse cx="308.50" cy="345.80" rx="1.80" ry="1.80" fill="#38d8f0" filter="url(#bl07)" opacity="1.0"/>
<ellipse cx="330.20" cy="344.20" rx="2.20" ry="1.60" fill="#38d8f0" filter="url(#bl07)" opacity="1.0"/>
<ellipse cx="347.00" cy="340.60" rx="1.60" ry="1.60" fill="#38d8f0" filter="url(#bl07)" opacity="1.0"/>
<ellipse cx="347.00" cy="347.00" rx="1.60" ry="1.60" fill="#38d8f0" filter="url(#bl07)" opacity="1.0"/>
<ellipse cx="364.50" cy="347.00" rx="1.80" ry="1.60" fill="#38d8f0" filter="url(#bl07)" opacity="1.0"/>
</g>
<clipPath id="c383_321"><rect x="383.0" y="321.7" width="93.00" height="40.80"/></clipPath>
<g clip-path="url(#c383_321)">
<rect x="383.0" y="321.7" width="93.00" height="40.80" fill="#262626"/>
<ellipse cx="385.80" cy="356.00" rx="2.20" ry="3.80" fill="#5c5c5c" filter="url(#bl1)" opacity="1.0"/>
<ellipse cx="395.40" cy="356.00" rx="2.20" ry="3.80" fill="#5c5c5c" filter="url(#bl1)" opacity="1.0"/>
<line x1="390.60" y1="351.00" x2="390.90" y2="362.50" stroke="#b0b0b0" stroke-width="1.1" filter="url(#bl05)"/>
<ellipse cx="402.10" cy="356.00" rx="2.20" ry="3.80" fill="#5c5c5c" filter="url(#bl1)" opacity="1.0"/>
<ellipse cx="411.70" cy="356.00" rx="2.20" ry="3.80" fill="#5c5c5c" filter="url(#bl1)" opacity="1.0"/>
<line x1="406.90" y1="351.00" x2="407.20" y2="362.50" stroke="#b0b0b0" stroke-width="1.1" filter="url(#bl05)"/>
<ellipse cx="418.50" cy="356.00" rx="2.20" ry="3.80" fill="#5c5c5c" filter="url(#bl1)" opacity="1.0"/>
<ellipse cx="428.10" cy="356.00" rx="2.20" ry="3.80" fill="#5c5c5c" filter="url(#bl1)" opacity="1.0"/>
<line x1="423.30" y1="351.00" x2="423.60" y2="362.50" stroke="#b0b0b0" stroke-width="1.1" filter="url(#bl05)"/>
<ellipse cx="432.90" cy="356.00" rx="2.20" ry="3.80" fill="#5c5c5c" filter="url(#bl1)" opacity="1.0"/>
<ellipse cx="442.50" cy="356.00" rx="2.20" ry="3.80" fill="#5c5c5c" filter="url(#bl1)" opacity="1.0"/>
<line x1="437.70" y1="351.00" x2="438.00" y2="362.50" stroke="#b0b0b0" stroke-width="1.1" filter="url(#bl05)"/>
<ellipse cx="448.30" cy="356.00" rx="2.20" ry="3.80" fill="#5c5c5c" filter="url(#bl1)" opacity="1.0"/>
<ellipse cx="457.90" cy="356.00" rx="2.20" ry="3.80" fill="#5c5c5c" filter="url(#bl1)" opacity="1.0"/>
<line x1="453.10" y1="351.00" x2="453.40" y2="362.50" stroke="#b0b0b0" stroke-width="1.1" filter="url(#bl05)"/>
<ellipse cx="463.70" cy="356.00" rx="2.20" ry="3.80" fill="#5c5c5c" filter="url(#bl1)" opacity="1.0"/>
<ellipse cx="473.30" cy="356.00" rx="2.20" ry="3.80" fill="#5c5c5c" filter="url(#bl1)" opacity="1.0"/>
<line x1="468.50" y1="351.00" x2="468.80" y2="362.50" stroke="#b0b0b0" stroke-width="1.1" filter="url(#bl05)"/>
<line x1="390.60" y1="321.70" x2="390.60" y2="326.70" stroke="#b8b8b8" stroke-width="1.0" filter="url(#bl05)"/>
<line x1="406.90" y1="321.70" x2="406.90" y2="326.70" stroke="#b8b8b8" stroke-width="1.0" filter="url(#bl05)"/>
<line x1="423.30" y1="321.70" x2="423.30" y2="326.70" stroke="#b8b8b8" stroke-width="1.0" filter="url(#bl05)"/>
<line x1="437.70" y1="321.70" x2="437.70" y2="326.70" stroke="#b8b8b8" stroke-width="1.0" filter="url(#bl05)"/>
<line x1="453.10" y1="321.70" x2="453.10" y2="326.70" stroke="#b8b8b8" stroke-width="1.0" filter="url(#bl05)"/>
<line x1="468.50" y1="321.70" x2="468.50" y2="326.70" stroke="#b8b8b8" stroke-width="1.0" filter="url(#bl05)"/>
<path d="M423.30,323.00 C423.80,323.00 424.30,323.24 424.80,323.57 C425.30,323.90 425.80,324.52 426.30,325.00 C426.80,325.47 427.47,326.04 427.80,326.42 C428.13,326.80 428.30,326.94 428.30,327.27 C428.30,327.61 427.65,327.94 427.80,328.42 C427.95,328.89 428.88,329.46 429.18,330.12 C429.47,330.79 429.57,331.45 429.55,332.40 C429.53,333.35 429.15,334.64 429.05,335.82 C428.95,337.01 428.86,338.25 428.93,339.53 C428.99,340.81 429.28,342.28 429.43,343.52 C429.57,344.75 429.86,345.94 429.80,346.94 C429.74,347.94 429.61,348.82 429.05,349.50 C428.49,350.19 427.38,350.74 426.43,351.07 C425.47,351.40 424.34,351.50 423.30,351.50 C422.26,351.50 421.13,351.40 420.18,351.07 C419.22,350.74 418.11,350.19 417.55,349.50 C416.99,348.82 416.86,347.94 416.80,346.94 C416.74,345.94 417.03,344.75 417.18,343.52 C417.32,342.28 417.61,340.81 417.68,339.53 C417.74,338.25 417.65,337.01 417.55,335.82 C417.45,334.64 417.07,333.35 417.05,332.40 C417.03,331.45 417.13,330.79 417.43,330.12 C417.72,329.46 418.65,328.89 418.80,328.42 C418.95,327.94 418.30,327.61 418.30,327.27 C418.30,326.94 418.47,326.80 418.80,326.42 C419.13,326.04 419.80,325.47 420.30,325.00 C420.80,324.52 421.30,323.90 421.80,323.57 C422.30,323.24 422.80,323.00 423.30,323.00 Z" fill="#dedede" filter="url(#bl07)"/>
<path d="M423.60,329.00 C423.91,329.00 424.22,329.15 424.53,329.37 C424.84,329.59 425.15,329.99 425.46,330.30 C425.77,330.60 426.18,330.97 426.39,331.22 C426.60,331.47 426.70,331.56 426.70,331.77 C426.70,331.99 426.30,332.21 426.39,332.51 C426.48,332.82 427.06,333.19 427.24,333.62 C427.42,334.06 427.49,334.49 427.48,335.11 C427.46,335.72 427.23,336.55 427.17,337.32 C427.10,338.10 427.05,338.90 427.09,339.73 C427.13,340.56 427.31,341.52 427.40,342.32 C427.49,343.12 427.67,343.89 427.63,344.54 C427.59,345.19 427.51,345.76 427.17,346.20 C426.82,346.65 426.13,347.01 425.54,347.22 C424.94,347.44 424.25,347.50 423.60,347.50 C422.95,347.50 422.26,347.44 421.66,347.22 C421.07,347.01 420.38,346.65 420.04,346.20 C419.69,345.76 419.61,345.19 419.57,344.54 C419.53,343.89 419.71,343.12 419.80,342.32 C419.89,341.52 420.07,340.56 420.11,339.73 C420.15,338.90 420.10,338.10 420.04,337.32 C419.97,336.55 419.74,335.72 419.73,335.11 C419.71,334.49 419.78,334.06 419.96,333.62 C420.14,333.19 420.72,332.82 420.81,332.51 C420.90,332.21 420.50,331.99 420.50,331.77 C420.50,331.56 420.60,331.47 420.81,331.22 C421.02,330.97 421.43,330.60 421.74,330.30 C422.05,329.99 422.36,329.59 422.67,329.37 C422.98,329.15 423.29,329.00 423.60,329.00 Z" fill="#f6f0ff" filter="url(#bl15)" opacity="0.9"/>
<ellipse cx="423.30" cy="326.70" rx="2.75" ry="1.60" fill="#8a8a8a" filter="url(#bl07)" opacity="0.55"/>
<path d="M437.70,323.00 C438.20,323.00 438.70,323.24 439.20,323.57 C439.70,323.90 440.20,324.52 440.70,325.00 C441.20,325.47 441.87,326.04 442.20,326.42 C442.53,326.80 442.70,326.94 442.70,327.27 C442.70,327.61 442.05,327.94 442.20,328.42 C442.35,328.89 443.28,329.46 443.57,330.12 C443.87,330.79 443.97,331.45 443.95,332.40 C443.93,333.35 443.55,334.64 443.45,335.82 C443.35,337.01 443.26,338.25 443.32,339.53 C443.39,340.81 443.68,342.28 443.82,343.52 C443.97,344.75 444.26,345.94 444.20,346.94 C444.14,347.94 444.01,348.82 443.45,349.50 C442.89,350.19 441.78,350.74 440.82,351.07 C439.87,351.40 438.74,351.50 437.70,351.50 C436.66,351.50 435.53,351.40 434.57,351.07 C433.62,350.74 432.51,350.19 431.95,349.50 C431.39,348.82 431.26,347.94 431.20,346.94 C431.14,345.94 431.43,344.75 431.57,343.52 C431.72,342.28 432.01,340.81 432.07,339.53 C432.14,338.25 432.05,337.01 431.95,335.82 C431.85,334.64 431.47,333.35 431.45,332.40 C431.43,331.45 431.53,330.79 431.82,330.12 C432.12,329.46 433.05,328.89 433.20,328.42 C433.35,327.94 432.70,327.61 432.70,327.27 C432.70,326.94 432.87,326.80 433.20,326.42 C433.53,326.04 434.20,325.47 434.70,325.00 C435.20,324.52 435.70,323.90 436.20,323.57 C436.70,323.24 437.20,323.00 437.70,323.00 Z" fill="#dedede" filter="url(#bl07)"/>
<path d="M438.00,329.00 C438.31,329.00 438.62,329.15 438.93,329.37 C439.24,329.59 439.55,329.99 439.86,330.30 C440.17,330.60 440.58,330.97 440.79,331.22 C441.00,331.47 441.10,331.56 441.10,331.77 C441.10,331.99 440.70,332.21 440.79,332.51 C440.88,332.82 441.46,333.19 441.64,333.62 C441.82,334.06 441.89,334.49 441.88,335.11 C441.86,335.72 441.63,336.55 441.56,337.32 C441.50,338.10 441.45,338.90 441.49,339.73 C441.53,340.56 441.71,341.52 441.80,342.32 C441.89,343.12 442.07,343.89 442.03,344.54 C441.99,345.19 441.91,345.76 441.56,346.20 C441.22,346.65 440.53,347.01 439.94,347.22 C439.34,347.44 438.65,347.50 438.00,347.50 C437.35,347.50 436.66,347.44 436.06,347.22 C435.47,347.01 434.78,346.65 434.44,346.20 C434.09,345.76 434.01,345.19 433.97,344.54 C433.93,343.89 434.11,343.12 434.20,342.32 C434.29,341.52 434.47,340.56 434.51,339.73 C434.55,338.90 434.50,338.10 434.44,337.32 C434.37,336.55 434.14,335.72 434.12,335.11 C434.11,334.49 434.18,334.06 434.36,333.62 C434.54,333.19 435.12,332.82 435.21,332.51 C435.30,332.21 434.90,331.99 434.90,331.77 C434.90,331.56 435.00,331.47 435.21,331.22 C435.42,330.97 435.83,330.60 436.14,330.30 C436.45,329.99 436.76,329.59 437.07,329.37 C437.38,329.15 437.69,329.00 438.00,329.00 Z" fill="#f6f0ff" filter="url(#bl15)" opacity="0.9"/>
<ellipse cx="437.70" cy="326.70" rx="2.75" ry="1.60" fill="#8a8a8a" filter="url(#bl07)" opacity="0.55"/>
<path d="M453.10,323.00 C453.60,323.00 454.10,323.24 454.60,323.57 C455.10,323.90 455.60,324.52 456.10,325.00 C456.60,325.47 457.27,326.04 457.60,326.42 C457.93,326.80 458.10,326.94 458.10,327.27 C458.10,327.61 457.45,327.94 457.60,328.42 C457.75,328.89 458.68,329.46 458.98,330.12 C459.27,330.79 459.37,331.45 459.35,332.40 C459.33,333.35 458.95,334.64 458.85,335.82 C458.75,337.01 458.66,338.25 458.73,339.53 C458.79,340.81 459.08,342.28 459.23,343.52 C459.37,344.75 459.66,345.94 459.60,346.94 C459.54,347.94 459.41,348.82 458.85,349.50 C458.29,350.19 457.18,350.74 456.23,351.07 C455.27,351.40 454.14,351.50 453.10,351.50 C452.06,351.50 450.93,351.40 449.98,351.07 C449.02,350.74 447.91,350.19 447.35,349.50 C446.79,348.82 446.66,347.94 446.60,346.94 C446.54,345.94 446.83,344.75 446.98,343.52 C447.12,342.28 447.41,340.81 447.48,339.53 C447.54,338.25 447.45,337.01 447.35,335.82 C447.25,334.64 446.87,333.35 446.85,332.40 C446.83,331.45 446.93,330.79 447.23,330.12 C447.52,329.46 448.45,328.89 448.60,328.42 C448.75,327.94 448.10,327.61 448.10,327.27 C448.10,326.94 448.27,326.80 448.60,326.42 C448.93,326.04 449.60,325.47 450.10,325.00 C450.60,324.52 451.10,323.90 451.60,323.57 C452.10,323.24 452.60,323.00 453.10,323.00 Z" fill="#dedede" filter="url(#bl07)"/>
<path d="M453.40,329.00 C453.71,329.00 454.02,329.15 454.33,329.37 C454.64,329.59 454.95,329.99 455.26,330.30 C455.57,330.60 455.98,330.97 456.19,331.22 C456.40,331.47 456.50,331.56 456.50,331.77 C456.50,331.99 456.10,332.21 456.19,332.51 C456.28,332.82 456.86,333.19 457.04,333.62 C457.22,334.06 457.29,334.49 457.28,335.11 C457.26,335.72 457.03,336.55 456.97,337.32 C456.90,338.10 456.85,338.90 456.89,339.73 C456.93,340.56 457.11,341.52 457.20,342.32 C457.29,343.12 457.47,343.89 457.43,344.54 C457.39,345.19 457.31,345.76 456.97,346.20 C456.62,346.65 455.93,347.01 455.34,347.22 C454.74,347.44 454.05,347.50 453.40,347.50 C452.75,347.50 452.06,347.44 451.46,347.22 C450.87,347.01 450.18,346.65 449.84,346.20 C449.49,345.76 449.41,345.19 449.37,344.54 C449.33,343.89 449.51,343.12 449.60,342.32 C449.69,341.52 449.87,340.56 449.91,339.73 C449.95,338.90 449.90,338.10 449.84,337.32 C449.77,336.55 449.54,335.72 449.53,335.11 C449.51,334.49 449.58,334.06 449.76,333.62 C449.94,333.19 450.52,332.82 450.61,332.51 C450.70,332.21 450.30,331.99 450.30,331.77 C450.30,331.56 450.40,331.47 450.61,331.22 C450.82,330.97 451.23,330.60 451.54,330.30 C451.85,329.99 452.16,329.59 452.47,329.37 C452.78,329.15 453.09,329.00 453.40,329.00 Z" fill="#f6f0ff" filter="url(#bl15)" opacity="0.9"/>
<ellipse cx="453.10" cy="326.70" rx="2.75" ry="1.60" fill="#8a8a8a" filter="url(#bl07)" opacity="0.55"/>
<path d="M468.50,323.00 C469.00,323.00 469.50,323.24 470.00,323.57 C470.50,323.90 471.00,324.52 471.50,325.00 C472.00,325.47 472.67,326.04 473.00,326.42 C473.33,326.80 473.50,326.94 473.50,327.27 C473.50,327.61 472.85,327.94 473.00,328.42 C473.15,328.89 474.08,329.46 474.38,330.12 C474.67,330.79 474.77,331.45 474.75,332.40 C474.73,333.35 474.35,334.64 474.25,335.82 C474.15,337.01 474.06,338.25 474.12,339.53 C474.19,340.81 474.48,342.28 474.62,343.52 C474.77,344.75 475.06,345.94 475.00,346.94 C474.94,347.94 474.81,348.82 474.25,349.50 C473.69,350.19 472.58,350.74 471.62,351.07 C470.67,351.40 469.54,351.50 468.50,351.50 C467.46,351.50 466.33,351.40 465.38,351.07 C464.42,350.74 463.31,350.19 462.75,349.50 C462.19,348.82 462.06,347.94 462.00,346.94 C461.94,345.94 462.23,344.75 462.38,343.52 C462.52,342.28 462.81,340.81 462.88,339.53 C462.94,338.25 462.85,337.01 462.75,335.82 C462.65,334.64 462.27,333.35 462.25,332.40 C462.23,331.45 462.33,330.79 462.62,330.12 C462.92,329.46 463.85,328.89 464.00,328.42 C464.15,327.94 463.50,327.61 463.50,327.27 C463.50,326.94 463.67,326.80 464.00,326.42 C464.33,326.04 465.00,325.47 465.50,325.00 C466.00,324.52 466.50,323.90 467.00,323.57 C467.50,323.24 468.00,323.00 468.50,323.00 Z" fill="#dedede" filter="url(#bl07)"/>
<path d="M468.80,329.00 C469.11,329.00 469.42,329.15 469.73,329.37 C470.04,329.59 470.35,329.99 470.66,330.30 C470.97,330.60 471.38,330.97 471.59,331.22 C471.80,331.47 471.90,331.56 471.90,331.77 C471.90,331.99 471.50,332.21 471.59,332.51 C471.68,332.82 472.26,333.19 472.44,333.62 C472.62,334.06 472.69,334.49 472.68,335.11 C472.66,335.72 472.43,336.55 472.37,337.32 C472.30,338.10 472.25,338.90 472.29,339.73 C472.33,340.56 472.51,341.52 472.60,342.32 C472.69,343.12 472.87,343.89 472.83,344.54 C472.79,345.19 472.71,345.76 472.37,346.20 C472.02,346.65 471.33,347.01 470.74,347.22 C470.14,347.44 469.45,347.50 468.80,347.50 C468.15,347.50 467.46,347.44 466.86,347.22 C466.27,347.01 465.58,346.65 465.24,346.20 C464.89,345.76 464.81,345.19 464.77,344.54 C464.73,343.89 464.91,343.12 465.00,342.32 C465.09,341.52 465.27,340.56 465.31,339.73 C465.35,338.90 465.30,338.10 465.24,337.32 C465.17,336.55 464.94,335.72 464.93,335.11 C464.91,334.49 464.98,334.06 465.16,333.62 C465.34,333.19 465.92,332.82 466.01,332.51 C466.10,332.21 465.70,331.99 465.70,331.77 C465.70,331.56 465.80,331.47 466.01,331.22 C466.22,330.97 466.63,330.60 466.94,330.30 C467.25,329.99 467.56,329.59 467.87,329.37 C468.18,329.15 468.49,329.00 468.80,329.00 Z" fill="#f6f0ff" filter="url(#bl15)" opacity="0.9"/>
<ellipse cx="468.50" cy="326.70" rx="2.75" ry="1.60" fill="#8a8a8a" filter="url(#bl07)" opacity="0.55"/>
<path d="M390.60,323.00 C394.40,323.00 395.35,324.84 395.35,327.30 C395.35,329.75 398.12,330.37 398.12,334.05 C398.12,338.96 399.20,342.03 399.20,348.17 C399.20,353.70 394.04,353.70 390.60,353.70 C387.16,353.70 382.00,353.70 382.00,348.17 C382.00,342.03 383.08,338.96 383.08,334.05 C383.08,330.37 385.85,329.75 385.85,327.30 C385.85,324.84 386.80,323.00 390.60,323.00Z" fill="#bcaeff" filter="url(#bl07)" opacity="0.9"/>
<path d="M390.60,323.50 C393.92,323.50 394.75,325.24 394.75,327.56 C394.75,329.88 397.45,330.46 397.45,333.94 C397.45,338.58 398.50,341.48 398.50,347.28 C398.50,352.50 393.76,352.50 390.60,352.50 C387.44,352.50 382.70,352.50 382.70,347.28 C382.70,341.48 383.75,338.58 383.75,333.94 C383.75,330.46 386.45,329.88 386.45,327.56 C386.45,325.24 387.28,323.50 390.60,323.50Z" fill="#7a60ff" filter="url(#bl07)" opacity="0.9"/>
<path d="M390.60,323.50 C393.60,323.50 394.35,325.24 394.35,327.56 C394.35,329.88 397.05,330.46 397.05,333.94 C397.05,338.58 398.10,341.48 398.10,347.28 C398.10,352.50 393.60,352.50 390.60,352.50 C387.60,352.50 383.10,352.50 383.10,347.28 C383.10,341.48 384.15,338.58 384.15,333.94 C384.15,330.46 386.85,329.88 386.85,327.56 C386.85,325.24 387.60,323.50 390.60,323.50Z" fill="#3c14f4" filter="url(#bl05)" opacity="1.0"/>
<path d="M406.90,323.00 C410.70,323.00 411.65,324.84 411.65,327.30 C411.65,329.75 414.42,330.37 414.42,334.05 C414.42,338.96 415.50,342.03 415.50,348.17 C415.50,353.70 410.34,353.70 406.90,353.70 C403.46,353.70 398.30,353.70 398.30,348.17 C398.30,342.03 399.38,338.96 399.38,334.05 C399.38,330.37 402.15,329.75 402.15,327.30 C402.15,324.84 403.10,323.00 406.90,323.00Z" fill="#bcaeff" filter="url(#bl07)" opacity="0.9"/>
<path d="M406.90,323.50 C410.22,323.50 411.05,325.24 411.05,327.56 C411.05,329.88 413.75,330.46 413.75,333.94 C413.75,338.58 414.80,341.48 414.80,347.28 C414.80,352.50 410.06,352.50 406.90,352.50 C403.74,352.50 399.00,352.50 399.00,347.28 C399.00,341.48 400.05,338.58 400.05,333.94 C400.05,330.46 402.75,329.88 402.75,327.56 C402.75,325.24 403.58,323.50 406.90,323.50Z" fill="#7a60ff" filter="url(#bl07)" opacity="0.9"/>
<path d="M406.90,323.50 C409.90,323.50 410.65,325.24 410.65,327.56 C410.65,329.88 413.35,330.46 413.35,333.94 C413.35,338.58 414.40,341.48 414.40,347.28 C414.40,352.50 409.90,352.50 406.90,352.50 C403.90,352.50 399.40,352.50 399.40,347.28 C399.40,341.48 400.45,338.58 400.45,333.94 C400.45,330.46 403.15,329.88 403.15,327.56 C403.15,325.24 403.90,323.50 406.90,323.50Z" fill="#3c14f4" filter="url(#bl05)" opacity="1.0"/>
<path d="M423.60,332.50 C426.80,332.50 427.60,333.77 427.60,335.47 C427.60,337.16 430.73,337.59 430.73,340.13 C430.73,343.52 431.95,345.64 431.95,349.88 C431.95,353.70 426.94,353.70 423.60,353.70 C420.26,353.70 415.25,353.70 415.25,349.88 C415.25,345.64 416.47,343.52 416.47,340.13 C416.47,337.59 419.60,337.16 419.60,335.47 C419.60,333.77 420.40,332.50 423.60,332.50Z" fill="#bcaeff" filter="url(#bl07)" opacity="0.9"/>
<path d="M423.60,333.00 C426.32,333.00 427.00,334.17 427.00,335.73 C427.00,337.29 430.06,337.68 430.06,340.02 C430.06,343.14 431.25,345.09 431.25,348.99 C431.25,352.50 426.66,352.50 423.60,352.50 C420.54,352.50 415.95,352.50 415.95,348.99 C415.95,345.09 417.14,343.14 417.14,340.02 C417.14,337.68 420.20,337.29 420.20,335.73 C420.20,334.17 420.88,333.00 423.60,333.00Z" fill="#7a60ff" filter="url(#bl07)" opacity="0.9"/>
<path d="M423.60,333.00 C426.00,333.00 426.60,334.17 426.60,335.73 C426.60,337.29 429.66,337.68 429.66,340.02 C429.66,343.14 430.85,345.09 430.85,348.99 C430.85,352.50 426.50,352.50 423.60,352.50 C420.70,352.50 416.35,352.50 416.35,348.99 C416.35,345.09 417.54,343.14 417.54,340.02 C417.54,337.68 420.60,337.29 420.60,335.73 C420.60,334.17 421.20,333.00 423.60,333.00Z" fill="#3c14f4" filter="url(#bl05)" opacity="1.0"/>
<path d="M438.00,332.50 C441.20,332.50 442.00,333.77 442.00,335.47 C442.00,337.16 445.13,337.59 445.13,340.13 C445.13,343.52 446.35,345.64 446.35,349.88 C446.35,353.70 441.34,353.70 438.00,353.70 C434.66,353.70 429.65,353.70 429.65,349.88 C429.65,345.64 430.87,343.52 430.87,340.13 C430.87,337.59 434.00,337.16 434.00,335.47 C434.00,333.77 434.80,332.50 438.00,332.50Z" fill="#bcaeff" filter="url(#bl07)" opacity="0.9"/>
<path d="M438.00,333.00 C440.72,333.00 441.40,334.17 441.40,335.73 C441.40,337.29 444.46,337.68 444.46,340.02 C444.46,343.14 445.65,345.09 445.65,348.99 C445.65,352.50 441.06,352.50 438.00,352.50 C434.94,352.50 430.35,352.50 430.35,348.99 C430.35,345.09 431.54,343.14 431.54,340.02 C431.54,337.68 434.60,337.29 434.60,335.73 C434.60,334.17 435.28,333.00 438.00,333.00Z" fill="#7a60ff" filter="url(#bl07)" opacity="0.9"/>
<path d="M438.00,333.00 C440.40,333.00 441.00,334.17 441.00,335.73 C441.00,337.29 444.06,337.68 444.06,340.02 C444.06,343.14 445.25,345.09 445.25,348.99 C445.25,352.50 440.90,352.50 438.00,352.50 C435.10,352.50 430.75,352.50 430.75,348.99 C430.75,345.09 431.94,343.14 431.94,340.02 C431.94,337.68 435.00,337.29 435.00,335.73 C435.00,334.17 435.60,333.00 438.00,333.00Z" fill="#3c14f4" filter="url(#bl05)" opacity="1.0"/>
<path d="M453.40,332.50 C456.60,332.50 457.40,333.77 457.40,335.47 C457.40,337.16 460.53,337.59 460.53,340.13 C460.53,343.52 461.75,345.64 461.75,349.88 C461.75,353.70 456.74,353.70 453.40,353.70 C450.06,353.70 445.05,353.70 445.05,349.88 C445.05,345.64 446.27,343.52 446.27,340.13 C446.27,337.59 449.40,337.16 449.40,335.47 C449.40,333.77 450.20,332.50 453.40,332.50Z" fill="#bcaeff" filter="url(#bl07)" opacity="0.9"/>
<path d="M453.40,333.00 C456.12,333.00 456.80,334.17 456.80,335.73 C456.80,337.29 459.86,337.68 459.86,340.02 C459.86,343.14 461.05,345.09 461.05,348.99 C461.05,352.50 456.46,352.50 453.40,352.50 C450.34,352.50 445.75,352.50 445.75,348.99 C445.75,345.09 446.94,343.14 446.94,340.02 C446.94,337.68 450.00,337.29 450.00,335.73 C450.00,334.17 450.68,333.00 453.40,333.00Z" fill="#7a60ff" filter="url(#bl07)" opacity="0.9"/>
<path d="M453.40,333.00 C455.80,333.00 456.40,334.17 456.40,335.73 C456.40,337.29 459.46,337.68 459.46,340.02 C459.46,343.14 460.65,345.09 460.65,348.99 C460.65,352.50 456.30,352.50 453.40,352.50 C450.50,352.50 446.15,352.50 446.15,348.99 C446.15,345.09 447.34,343.14 447.34,340.02 C447.34,337.68 450.40,337.29 450.40,335.73 C450.40,334.17 451.00,333.00 453.40,333.00Z" fill="#3c14f4" filter="url(#bl05)" opacity="1.0"/>
<path d="M468.80,332.50 C472.00,332.50 472.80,333.77 472.80,335.47 C472.80,337.16 475.93,337.59 475.93,340.13 C475.93,343.52 477.15,345.64 477.15,349.88 C477.15,353.70 472.14,353.70 468.80,353.70 C465.46,353.70 460.45,353.70 460.45,349.88 C460.45,345.64 461.67,343.52 461.67,340.13 C461.67,337.59 464.80,337.16 464.80,335.47 C464.80,333.77 465.60,332.50 468.80,332.50Z" fill="#bcaeff" filter="url(#bl07)" opacity="0.9"/>
<path d="M468.80,333.00 C471.52,333.00 472.20,334.17 472.20,335.73 C472.20,337.29 475.26,337.68 475.26,340.02 C475.26,343.14 476.45,345.09 476.45,348.99 C476.45,352.50 471.86,352.50 468.80,352.50 C465.74,352.50 461.15,352.50 461.15,348.99 C461.15,345.09 462.34,343.14 462.34,340.02 C462.34,337.68 465.40,337.29 465.40,335.73 C465.40,334.17 466.08,333.00 468.80,333.00Z" fill="#7a60ff" filter="url(#bl07)" opacity="0.9"/>
<path d="M468.80,333.00 C471.20,333.00 471.80,334.17 471.80,335.73 C471.80,337.29 474.86,337.68 474.86,340.02 C474.86,343.14 476.05,345.09 476.05,348.99 C476.05,352.50 471.70,352.50 468.80,352.50 C465.90,352.50 461.55,352.50 461.55,348.99 C461.55,345.09 462.74,343.14 462.74,340.02 C462.74,337.68 465.80,337.29 465.80,335.73 C465.80,334.17 466.40,333.00 468.80,333.00Z" fill="#3c14f4" filter="url(#bl05)" opacity="1.0"/>
<ellipse cx="423.50" cy="327.50" rx="4.20" ry="3.20" fill="#ece4ff" filter="url(#bl1)" opacity="0.95"/>
<ellipse cx="433.00" cy="330.00" rx="3.40" ry="3.40" fill="#ece4ff" filter="url(#bl1)" opacity="0.95"/>
<ellipse cx="443.00" cy="330.00" rx="3.40" ry="3.40" fill="#ece4ff" filter="url(#bl1)" opacity="0.95"/>
<ellipse cx="450.00" cy="331.00" rx="3.00" ry="3.00" fill="#ece4ff" filter="url(#bl1)" opacity="0.95"/>
<ellipse cx="456.00" cy="326.50" rx="3.00" ry="3.00" fill="#ece4ff" filter="url(#bl1)" opacity="0.95"/>
<ellipse cx="469.00" cy="328.00" rx="4.00" ry="3.60" fill="#ece4ff" filter="url(#bl1)" opacity="0.95"/>
<ellipse cx="423.50" cy="327.50" rx="3.30" ry="2.30" fill="#9c84ff" filter="url(#bl07)" opacity="0.9"/>
<ellipse cx="433.00" cy="330.00" rx="2.50" ry="2.50" fill="#9c84ff" filter="url(#bl07)" opacity="0.9"/>
<ellipse cx="443.00" cy="330.00" rx="2.50" ry="2.50" fill="#9c84ff" filter="url(#bl07)" opacity="0.9"/>
<ellipse cx="450.00" cy="331.00" rx="2.10" ry="2.10" fill="#9c84ff" filter="url(#bl07)" opacity="0.9"/>
<ellipse cx="456.00" cy="326.50" rx="2.10" ry="2.10" fill="#9c84ff" filter="url(#bl07)" opacity="0.9"/>
<ellipse cx="469.00" cy="328.00" rx="3.10" ry="2.70" fill="#9c84ff" filter="url(#bl07)" opacity="0.9"/>
<ellipse cx="423.50" cy="327.50" rx="2.80" ry="1.80" fill="#3c14f4" filter="url(#bl05)" opacity="1.0"/>
<ellipse cx="433.00" cy="330.00" rx="2.00" ry="2.00" fill="#3c14f4" filter="url(#bl05)" opacity="1.0"/>
<ellipse cx="443.00" cy="330.00" rx="2.00" ry="2.00" fill="#3c14f4" filter="url(#bl05)" opacity="1.0"/>
<ellipse cx="450.00" cy="331.00" rx="1.60" ry="1.60" fill="#3c14f4" filter="url(#bl05)" opacity="1.0"/>
<ellipse cx="456.00" cy="326.50" rx="1.60" ry="1.60" fill="#3c14f4" filter="url(#bl05)" opacity="1.0"/>
<ellipse cx="469.00" cy="328.00" rx="2.60" ry="2.20" fill="#3c14f4" filter="url(#bl05)" opacity="1.0"/>
<ellipse cx="395.00" cy="333.00" rx="1.40" ry="1.40" fill="#e6d4ff" filter="url(#bl07)" opacity="0.92"/>
<ellipse cx="399.50" cy="341.00" rx="1.00" ry="2.40" fill="#e6d4ff" filter="url(#bl07)" opacity="0.92"/>
<ellipse cx="413.00" cy="335.00" rx="1.20" ry="2.50" fill="#e6d4ff" filter="url(#bl07)" opacity="0.92"/>
<ellipse cx="390.50" cy="340.00" rx="1.30" ry="1.30" fill="#38d8f0" filter="url(#bl07)" opacity="1.0"/>
<ellipse cx="391.50" cy="345.00" rx="1.50" ry="1.50" fill="#38d8f0" filter="url(#bl07)" opacity="1.0"/>
<ellipse cx="387.80" cy="346.50" rx="1.20" ry="1.20" fill="#38d8f0" filter="url(#bl07)" opacity="1.0"/>
</g>
<clipPath id="c288_366"><rect x="288.2" y="366.0" width="84.00" height="41.50"/></clipPath>
<g clip-path="url(#c288_366)">
<rect x="288.2" y="366.0" width="84.00" height="41.50" fill="#262626"/>
<ellipse cx="295.00" cy="401.50" rx="2.20" ry="3.80" fill="#5c5c5c" filter="url(#bl1)" opacity="1.0"/>
<ellipse cx="304.60" cy="401.50" rx="2.20" ry="3.80" fill="#5c5c5c" filter="url(#bl1)" opacity="1.0"/>
<line x1="299.80" y1="396.50" x2="300.10" y2="407.50" stroke="#b0b0b0" stroke-width="1.1" filter="url(#bl05)"/>
<ellipse cx="309.40" cy="401.50" rx="2.20" ry="3.80" fill="#5c5c5c" filter="url(#bl1)" opacity="1.0"/>
<ellipse cx="319.00" cy="401.50" rx="2.20" ry="3.80" fill="#5c5c5c" filter="url(#bl1)" opacity="1.0"/>
<line x1="314.20" y1="396.50" x2="314.50" y2="407.50" stroke="#b0b0b0" stroke-width="1.1" filter="url(#bl05)"/>
<ellipse cx="323.80" cy="401.50" rx="2.20" ry="3.80" fill="#5c5c5c" filter="url(#bl1)" opacity="1.0"/>
<ellipse cx="333.40" cy="401.50" rx="2.20" ry="3.80" fill="#5c5c5c" filter="url(#bl1)" opacity="1.0"/>
<line x1="328.60" y1="396.50" x2="328.90" y2="407.50" stroke="#b0b0b0" stroke-width="1.1" filter="url(#bl05)"/>
<ellipse cx="340.00" cy="401.50" rx="2.20" ry="3.80" fill="#5c5c5c" filter="url(#bl1)" opacity="1.0"/>
<ellipse cx="349.60" cy="401.50" rx="2.20" ry="3.80" fill="#5c5c5c" filter="url(#bl1)" opacity="1.0"/>
<line x1="344.80" y1="396.50" x2="345.10" y2="407.50" stroke="#b0b0b0" stroke-width="1.1" filter="url(#bl05)"/>
<ellipse cx="354.20" cy="401.50" rx="2.20" ry="3.80" fill="#5c5c5c" filter="url(#bl1)" opacity="1.0"/>
<ellipse cx="363.80" cy="401.50" rx="2.20" ry="3.80" fill="#5c5c5c" filter="url(#bl1)" opacity="1.0"/>
<line x1="359.00" y1="396.50" x2="359.30" y2="407.50" stroke="#b0b0b0" stroke-width="1.1" filter="url(#bl05)"/>
<line x1="299.80" y1="366.00" x2="299.80" y2="370.00" stroke="#b8b8b8" stroke-width="1.0" filter="url(#bl05)"/>
<line x1="314.20" y1="366.00" x2="314.20" y2="370.00" stroke="#b8b8b8" stroke-width="1.0" filter="url(#bl05)"/>
<line x1="328.60" y1="366.00" x2="328.60" y2="370.00" stroke="#b8b8b8" stroke-width="1.0" filter="url(#bl05)"/>
<line x1="344.80" y1="366.00" x2="344.80" y2="370.00" stroke="#b8b8b8" stroke-width="1.0" filter="url(#bl05)"/>
<line x1="359.00" y1="366.00" x2="359.00" y2="370.00" stroke="#b8b8b8" stroke-width="1.0" filter="url(#bl05)"/>
<path d="M299.80,367.00 C303.20,367.00 304.05,368.99 304.05,371.65 C304.05,374.30 306.82,374.97 306.82,378.95 C306.82,384.26 307.90,387.58 307.90,394.22 C307.90,400.20 303.04,400.20 299.80,400.20 C296.56,400.20 291.70,400.20 291.70,394.22 C291.70,387.58 292.78,384.26 292.78,378.95 C292.78,374.97 295.55,374.30 295.55,371.65 C295.55,368.99 296.40,367.00 299.80,367.00Z" fill="#8a78f0" filter="url(#bl07)" opacity="0.9"/>
<path d="M299.80,367.50 C302.72,367.50 303.45,369.39 303.45,371.91 C303.45,374.43 306.15,375.06 306.15,378.84 C306.15,383.88 307.20,387.03 307.20,393.33 C307.20,399.00 302.76,399.00 299.80,399.00 C296.84,399.00 292.40,399.00 292.40,393.33 C292.40,387.03 293.45,383.88 293.45,378.84 C293.45,375.06 296.15,374.43 296.15,371.91 C296.15,369.39 296.88,367.50 299.80,367.50Z" fill="#7a60ff" filter="url(#bl07)" opacity="0.9"/>
<path d="M299.80,367.50 C302.40,367.50 303.05,369.39 303.05,371.91 C303.05,374.43 305.75,375.06 305.75,378.84 C305.75,383.88 306.80,387.03 306.80,393.33 C306.80,399.00 302.60,399.00 299.80,399.00 C297.00,399.00 292.80,399.00 292.80,393.33 C292.80,387.03 293.85,383.88 293.85,378.84 C293.85,375.06 296.55,374.43 296.55,371.91 C296.55,369.39 297.20,367.50 299.80,367.50Z" fill="#3c14f4" filter="url(#bl05)" opacity="1.0"/>
<path d="M314.20,367.00 C317.60,367.00 318.45,368.99 318.45,371.65 C318.45,374.30 321.22,374.97 321.22,378.95 C321.22,384.26 322.30,387.58 322.30,394.22 C322.30,400.20 317.44,400.20 314.20,400.20 C310.96,400.20 306.10,400.20 306.10,394.22 C306.10,387.58 307.18,384.26 307.18,378.95 C307.18,374.97 309.95,374.30 309.95,371.65 C309.95,368.99 310.80,367.00 314.20,367.00Z" fill="#8a78f0" filter="url(#bl07)" opacity="0.9"/>
<path d="M314.20,367.50 C317.12,367.50 317.85,369.39 317.85,371.91 C317.85,374.43 320.55,375.06 320.55,378.84 C320.55,383.88 321.60,387.03 321.60,393.33 C321.60,399.00 317.16,399.00 314.20,399.00 C311.24,399.00 306.80,399.00 306.80,393.33 C306.80,387.03 307.85,383.88 307.85,378.84 C307.85,375.06 310.55,374.43 310.55,371.91 C310.55,369.39 311.28,367.50 314.20,367.50Z" fill="#7a60ff" filter="url(#bl07)" opacity="0.9"/>
<path d="M314.20,367.50 C316.80,367.50 317.45,369.39 317.45,371.91 C317.45,374.43 320.15,375.06 320.15,378.84 C320.15,383.88 321.20,387.03 321.20,393.33 C321.20,399.00 317.00,399.00 314.20,399.00 C311.40,399.00 307.20,399.00 307.20,393.33 C307.20,387.03 308.25,383.88 308.25,378.84 C308.25,375.06 310.95,374.43 310.95,371.91 C310.95,369.39 311.60,367.50 314.20,367.50Z" fill="#3c14f4" filter="url(#bl05)" opacity="1.0"/>
<path d="M328.60,367.00 C332.00,367.00 332.85,368.99 332.85,371.65 C332.85,374.30 335.62,374.97 335.62,378.95 C335.62,384.26 336.70,387.58 336.70,394.22 C336.70,400.20 331.84,400.20 328.60,400.20 C325.36,400.20 320.50,400.20 320.50,394.22 C320.50,387.58 321.58,384.26 321.58,378.95 C321.58,374.97 324.35,374.30 324.35,371.65 C324.35,368.99 325.20,367.00 328.60,367.00Z" fill="#8a78f0" filter="url(#bl07)" opacity="0.9"/>
<path d="M328.60,367.50 C331.52,367.50 332.25,369.39 332.25,371.91 C332.25,374.43 334.95,375.06 334.95,378.84 C334.95,383.88 336.00,387.03 336.00,393.33 C336.00,399.00 331.56,399.00 328.60,399.00 C325.64,399.00 321.20,399.00 321.20,393.33 C321.20,387.03 322.25,383.88 322.25,378.84 C322.25,375.06 324.95,374.43 324.95,371.91 C324.95,369.39 325.68,367.50 328.60,367.50Z" fill="#7a60ff" filter="url(#bl07)" opacity="0.9"/>
<path d="M328.60,367.50 C331.20,367.50 331.85,369.39 331.85,371.91 C331.85,374.43 334.55,375.06 334.55,378.84 C334.55,383.88 335.60,387.03 335.60,393.33 C335.60,399.00 331.40,399.00 328.60,399.00 C325.80,399.00 321.60,399.00 321.60,393.33 C321.60,387.03 322.65,383.88 322.65,378.84 C322.65,375.06 325.35,374.43 325.35,371.91 C325.35,369.39 326.00,367.50 328.60,367.50Z" fill="#3c14f4" filter="url(#bl05)" opacity="1.0"/>
<path d="M344.80,367.00 C348.20,367.00 349.05,368.99 349.05,371.65 C349.05,374.30 351.82,374.97 351.82,378.95 C351.82,384.26 352.90,387.58 352.90,394.22 C352.90,400.20 348.04,400.20 344.80,400.20 C341.56,400.20 336.70,400.20 336.70,394.22 C336.70,387.58 337.78,384.26 337.78,378.95 C337.78,374.97 340.55,374.30 340.55,371.65 C340.55,368.99 341.40,367.00 344.80,367.00Z" fill="#8a78f0" filter="url(#bl07)" opacity="0.9"/>
<path d="M344.80,367.50 C347.72,367.50 348.45,369.39 348.45,371.91 C348.45,374.43 351.15,375.06 351.15,378.84 C351.15,383.88 352.20,387.03 352.20,393.33 C352.20,399.00 347.76,399.00 344.80,399.00 C341.84,399.00 337.40,399.00 337.40,393.33 C337.40,387.03 338.45,383.88 338.45,378.84 C338.45,375.06 341.15,374.43 341.15,371.91 C341.15,369.39 341.88,367.50 344.80,367.50Z" fill="#7a60ff" filter="url(#bl07)" opacity="0.9"/>
<path d="M344.80,367.50 C347.40,367.50 348.05,369.39 348.05,371.91 C348.05,374.43 350.75,375.06 350.75,378.84 C350.75,383.88 351.80,387.03 351.80,393.33 C351.80,399.00 347.60,399.00 344.80,399.00 C342.00,399.00 337.80,399.00 337.80,393.33 C337.80,387.03 338.85,383.88 338.85,378.84 C338.85,375.06 341.55,374.43 341.55,371.91 C341.55,369.39 342.20,367.50 344.80,367.50Z" fill="#3c14f4" filter="url(#bl05)" opacity="1.0"/>
<path d="M359.00,367.00 C362.40,367.00 363.25,368.99 363.25,371.65 C363.25,374.30 366.02,374.97 366.02,378.95 C366.02,384.26 367.10,387.58 367.10,394.22 C367.10,400.20 362.24,400.20 359.00,400.20 C355.76,400.20 350.90,400.20 350.90,394.22 C350.90,387.58 351.98,384.26 351.98,378.95 C351.98,374.97 354.75,374.30 354.75,371.65 C354.75,368.99 355.60,367.00 359.00,367.00Z" fill="#8a78f0" filter="url(#bl07)" opacity="0.9"/>
<path d="M359.00,367.50 C361.92,367.50 362.65,369.39 362.65,371.91 C362.65,374.43 365.35,375.06 365.35,378.84 C365.35,383.88 366.40,387.03 366.40,393.33 C366.40,399.00 361.96,399.00 359.00,399.00 C356.04,399.00 351.60,399.00 351.60,393.33 C351.60,387.03 352.65,383.88 352.65,378.84 C352.65,375.06 355.35,374.43 355.35,371.91 C355.35,369.39 356.08,367.50 359.00,367.50Z" fill="#7a60ff" filter="url(#bl07)" opacity="0.9"/>
<path d="M359.00,367.50 C361.60,367.50 362.25,369.39 362.25,371.91 C362.25,374.43 364.95,375.06 364.95,378.84 C364.95,383.88 366.00,387.03 366.00,393.33 C366.00,399.00 361.80,399.00 359.00,399.00 C356.20,399.00 352.00,399.00 352.00,393.33 C352.00,387.03 353.05,383.88 353.05,378.84 C353.05,375.06 355.75,374.43 355.75,371.91 C355.75,369.39 356.40,367.50 359.00,367.50Z" fill="#3c14f4" filter="url(#bl05)" opacity="1.0"/>
<ellipse cx="300.30" cy="393.00" rx="5.20" ry="5.80" fill="#38d8f0" filter="url(#bl07)" opacity="1.0"/>
<ellipse cx="300.30" cy="393.00" rx="4.37" ry="4.87" fill="#6ee85a" filter="url(#bl07)" opacity="1.0"/>
<ellipse cx="300.30" cy="393.00" rx="3.54" ry="3.94" fill="#f2f238" filter="url(#bl07)" opacity="1.0"/>
<ellipse cx="300.30" cy="393.00" rx="2.60" ry="2.90" fill="#e01818" filter="url(#bl07)" opacity="1.0"/>
<ellipse cx="300.20" cy="384.00" rx="1.50" ry="1.50" fill="#38d8f0" filter="url(#bl07)" opacity="1.0"/>
<path d="M314.30,380.50 C316.34,380.50 316.85,381.56 316.85,382.96 C316.85,384.37 318.75,384.72 318.75,386.84 C318.75,389.65 320.30,391.41 320.30,394.93 C320.30,398.10 316.70,398.10 314.30,398.10 C311.90,398.10 308.30,398.10 308.30,394.93 C308.30,391.41 309.85,389.65 309.85,386.84 C309.85,384.72 311.75,384.37 311.75,382.96 C311.75,381.56 312.26,380.50 314.30,380.50Z" fill="#38d8f0" filter="url(#bl07)" opacity="1.0"/>
<path d="M314.30,381.38 C316.14,381.38 316.60,382.33 316.60,383.60 C316.60,384.86 318.30,385.18 318.30,387.08 C318.30,389.62 319.70,391.20 319.70,394.37 C319.70,397.22 316.46,397.22 314.30,397.22 C312.14,397.22 308.90,397.22 308.90,394.37 C308.90,391.20 310.30,389.62 310.30,387.08 C310.30,385.18 312.00,384.86 312.00,383.60 C312.00,382.33 312.46,381.38 314.30,381.38Z" fill="#6ee85a" filter="url(#bl07)" opacity="1.0"/>
<path d="M314.30,382.00 C315.99,382.00 316.42,382.87 316.42,384.04 C316.42,385.21 317.99,385.50 317.99,387.25 C317.99,389.59 319.28,391.05 319.28,393.97 C319.28,396.60 316.29,396.60 314.30,396.60 C312.31,396.60 309.32,396.60 309.32,393.97 C309.32,391.05 310.61,389.59 310.61,387.25 C310.61,385.50 312.18,385.21 312.18,384.04 C312.18,382.87 312.61,382.00 314.30,382.00Z" fill="#f2f238" filter="url(#bl07)" opacity="1.0"/>
<path d="M314.30,382.61 C315.85,382.61 316.24,383.41 316.24,384.48 C316.24,385.55 317.68,385.82 317.68,387.43 C317.68,389.57 318.86,390.91 318.86,393.58 C318.86,395.99 316.12,395.99 314.30,395.99 C312.48,395.99 309.74,395.99 309.74,393.58 C309.74,390.91 310.92,389.57 310.92,387.43 C310.92,385.82 312.36,385.55 312.36,384.48 C312.36,383.41 312.75,382.61 314.30,382.61Z" fill="#e01818" filter="url(#bl07)" opacity="1.0"/>
<ellipse cx="317.50" cy="377.50" rx="2.20" ry="2.60" fill="#38d8f0" filter="url(#bl07)" opacity="1.0"/>
<ellipse cx="311.80" cy="380.50" rx="1.30" ry="1.30" fill="#38d8f0" filter="url(#bl07)" opacity="1.0"/>
<ellipse cx="329.00" cy="390.80" rx="6.40" ry="5.20" fill="#38d8f0" filter="url(#bl07)" opacity="1.0"/>
<ellipse cx="329.00" cy="390.80" rx="5.63" ry="4.58" fill="#6ee85a" filter="url(#bl07)" opacity="1.0"/>
<ellipse cx="329.00" cy="390.80" rx="4.99" ry="4.06" fill="#f2f238" filter="url(#bl07)" opacity="1.0"/>
<ellipse cx="329.00" cy="390.80" rx="4.48" ry="3.64" fill="#e01818" filter="url(#bl07)" opacity="1.0"/>
<ellipse cx="329.50" cy="373.30" rx="2.20" ry="2.20" fill="#38d8f0" filter="url(#bl07)" opacity="1.0"/>
<ellipse cx="329.50" cy="373.30" rx="1.89" ry="1.89" fill="#6ee85a" filter="url(#bl07)" opacity="1.0"/>
<ellipse cx="329.50" cy="373.30" rx="1.63" ry="1.63" fill="#f2f238" filter="url(#bl07)" opacity="1.0"/>
<ellipse cx="328.20" cy="382.00" rx="1.60" ry="2.60" fill="#38d8f0" filter="url(#bl07)" opacity="1.0"/>
<ellipse cx="328.20" cy="382.00" rx="1.38" ry="2.24" fill="#6ee85a" filter="url(#bl07)" opacity="1.0"/>
<path d="M344.80,379.00 C346.98,379.00 347.52,380.13 347.52,381.63 C347.52,383.14 349.54,383.51 349.54,385.77 C349.54,388.78 351.20,390.66 351.20,394.42 C351.20,397.80 347.36,397.80 344.80,397.80 C342.24,397.80 338.40,397.80 338.40,394.42 C338.40,390.66 340.06,388.78 340.06,385.77 C340.06,383.51 342.08,383.14 342.08,381.63 C342.08,380.13 342.62,379.00 344.80,379.00Z" fill="#38d8f0" filter="url(#bl07)" opacity="1.0"/>
<path d="M344.80,379.94 C346.76,379.94 347.25,380.96 347.25,382.31 C347.25,383.66 349.07,384.00 349.07,386.03 C349.07,388.74 350.56,390.43 350.56,393.81 C350.56,396.86 347.10,396.86 344.80,396.86 C342.50,396.86 339.04,396.86 339.04,393.81 C339.04,390.43 340.53,388.74 340.53,386.03 C340.53,384.00 342.35,383.66 342.35,382.31 C342.35,380.96 342.84,379.94 344.80,379.94Z" fill="#6ee85a" filter="url(#bl07)" opacity="1.0"/>
<path d="M344.80,380.60 C346.61,380.60 347.06,381.53 347.06,382.78 C347.06,384.03 348.74,384.34 348.74,386.22 C348.74,388.71 350.11,390.27 350.11,393.39 C350.11,396.20 346.92,396.20 344.80,396.20 C342.68,396.20 339.49,396.20 339.49,393.39 C339.49,390.27 340.86,388.71 340.86,386.22 C340.86,384.34 342.54,384.03 342.54,382.78 C342.54,381.53 342.99,380.60 344.80,380.60Z" fill="#f2f238" filter="url(#bl07)" opacity="1.0"/>
<path d="M344.80,381.26 C346.45,381.26 346.87,382.11 346.87,383.26 C346.87,384.40 348.41,384.69 348.41,386.40 C348.41,388.69 349.66,390.11 349.66,392.97 C349.66,395.54 346.75,395.54 344.80,395.54 C342.85,395.54 339.94,395.54 339.94,392.97 C339.94,390.11 341.19,388.69 341.19,386.40 C341.19,384.69 342.73,384.40 342.73,383.26 C342.73,382.11 343.15,381.26 344.80,381.26Z" fill="#e01818" filter="url(#bl07)" opacity="1.0"/>
<ellipse cx="346.30" cy="374.20" rx="3.00" ry="3.00" fill="#38d8f0" filter="url(#bl07)" opacity="1.0"/>
<ellipse cx="346.30" cy="374.20" rx="2.58" ry="2.58" fill="#6ee85a" filter="url(#bl07)" opacity="1.0"/>
<ellipse cx="346.30" cy="374.20" rx="2.22" ry="2.22" fill="#f2f238" filter="url(#bl07)" opacity="1.0"/>
<ellipse cx="346.30" cy="374.20" rx="1.92" ry="1.92" fill="#e01818" filter="url(#bl07)" opacity="1.0"/>
<path d="M359.50,380.40 C361.61,380.40 362.13,381.48 362.13,382.92 C362.13,384.36 364.10,384.72 364.10,386.88 C364.10,389.76 365.70,391.56 365.70,395.16 C365.70,398.40 361.98,398.40 359.50,398.40 C357.02,398.40 353.30,398.40 353.30,395.16 C353.30,391.56 354.90,389.76 354.90,386.88 C354.90,384.72 356.87,384.36 356.87,382.92 C356.87,381.48 357.39,380.40 359.50,380.40Z" fill="#38d8f0" filter="url(#bl07)" opacity="1.0"/>
<path d="M359.50,381.30 C361.40,381.30 361.87,382.27 361.87,383.57 C361.87,384.86 363.64,385.19 363.64,387.13 C363.64,389.72 365.08,391.34 365.08,394.58 C365.08,397.50 361.73,397.50 359.50,397.50 C357.27,397.50 353.92,397.50 353.92,394.58 C353.92,391.34 355.36,389.72 355.36,387.13 C355.36,385.19 357.13,384.86 357.13,383.57 C357.13,382.27 357.60,381.30 359.50,381.30Z" fill="#6ee85a" filter="url(#bl07)" opacity="1.0"/>
<path d="M359.50,381.93 C361.25,381.93 361.69,382.83 361.69,384.02 C361.69,385.22 363.31,385.52 363.31,387.31 C363.31,389.70 364.65,391.19 364.65,394.18 C364.65,396.87 361.56,396.87 359.50,396.87 C357.44,396.87 354.35,396.87 354.35,394.18 C354.35,391.19 355.69,389.70 355.69,387.31 C355.69,385.52 357.31,385.22 357.31,384.02 C357.31,382.83 357.75,381.93 359.50,381.93Z" fill="#f2f238" filter="url(#bl07)" opacity="1.0"/>
<path d="M359.50,382.56 C361.10,382.56 361.50,383.38 361.50,384.48 C361.50,385.57 362.99,385.84 362.99,387.48 C362.99,389.67 364.21,391.04 364.21,393.78 C364.21,396.24 361.38,396.24 359.50,396.24 C357.62,396.24 354.79,396.24 354.79,393.78 C354.79,391.04 356.01,389.67 356.01,387.48 C356.01,385.84 357.50,385.57 357.50,384.48 C357.50,383.38 357.90,382.56 359.50,382.56Z" fill="#e01818" filter="url(#bl07)" opacity="1.0"/>
<ellipse cx="358.20" cy="376.50" rx="2.80" ry="3.20" fill="#38d8f0" filter="url(#bl07)" opacity="1.0"/>
</g>
<clipPath id="c383_366"><rect x="383.0" y="366.0" width="93.00" height="41.50"/></clipPath>
<g clip-path="url(#c383_366)">
<rect x="383.0" y="366.0" width="93.00" height="41.50" fill="#262626"/>
<ellipse cx="386.00" cy="401.50" rx="2.20" ry="3.80" fill="#5c5c5c" filter="url(#bl1)" opacity="1.0"/>
<ellipse cx="395.60" cy="401.50" rx="2.20" ry="3.80" fill="#5c5c5c" filter="url(#bl1)" opacity="1.0"/>
<line x1="390.80" y1="396.50" x2="391.10" y2="407.50" stroke="#b0b0b0" stroke-width="1.1" filter="url(#bl05)"/>
<ellipse cx="401.20" cy="401.50" rx="2.20" ry="3.80" fill="#5c5c5c" filter="url(#bl1)" opacity="1.0"/>
<ellipse cx="410.80" cy="401.50" rx="2.20" ry="3.80" fill="#5c5c5c" filter="url(#bl1)" opacity="1.0"/>
<line x1="406.00" y1="396.50" x2="406.30" y2="407.50" stroke="#b0b0b0" stroke-width="1.1" filter="url(#bl05)"/>
<ellipse cx="415.10" cy="401.50" rx="2.20" ry="3.80" fill="#5c5c5c" filter="url(#bl1)" opacity="1.0"/>
<ellipse cx="424.70" cy="401.50" rx="2.20" ry="3.80" fill="#5c5c5c" filter="url(#bl1)" opacity="1.0"/>
<line x1="419.90" y1="396.50" x2="420.20" y2="407.50" stroke="#b0b0b0" stroke-width="1.1" filter="url(#bl05)"/>
<ellipse cx="432.80" cy="401.50" rx="2.20" ry="3.80" fill="#5c5c5c" filter="url(#bl1)" opacity="1.0"/>
<ellipse cx="442.40" cy="401.50" rx="2.20" ry="3.80" fill="#5c5c5c" filter="url(#bl1)" opacity="1.0"/>
<line x1="437.60" y1="396.50" x2="437.90" y2="407.50" stroke="#b0b0b0" stroke-width="1.1" filter="url(#bl05)"/>
<ellipse cx="448.70" cy="401.50" rx="2.20" ry="3.80" fill="#5c5c5c" filter="url(#bl1)" opacity="1.0"/>
<ellipse cx="458.30" cy="401.50" rx="2.20" ry="3.80" fill="#5c5c5c" filter="url(#bl1)" opacity="1.0"/>
<line x1="453.50" y1="396.50" x2="453.80" y2="407.50" stroke="#b0b0b0" stroke-width="1.1" filter="url(#bl05)"/>
<ellipse cx="463.60" cy="401.50" rx="2.20" ry="3.80" fill="#5c5c5c" filter="url(#bl1)" opacity="1.0"/>
<ellipse cx="473.20" cy="401.50" rx="2.20" ry="3.80" fill="#5c5c5c" filter="url(#bl1)" opacity="1.0"/>
<line x1="468.40" y1="396.50" x2="468.70" y2="407.50" stroke="#b0b0b0" stroke-width="1.1" filter="url(#bl05)"/>
<line x1="390.80" y1="366.00" x2="390.80" y2="370.00" stroke="#b8b8b8" stroke-width="1.0" filter="url(#bl05)"/>
<line x1="406.00" y1="366.00" x2="406.00" y2="370.00" stroke="#b8b8b8" stroke-width="1.0" filter="url(#bl05)"/>
<line x1="419.90" y1="366.00" x2="419.90" y2="370.00" stroke="#b8b8b8" stroke-width="1.0" filter="url(#bl05)"/>
<line x1="437.60" y1="366.00" x2="437.60" y2="370.00" stroke="#b8b8b8" stroke-width="1.0" filter="url(#bl05)"/>
<line x1="453.50" y1="366.00" x2="453.50" y2="370.00" stroke="#b8b8b8" stroke-width="1.0" filter="url(#bl05)"/>
<line x1="468.40" y1="366.00" x2="468.40" y2="370.00" stroke="#b8b8b8" stroke-width="1.0" filter="url(#bl05)"/>
<path d="M390.80,367.00 C394.20,367.00 395.05,368.99 395.05,371.65 C395.05,374.30 397.64,374.97 397.64,378.95 C397.64,384.26 398.65,387.58 398.65,394.22 C398.65,400.20 393.94,400.20 390.80,400.20 C387.66,400.20 382.95,400.20 382.95,394.22 C382.95,387.58 383.96,384.26 383.96,378.95 C383.96,374.97 386.55,374.30 386.55,371.65 C386.55,368.99 387.40,367.00 390.80,367.00Z" fill="#8a78f0" filter="url(#bl07)" opacity="0.9"/>
<path d="M390.80,367.50 C393.72,367.50 394.45,369.39 394.45,371.91 C394.45,374.43 396.97,375.06 396.97,378.84 C396.97,383.88 397.95,387.03 397.95,393.33 C397.95,399.00 393.66,399.00 390.80,399.00 C387.94,399.00 383.65,399.00 383.65,393.33 C383.65,387.03 384.63,383.88 384.63,378.84 C384.63,375.06 387.15,374.43 387.15,371.91 C387.15,369.39 387.88,367.50 390.80,367.50Z" fill="#7a60ff" filter="url(#bl07)" opacity="0.9"/>
<path d="M390.80,367.50 C393.40,367.50 394.05,369.39 394.05,371.91 C394.05,374.43 396.57,375.06 396.57,378.84 C396.57,383.88 397.55,387.03 397.55,393.33 C397.55,399.00 393.50,399.00 390.80,399.00 C388.10,399.00 384.05,399.00 384.05,393.33 C384.05,387.03 385.03,383.88 385.03,378.84 C385.03,375.06 387.55,374.43 387.55,371.91 C387.55,369.39 388.20,367.50 390.80,367.50Z" fill="#3c14f4" filter="url(#bl05)" opacity="1.0"/>
<path d="M406.00,367.00 C409.40,367.00 410.25,368.99 410.25,371.65 C410.25,374.30 412.84,374.97 412.84,378.95 C412.84,384.26 413.85,387.58 413.85,394.22 C413.85,400.20 409.14,400.20 406.00,400.20 C402.86,400.20 398.15,400.20 398.15,394.22 C398.15,387.58 399.16,384.26 399.16,378.95 C399.16,374.97 401.75,374.30 401.75,371.65 C401.75,368.99 402.60,367.00 406.00,367.00Z" fill="#8a78f0" filter="url(#bl07)" opacity="0.9"/>
<path d="M406.00,367.50 C408.92,367.50 409.65,369.39 409.65,371.91 C409.65,374.43 412.17,375.06 412.17,378.84 C412.17,383.88 413.15,387.03 413.15,393.33 C413.15,399.00 408.86,399.00 406.00,399.00 C403.14,399.00 398.85,399.00 398.85,393.33 C398.85,387.03 399.83,383.88 399.83,378.84 C399.83,375.06 402.35,374.43 402.35,371.91 C402.35,369.39 403.08,367.50 406.00,367.50Z" fill="#7a60ff" filter="url(#bl07)" opacity="0.9"/>
<path d="M406.00,367.50 C408.60,367.50 409.25,369.39 409.25,371.91 C409.25,374.43 411.77,375.06 411.77,378.84 C411.77,383.88 412.75,387.03 412.75,393.33 C412.75,399.00 408.70,399.00 406.00,399.00 C403.30,399.00 399.25,399.00 399.25,393.33 C399.25,387.03 400.23,383.88 400.23,378.84 C400.23,375.06 402.75,374.43 402.75,371.91 C402.75,369.39 403.40,367.50 406.00,367.50Z" fill="#3c14f4" filter="url(#bl05)" opacity="1.0"/>
<path d="M419.90,367.00 C423.30,367.00 424.15,368.99 424.15,371.65 C424.15,374.30 426.74,374.97 426.74,378.95 C426.74,384.26 427.75,387.58 427.75,394.22 C427.75,400.20 423.04,400.20 419.90,400.20 C416.76,400.20 412.05,400.20 412.05,394.22 C412.05,387.58 413.06,384.26 413.06,378.95 C413.06,374.97 415.65,374.30 415.65,371.65 C415.65,368.99 416.50,367.00 419.90,367.00Z" fill="#8a78f0" filter="url(#bl07)" opacity="0.9"/>
<path d="M419.90,367.50 C422.82,367.50 423.55,369.39 423.55,371.91 C423.55,374.43 426.07,375.06 426.07,378.84 C426.07,383.88 427.05,387.03 427.05,393.33 C427.05,399.00 422.76,399.00 419.90,399.00 C417.04,399.00 412.75,399.00 412.75,393.33 C412.75,387.03 413.73,383.88 413.73,378.84 C413.73,375.06 416.25,374.43 416.25,371.91 C416.25,369.39 416.98,367.50 419.90,367.50Z" fill="#7a60ff" filter="url(#bl07)" opacity="0.9"/>
<path d="M419.90,367.50 C422.50,367.50 423.15,369.39 423.15,371.91 C423.15,374.43 425.67,375.06 425.67,378.84 C425.67,383.88 426.65,387.03 426.65,393.33 C426.65,399.00 422.60,399.00 419.90,399.00 C417.20,399.00 413.15,399.00 413.15,393.33 C413.15,387.03 414.13,383.88 414.13,378.84 C414.13,375.06 416.65,374.43 416.65,371.91 C416.65,369.39 417.30,367.50 419.90,367.50Z" fill="#3c14f4" filter="url(#bl05)" opacity="1.0"/>
<path d="M437.60,367.00 C441.00,367.00 441.85,368.99 441.85,371.65 C441.85,374.30 444.44,374.97 444.44,378.95 C444.44,384.26 445.45,387.58 445.45,394.22 C445.45,400.20 440.74,400.20 437.60,400.20 C434.46,400.20 429.75,400.20 429.75,394.22 C429.75,387.58 430.76,384.26 430.76,378.95 C430.76,374.97 433.35,374.30 433.35,371.65 C433.35,368.99 434.20,367.00 437.60,367.00Z" fill="#8a78f0" filter="url(#bl07)" opacity="0.9"/>
<path d="M437.60,367.50 C440.52,367.50 441.25,369.39 441.25,371.91 C441.25,374.43 443.77,375.06 443.77,378.84 C443.77,383.88 444.75,387.03 444.75,393.33 C444.75,399.00 440.46,399.00 437.60,399.00 C434.74,399.00 430.45,399.00 430.45,393.33 C430.45,387.03 431.43,383.88 431.43,378.84 C431.43,375.06 433.95,374.43 433.95,371.91 C433.95,369.39 434.68,367.50 437.60,367.50Z" fill="#7a60ff" filter="url(#bl07)" opacity="0.9"/>
<path d="M437.60,367.50 C440.20,367.50 440.85,369.39 440.85,371.91 C440.85,374.43 443.37,375.06 443.37,378.84 C443.37,383.88 444.35,387.03 444.35,393.33 C444.35,399.00 440.30,399.00 437.60,399.00 C434.90,399.00 430.85,399.00 430.85,393.33 C430.85,387.03 431.83,383.88 431.83,378.84 C431.83,375.06 434.35,374.43 434.35,371.91 C434.35,369.39 435.00,367.50 437.60,367.50Z" fill="#3c14f4" filter="url(#bl05)" opacity="1.0"/>
<path d="M453.50,367.00 C456.90,367.00 457.75,368.99 457.75,371.65 C457.75,374.30 460.34,374.97 460.34,378.95 C460.34,384.26 461.35,387.58 461.35,394.22 C461.35,400.20 456.64,400.20 453.50,400.20 C450.36,400.20 445.65,400.20 445.65,394.22 C445.65,387.58 446.66,384.26 446.66,378.95 C446.66,374.97 449.25,374.30 449.25,371.65 C449.25,368.99 450.10,367.00 453.50,367.00Z" fill="#8a78f0" filter="url(#bl07)" opacity="0.9"/>
<path d="M453.50,367.50 C456.42,367.50 457.15,369.39 457.15,371.91 C457.15,374.43 459.67,375.06 459.67,378.84 C459.67,383.88 460.65,387.03 460.65,393.33 C460.65,399.00 456.36,399.00 453.50,399.00 C450.64,399.00 446.35,399.00 446.35,393.33 C446.35,387.03 447.33,383.88 447.33,378.84 C447.33,375.06 449.85,374.43 449.85,371.91 C449.85,369.39 450.58,367.50 453.50,367.50Z" fill="#7a60ff" filter="url(#bl07)" opacity="0.9"/>
<path d="M453.50,367.50 C456.10,367.50 456.75,369.39 456.75,371.91 C456.75,374.43 459.27,375.06 459.27,378.84 C459.27,383.88 460.25,387.03 460.25,393.33 C460.25,399.00 456.20,399.00 453.50,399.00 C450.80,399.00 446.75,399.00 446.75,393.33 C446.75,387.03 447.73,383.88 447.73,378.84 C447.73,375.06 450.25,374.43 450.25,371.91 C450.25,369.39 450.90,367.50 453.50,367.50Z" fill="#3c14f4" filter="url(#bl05)" opacity="1.0"/>
<path d="M468.40,367.00 C471.80,367.00 472.65,368.99 472.65,371.65 C472.65,374.30 475.24,374.97 475.24,378.95 C475.24,384.26 476.25,387.58 476.25,394.22 C476.25,400.20 471.54,400.20 468.40,400.20 C465.26,400.20 460.55,400.20 460.55,394.22 C460.55,387.58 461.56,384.26 461.56,378.95 C461.56,374.97 464.15,374.30 464.15,371.65 C464.15,368.99 465.00,367.00 468.40,367.00Z" fill="#8a78f0" filter="url(#bl07)" opacity="0.9"/>
<path d="M468.40,367.50 C471.32,367.50 472.05,369.39 472.05,371.91 C472.05,374.43 474.57,375.06 474.57,378.84 C474.57,383.88 475.55,387.03 475.55,393.33 C475.55,399.00 471.26,399.00 468.40,399.00 C465.54,399.00 461.25,399.00 461.25,393.33 C461.25,387.03 462.23,383.88 462.23,378.84 C462.23,375.06 464.75,374.43 464.75,371.91 C464.75,369.39 465.48,367.50 468.40,367.50Z" fill="#7a60ff" filter="url(#bl07)" opacity="0.9"/>
<path d="M468.40,367.50 C471.00,367.50 471.65,369.39 471.65,371.91 C471.65,374.43 474.17,375.06 474.17,378.84 C474.17,383.88 475.15,387.03 475.15,393.33 C475.15,399.00 471.10,399.00 468.40,399.00 C465.70,399.00 461.65,399.00 461.65,393.33 C461.65,387.03 462.63,383.88 462.63,378.84 C462.63,375.06 465.15,374.43 465.15,371.91 C465.15,369.39 465.80,367.50 468.40,367.50Z" fill="#3c14f4" filter="url(#bl05)" opacity="1.0"/>
<path d="M391.00,380.60 C392.84,380.60 393.30,381.61 393.30,382.95 C393.30,384.30 395.00,384.63 395.00,386.65 C395.00,389.34 396.40,391.02 396.40,394.38 C396.40,397.40 393.16,397.40 391.00,397.40 C388.84,397.40 385.60,397.40 385.60,394.38 C385.60,391.02 387.00,389.34 387.00,386.65 C387.00,384.63 388.70,384.30 388.70,382.95 C388.70,381.61 389.16,380.60 391.00,380.60Z" fill="#38d8f0" filter="url(#bl07)" opacity="1.0"/>
<path d="M391.00,381.78 C392.58,381.78 392.97,382.64 392.97,383.80 C392.97,384.95 394.44,385.24 394.44,386.98 C394.44,389.29 395.64,390.73 395.64,393.62 C395.64,396.22 392.86,396.22 391.00,396.22 C389.14,396.22 386.36,396.22 386.36,393.62 C386.36,390.73 387.56,389.29 387.56,386.98 C387.56,385.24 389.03,384.95 389.03,383.80 C389.03,382.64 389.42,381.78 391.00,381.78Z" fill="#6ee85a" filter="url(#bl07)" opacity="1.0"/>
<path d="M391.00,382.78 C392.36,382.78 392.70,383.53 392.70,384.52 C392.70,385.52 393.96,385.77 393.96,387.26 C393.96,389.25 395.00,390.49 395.00,392.98 C395.00,395.22 392.60,395.22 391.00,395.22 C389.40,395.22 387.00,395.22 387.00,392.98 C387.00,390.49 388.04,389.25 388.04,387.26 C388.04,385.77 389.30,385.52 389.30,384.52 C389.30,383.53 389.64,382.78 391.00,382.78Z" fill="#f2f238" filter="url(#bl07)" opacity="1.0"/>
<ellipse cx="391.30" cy="391.00" rx="1.50" ry="1.50" fill="#38d8f0" filter="url(#bl07)" opacity="1.0"/>
<ellipse cx="391.30" cy="391.00" rx="1.29" ry="1.29" fill="#6ee85a" filter="url(#bl07)" opacity="1.0"/>
<ellipse cx="391.30" cy="391.00" rx="1.11" ry="1.11" fill="#f2f238" filter="url(#bl07)" opacity="1.0"/>
<ellipse cx="391.30" cy="391.00" rx="0.96" ry="0.96" fill="#e01818" filter="url(#bl07)" opacity="1.0"/>
<ellipse cx="391.20" cy="372.00" rx="2.00" ry="1.80" fill="#38d8f0" filter="url(#bl07)" opacity="1.0"/>
<ellipse cx="405.50" cy="390.00" rx="3.40" ry="7.00" fill="#38d8f0" filter="url(#bl07)" opacity="1.0"/>
<ellipse cx="405.50" cy="390.00" rx="2.38" ry="4.90" fill="#6ee85a" filter="url(#bl07)" opacity="1.0"/>
<ellipse cx="419.00" cy="393.00" rx="4.20" ry="4.20" fill="#38d8f0" filter="url(#bl07)" opacity="1.0"/>
<ellipse cx="419.00" cy="393.00" rx="3.36" ry="3.36" fill="#6ee85a" filter="url(#bl07)" opacity="1.0"/>
<ellipse cx="419.00" cy="393.00" rx="2.31" ry="2.31" fill="#f2f238" filter="url(#bl07)" opacity="1.0"/>
<ellipse cx="417.40" cy="393.00" rx="1.20" ry="1.20" fill="#38d8f0" filter="url(#bl07)" opacity="1.0"/>
<ellipse cx="417.40" cy="393.00" rx="1.03" ry="1.03" fill="#6ee85a" filter="url(#bl07)" opacity="1.0"/>
<ellipse cx="417.40" cy="393.00" rx="0.89" ry="0.89" fill="#f2f238" filter="url(#bl07)" opacity="1.0"/>
<ellipse cx="417.40" cy="393.00" rx="0.77" ry="0.77" fill="#e01818" filter="url(#bl07)" opacity="1.0"/>
<ellipse cx="424.50" cy="386.50" rx="1.50" ry="2.00" fill="#38d8f0" filter="url(#bl07)" opacity="1.0"/>
<ellipse cx="424.80" cy="379.50" rx="1.60" ry="2.40" fill="#f0e0ff" filter="url(#bl07)" opacity="1.0"/>
<path d="M437.80,379.60 C439.84,379.60 440.35,380.68 440.35,382.12 C440.35,383.56 442.25,383.92 442.25,386.08 C442.25,388.96 443.80,390.76 443.80,394.36 C443.80,397.60 440.20,397.60 437.80,397.60 C435.40,397.60 431.80,397.60 431.80,394.36 C431.80,390.76 433.35,388.96 433.35,386.08 C433.35,383.92 435.25,383.56 435.25,382.12 C435.25,380.68 435.76,379.60 437.80,379.60Z" fill="#38d8f0" filter="url(#bl07)" opacity="1.0"/>
<path d="M437.80,380.68 C439.60,380.68 440.04,381.63 440.04,382.90 C440.04,384.16 441.71,384.48 441.71,386.38 C441.71,388.92 443.08,390.50 443.08,393.67 C443.08,396.52 439.91,396.52 437.80,396.52 C435.69,396.52 432.52,396.52 432.52,393.67 C432.52,390.50 433.89,388.92 433.89,386.38 C433.89,384.48 435.56,384.16 435.56,382.90 C435.56,381.63 436.00,380.68 437.80,380.68Z" fill="#6ee85a" filter="url(#bl07)" opacity="1.0"/>
<path d="M437.80,381.58 C439.39,381.58 439.79,382.42 439.79,383.55 C439.79,384.67 441.27,384.95 441.27,386.63 C441.27,388.88 442.48,390.28 442.48,393.09 C442.48,395.62 439.67,395.62 437.80,395.62 C435.93,395.62 433.12,395.62 433.12,393.09 C433.12,390.28 434.33,388.88 434.33,386.63 C434.33,384.95 435.81,384.67 435.81,383.55 C435.81,382.42 436.21,381.58 437.80,381.58Z" fill="#f2f238" filter="url(#bl07)" opacity="1.0"/>
<path d="M437.80,382.66 C439.15,382.66 439.48,383.37 439.48,384.32 C439.48,385.27 440.74,385.51 440.74,386.94 C440.74,388.84 441.76,390.03 441.76,392.40 C441.76,394.54 439.38,394.54 437.80,394.54 C436.22,394.54 433.84,394.54 433.84,392.40 C433.84,390.03 434.86,388.84 434.86,386.94 C434.86,385.51 436.12,385.27 436.12,384.32 C436.12,383.37 436.45,382.66 437.80,382.66Z" fill="#e01818" filter="url(#bl07)" opacity="1.0"/>
<ellipse cx="452.50" cy="390.50" rx="4.20" ry="6.00" fill="#38d8f0" filter="url(#bl07)" opacity="1.0"/>
<ellipse cx="452.50" cy="390.50" rx="3.61" ry="5.16" fill="#6ee85a" filter="url(#bl07)" opacity="1.0"/>
<ellipse cx="453.80" cy="374.80" rx="1.80" ry="1.80" fill="#38d8f0" filter="url(#bl07)" opacity="1.0"/>
<ellipse cx="467.80" cy="391.00" rx="4.40" ry="6.00" fill="#38d8f0" filter="url(#bl07)" opacity="1.0"/>
<ellipse cx="467.80" cy="391.00" rx="3.52" ry="4.80" fill="#6ee85a" filter="url(#bl07)" opacity="1.0"/>
<ellipse cx="467.80" cy="391.00" rx="2.20" ry="3.00" fill="#f2f238" filter="url(#bl07)" opacity="1.0"/>
<ellipse cx="468.20" cy="374.50" rx="1.80" ry="1.80" fill="#38d8f0" filter="url(#bl07)" opacity="1.0"/>
</g>
<rect x="289" y="410.8" width="187" height="3.2" fill="#fffcf2"/>
<linearGradient id="cbar" x1="0" y1="0" x2="0" y2="1"><stop offset="0" stop-color="#b01010"/><stop offset="0.07" stop-color="#d83818"/><stop offset="0.14" stop-color="#e88a22"/><stop offset="0.21" stop-color="#f0d030"/><stop offset="0.26" stop-color="#f6f64a"/><stop offset="0.36" stop-color="#b4ec48"/><stop offset="0.46" stop-color="#74e25a"/><stop offset="0.56" stop-color="#62e6a8"/><stop offset="0.66" stop-color="#7ee4f2"/><stop offset="0.74" stop-color="#3a92e2"/><stop offset="0.81" stop-color="#2244d8"/><stop offset="0.9" stop-color="#1414c4"/><stop offset="1" stop-color="#4a12c6"/></linearGradient>
<rect x="490.3" y="218.8" width="5.6" height="152" fill="url(#cbar)"/>
<line x1="495.90" y1="218.80" x2="497.80" y2="218.80" stroke="#777" stroke-width="0.6" />
<text x="500.20" y="220.20" font-size="3.8" font-weight="400" text-anchor="start" fill="#444" >1.0</text>
<line x1="495.90" y1="224.88" x2="497.00" y2="224.88" stroke="#999" stroke-width="0.5" />
<line x1="495.90" y1="230.96" x2="497.00" y2="230.96" stroke="#999" stroke-width="0.5" />
<line x1="495.90" y1="237.04" x2="497.00" y2="237.04" stroke="#999" stroke-width="0.5" />
<line x1="495.90" y1="243.12" x2="497.00" y2="243.12" stroke="#999" stroke-width="0.5" />
<line x1="495.90" y1="249.20" x2="497.80" y2="249.20" stroke="#777" stroke-width="0.6" />
<text x="500.20" y="250.60" font-size="3.8" font-weight="400" text-anchor="start" fill="#444" >0.8</text>
<line x1="495.90" y1="255.28" x2="497.00" y2="255.28" stroke="#999" stroke-width="0.5" />
<line x1="495.90" y1="261.36" x2="497.00" y2="261.36" stroke="#999" stroke-width="0.5" />
<line x1="495.90" y1="267.44" x2="497.00" y2="267.44" stroke="#999" stroke-width="0.5" />
<line x1="495.90" y1="273.52" x2="497.00" y2="273.52" stroke="#999" stroke-width="0.5" />
<line x1="495.90" y1="279.60" x2="497.80" y2="279.60" stroke="#777" stroke-width="0.6" />
<text x="500.20" y="281.00" font-size="3.8" font-weight="400" text-anchor="start" fill="#444" >0.6</text>
<line x1="495.90" y1="285.68" x2="497.00" y2="285.68" stroke="#999" stroke-width="0.5" />
<line x1="495.90" y1="291.76" x2="497.00" y2="291.76" stroke="#999" stroke-width="0.5" />
<line x1="495.90" y1="297.84" x2="497.00" y2="297.84" stroke="#999" stroke-width="0.5" />
<line x1="495.90" y1="303.92" x2="497.00" y2="303.92" stroke="#999" stroke-width="0.5" />
<line x1="495.90" y1="310.00" x2="497.80" y2="310.00" stroke="#777" stroke-width="0.6" />
<text x="500.20" y="311.40" font-size="3.8" font-weight="400" text-anchor="start" fill="#444" >0.4</text>
<line x1="495.90" y1="316.08" x2="497.00" y2="316.08" stroke="#999" stroke-width="0.5" />
<line x1="495.90" y1="322.16" x2="497.00" y2="322.16" stroke="#999" stroke-width="0.5" />
<line x1="495.90" y1="328.24" x2="497.00" y2="328.24" stroke="#999" stroke-width="0.5" />
<line x1="495.90" y1="334.32" x2="497.00" y2="334.32" stroke="#999" stroke-width="0.5" />
<line x1="495.90" y1="340.40" x2="497.80" y2="340.40" stroke="#777" stroke-width="0.6" />
<text x="500.20" y="341.80" font-size="3.8" font-weight="400" text-anchor="start" fill="#444" >0.2</text>
<line x1="495.90" y1="346.48" x2="497.00" y2="346.48" stroke="#999" stroke-width="0.5" />
<line x1="495.90" y1="352.56" x2="497.00" y2="352.56" stroke="#999" stroke-width="0.5" />
<line x1="495.90" y1="358.64" x2="497.00" y2="358.64" stroke="#999" stroke-width="0.5" />
<line x1="495.90" y1="364.72" x2="497.00" y2="364.72" stroke="#999" stroke-width="0.5" />
<line x1="495.90" y1="370.80" x2="497.80" y2="370.80" stroke="#777" stroke-width="0.6" />
<text x="490.00" y="213.20" font-size="3.4" font-weight="700" text-anchor="start" fill="#333" >Luminescence</text>
<text x="506.50" y="295.00" font-size="3.6" font-weight="400" text-anchor="start" fill="#555" >x10</text>
<text x="512.30" y="293.00" font-size="2.6" font-weight="400" text-anchor="start" fill="#555" >7</text>
<text x="490.00" y="380.50" font-size="3.4" font-weight="400" text-anchor="start" fill="#333" >Radiance</text>
<text x="490.00" y="384.50" font-size="3.2" font-weight="400" text-anchor="start" fill="#333" >(p/sec/cm²/sr)</text>
<rect x="489.8" y="389.5" width="26" height="15.4" fill="none" stroke="#555" stroke-width="0.6"/>
<text x="491.00" y="394.00" font-size="3.2" font-weight="400" text-anchor="start" fill="#333" >Color Scale</text>
<text x="491.00" y="398.50" font-size="3.2" font-weight="400" text-anchor="start" fill="#333" >Min = 1.00e6</text>
<text x="491.00" y="403.00" font-size="3.2" font-weight="400" text-anchor="start" fill="#333" >Max = 1.00e7</text>
</svg>
</body></html>
